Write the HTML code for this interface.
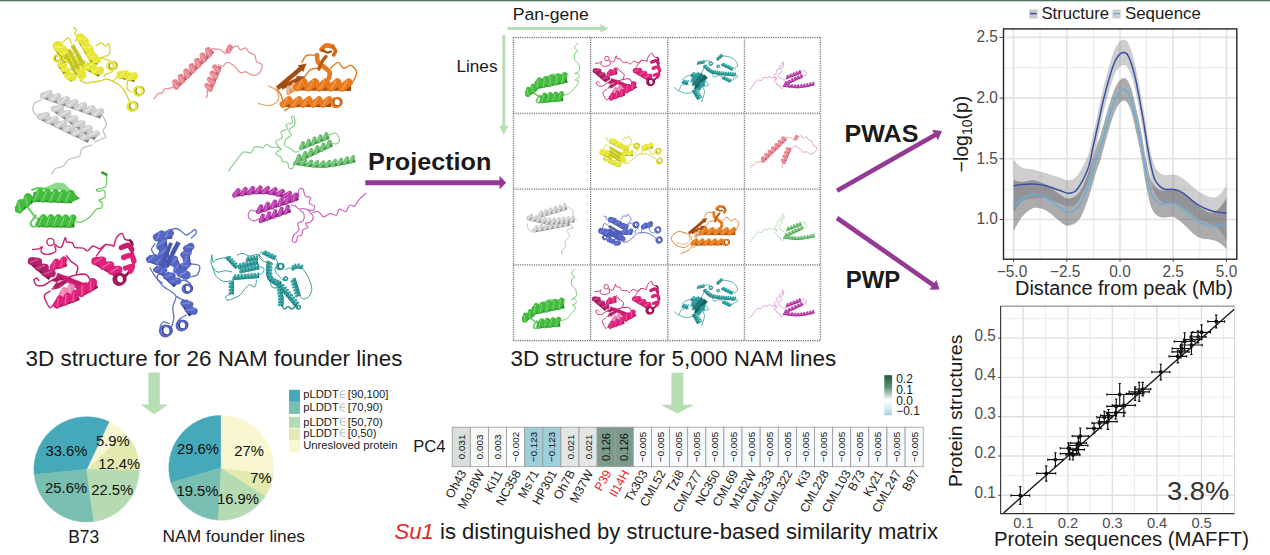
<!DOCTYPE html>
<html><head><meta charset="utf-8"><title>Figure</title>
<style>
html,body{margin:0;padding:0;background:#ffffff;}
body{width:1270px;height:555px;overflow:hidden;font-family:"Liberation Sans",sans-serif;}
svg{display:block;position:absolute;left:0;top:0;}
</style></head><body>
<svg width="1270" height="555" viewBox="0 0 1270 555" font-family='"Liberation Sans", sans-serif'><rect x="0" y="0" width="1270" height="1" fill="#47765a"/>
<rect x="0" y="1" width="1270" height="0.7" fill="#b3cbb9"/>
<text x="25.5" y="365.7" font-size="21.7" text-anchor="start" font-weight="normal" font-style="normal" fill="#1a1a1a" textLength="377" lengthAdjust="spacingAndGlyphs">3D structure for 26 NAM founder lines</text>
<text x="510.4" y="365.6" font-size="21.7" text-anchor="start" font-weight="normal" font-style="normal" fill="#1a1a1a" textLength="325.8" lengthAdjust="spacingAndGlyphs">3D structure for 5,000 NAM lines</text>
<text x="368.1" y="170.2" font-size="24.8" text-anchor="start" font-weight="bold" font-style="normal" fill="#1a1a1a" textLength="123.3" lengthAdjust="spacingAndGlyphs">Projection</text>
<text x="844.6" y="141.8" font-size="24.2" text-anchor="start" font-weight="bold" font-style="normal" fill="#1a1a1a" textLength="73.8" lengthAdjust="spacingAndGlyphs">PWAS</text>
<text x="845.7" y="288.2" font-size="24.2" text-anchor="start" font-weight="bold" font-style="normal" fill="#1a1a1a" textLength="54.5" lengthAdjust="spacingAndGlyphs">PWP</text>
<text x="512.7" y="19.8" font-size="17.2" text-anchor="start" font-weight="normal" font-style="normal" fill="#1a1a1a" textLength="76.2" lengthAdjust="spacingAndGlyphs">Pan-gene</text>
<text x="456.4" y="72" font-size="17.2" text-anchor="start" font-weight="normal" font-style="normal" fill="#1a1a1a" textLength="41.1" lengthAdjust="spacingAndGlyphs">Lines</text>
<path d="M365.3 180.2H499.5V175.8L506.2 182.7L499.5 189.6V185.2H365.3Z" fill="#943a94"/>
<path d="M838.1 192.8L936.2 137L938 140.2L942 131L932.1 129.7L933.9 133L835.9 188.8Z" fill="#943a94"/>
<path d="M835.7 219.9L931.6 286.7L929.5 289.8L939.5 289.4L936.4 279.9L934.3 282.9L838.3 216.1Z" fill="#943a94"/>
<path d="M507.4 26.9H600.3V24L608.6 28.4L600.3 32.8V29.9H507.4Z" fill="#b7deb2"/>
<path d="M502.3 35.3H505.3V125.7H508.6L503.8 134.5L499.2 125.7H502.3Z" fill="#b7deb2"/>
<path d="M148.4 372.6H159.8V404.6H168.2L154.3 414.2L140.7 404.6H148.4Z" fill="#b7deb2"/>
<path d="M671.4 372.8H683.4V404.8H694.2L677.4 413.4L660.6 404.8H671.4Z" fill="#b7deb2"/>
<line x1="514.1" y1="37.4" x2="514.1" y2="340.6" stroke="#d6d6d6" stroke-width="0.6"/>
<line x1="513.3" y1="37.4" x2="513.3" y2="340.6" stroke="#383838" stroke-width="0.9" stroke-dasharray="1 1.3"/>
<line x1="591.3" y1="37.4" x2="591.3" y2="340.6" stroke="#d6d6d6" stroke-width="0.6"/>
<line x1="590.5" y1="37.4" x2="590.5" y2="340.6" stroke="#383838" stroke-width="0.9" stroke-dasharray="1 1.3"/>
<line x1="668.5" y1="37.4" x2="668.5" y2="340.6" stroke="#d6d6d6" stroke-width="0.6"/>
<line x1="667.7" y1="37.4" x2="667.7" y2="340.6" stroke="#383838" stroke-width="0.9" stroke-dasharray="1 1.3"/>
<line x1="745.1" y1="37.4" x2="745.1" y2="340.6" stroke="#d6d6d6" stroke-width="0.6"/>
<line x1="744.3" y1="37.4" x2="744.3" y2="340.6" stroke="#383838" stroke-width="0.9" stroke-dasharray="1 1.3"/>
<line x1="821" y1="37.4" x2="821" y2="340.6" stroke="#d6d6d6" stroke-width="0.6"/>
<line x1="820.2" y1="37.4" x2="820.2" y2="340.6" stroke="#383838" stroke-width="0.9" stroke-dasharray="1 1.3"/>
<line x1="513.3" y1="38.2" x2="820.2" y2="38.2" stroke="#d6d6d6" stroke-width="0.6"/>
<line x1="513.3" y1="37.4" x2="820.2" y2="37.4" stroke="#383838" stroke-width="0.9" stroke-dasharray="1 1.3"/>
<line x1="513.3" y1="114" x2="820.2" y2="114" stroke="#d6d6d6" stroke-width="0.6"/>
<line x1="513.3" y1="113.2" x2="820.2" y2="113.2" stroke="#383838" stroke-width="0.9" stroke-dasharray="1 1.3"/>
<line x1="513.3" y1="189.8" x2="820.2" y2="189.8" stroke="#d6d6d6" stroke-width="0.6"/>
<line x1="513.3" y1="189" x2="820.2" y2="189" stroke="#383838" stroke-width="0.9" stroke-dasharray="1 1.3"/>
<line x1="513.3" y1="265.6" x2="820.2" y2="265.6" stroke="#d6d6d6" stroke-width="0.6"/>
<line x1="513.3" y1="264.8" x2="820.2" y2="264.8" stroke="#383838" stroke-width="0.9" stroke-dasharray="1 1.3"/>
<line x1="513.3" y1="341.4" x2="820.2" y2="341.4" stroke="#d6d6d6" stroke-width="0.6"/>
<line x1="513.3" y1="340.6" x2="820.2" y2="340.6" stroke="#383838" stroke-width="0.9" stroke-dasharray="1 1.3"/>
<g><path d="M41 100C39.8 100.7 35.2 102 34 104C32.8 106 32.7 109.8 33.5 112C34.3 114.2 38.1 116.2 39 117" fill="none" stroke="#c2c2c6" stroke-width="1.3" stroke-linecap="round" stroke-linejoin="round"/><path d="M102 115C102.8 116.5 106.3 121.3 106.5 124C106.7 126.7 103.1 128.8 103 131C102.9 133.2 106.3 135.7 106 137C105.7 138.3 102.8 138.2 101 139C99.2 139.8 96 141.5 95 142" fill="none" stroke="#c2c2c6" stroke-width="1.3" stroke-linecap="round" stroke-linejoin="round"/><path d="M92 145C90.3 145.6 84.1 146.7 82 148.5C79.9 150.3 81.7 154.2 79.5 156C77.3 157.8 71.8 157.8 69 159.5C66.2 161.2 64.8 165 62.5 166.5C60.2 168 57.2 167.2 55.5 168.5C53.8 169.8 52.6 173.1 52 174" fill="none" stroke="#c2c2c6" stroke-width="1.3" stroke-linecap="round" stroke-linejoin="round"/><path d="M38.5 116L47 120.1L55.4 124.1L63.8 128.2L72.2 132.3L80.6 136.4L89 140.5" fill="none" stroke="#8c8c90" stroke-width="5.5" stroke-linecap="butt" stroke-linejoin="round"/><path d="M40.2 116.8L47.2 115.3M48.6 120.9L55.6 119.3M57 125L64 123.4M65.5 129.1L72.5 127.5M73.9 133.2L80.9 131.6M82.3 137.2L89.3 135.7" fill="none" stroke="#cdcdcf" stroke-width="6.5" stroke-linecap="round"/><path d="M39.9 117.9L46.3 113.6M48.3 122L54.7 117.7M56.7 126L63.2 121.8M65.2 130.1L71.6 125.9M73.6 134.2L80 130M82 138.3L88.4 134.1" fill="none" stroke="#f4f4f4" stroke-width="1.7" stroke-linecap="round" opacity="0.6"/><path d="M41.3 95.1L49.8 98.1L58.4 101.1L67 104.1L75.6 107.1L84.1 110.1L92.7 113.1L101.3 116.1" fill="none" stroke="#8c8c90" stroke-width="5.5" stroke-linecap="butt" stroke-linejoin="round"/><path d="M42.9 95.8L49.6 93.2M51.5 98.8L58.2 96.2M60.1 101.8L66.8 99.2M68.7 104.8L75.3 102.2M77.2 107.8L83.9 105.2M85.8 110.8L92.5 108.2M94.4 113.8L101.1 111.2" fill="none" stroke="#cdcdcf" stroke-width="6.4" stroke-linecap="round"/><path d="M42.8 96.8L48.6 91.8M51.4 99.8L57.1 94.8M59.9 102.8L65.7 97.8M68.5 105.8L74.3 100.8M77.1 108.8L82.9 103.8M85.7 111.8L91.4 106.8M94.2 114.8L100 109.8" fill="none" stroke="#f4f4f4" stroke-width="1.6" stroke-linecap="round" opacity="0.6"/><path d="M52.7 107.8L59.9 112.9L67.1 118L74.2 123L81.4 128.1L88.6 133.2L95.7 138.3" fill="none" stroke="#8c8c90" stroke-width="5.5" stroke-linecap="butt" stroke-linejoin="round"/><path d="M54 109L61.1 108.1M61.2 114.1L68.3 113.2M68.4 119.2L75.5 118.3M75.5 124.2L82.6 123.3M82.7 129.3L89.8 128.4M89.9 134.4L97 133.5" fill="none" stroke="#cdcdcf" stroke-width="6.2" stroke-linecap="round"/><path d="M53.7 109.8L60.5 106.6M60.8 114.9L67.7 111.6M68 120L74.8 116.7M75.2 125.1L82 121.8M82.3 130.1L89.2 126.9M89.5 135.2L96.3 132" fill="none" stroke="#f4f4f4" stroke-width="1.6" stroke-linecap="round" opacity="0.6"/></g>
<g><path d="M73.5 27.5C74 27.9 76.3 29 76.5 30C76.7 31 74.4 32.4 74.5 33.5C74.6 34.6 76.8 35.2 77 36.5C77.2 37.8 75.8 40.2 75.5 41" fill="none" stroke="#d6d63a" stroke-width="1.3" stroke-linecap="round" stroke-linejoin="round"/><path d="M72 44C71.3 43 69.5 38.3 68 38C66.5 37.7 64.7 41 63 42C61.3 43 58.8 43.7 58 44" fill="none" stroke="#d6d63a" stroke-width="1.3" stroke-linecap="round" stroke-linejoin="round"/><path d="M96 46C96.8 45.5 99.3 43 101 43C102.7 43 104.7 45.8 106 46C107.3 46.2 108.4 42.7 109 44C109.6 45.3 110.5 51.8 109.5 54C108.5 56.2 104.6 56.3 103 57C101.4 57.7 99.2 57.5 100 58C100.8 58.5 105.8 59 108 60C110.2 61 112.3 62 113 64C113.7 66 113.2 70.3 112 72C110.8 73.7 107.3 73.2 106 74C104.7 74.8 104.3 76.5 104 77" fill="none" stroke="#d6d63a" stroke-width="1.3" stroke-linecap="round" stroke-linejoin="round"/><path d="M60 64C60.5 65 61.3 68.3 63 70C64.7 71.7 68.8 73.3 70 74" fill="none" stroke="#d6d63a" stroke-width="1.3" stroke-linecap="round" stroke-linejoin="round"/><path d="M80 80C81 80.5 83.8 82.7 86 83C88.2 83.3 90.7 82.3 93 82C95.3 81.7 97.7 81.5 100 81C102.3 80.5 104.8 78.9 107 79C109.2 79.1 111.2 80.7 113 81.5C114.8 82.3 116.2 82.6 118 84C119.8 85.4 122.1 87.2 124 90C125.9 92.8 128.4 99.2 129.3 101" fill="none" stroke="#d6d63a" stroke-width="1.4" stroke-linecap="round" stroke-linejoin="round"/><path d="M113 81.5C113.7 80.8 115.7 78.1 117 77C118.3 75.9 120.3 75.3 121 75" fill="none" stroke="#d6d63a" stroke-width="1.3" stroke-linecap="round" stroke-linejoin="round"/><path d="M128 80C127.8 81.3 126.5 86 127 88C127.5 90 130.3 91.3 131 92" fill="none" stroke="#d6d63a" stroke-width="1.3" stroke-linecap="round" stroke-linejoin="round"/><path d="M55.9 44.2L61.9 53L67.9 61.7" fill="none" stroke="#9d9d1c" stroke-width="8.3" stroke-linecap="butt" stroke-linejoin="round"/><path d="M57.5 45.8L62.5 50M63.5 54.5L68.5 58.7" fill="none" stroke="#e6e636" stroke-width="9.8" stroke-linecap="round"/><path d="M55.3 47.2L63.6 46.9M61.3 55.9L69.6 55.7" fill="none" stroke="#f6f68a" stroke-width="1.9" stroke-linecap="round" opacity="0.6"/><circle cx="58.2" cy="58.2" r="3.1" fill="none" stroke="#9d9d1c" stroke-width="1.6"/><circle cx="57" cy="58.5" r="3.4" fill="none" stroke="#e6e636" stroke-width="2"/><path d="M59.7 63.6L63 68.1L66.2 72.6" fill="none" stroke="#9d9d1c" stroke-width="6.3" stroke-linecap="butt" stroke-linejoin="round"/><path d="M59.7 65L64.6 65.5M62.9 69.5L67.8 70" fill="none" stroke="#e6e636" stroke-width="5.1" stroke-linecap="round"/><path d="M59 65.4L64.6 64.2M62.3 69.9L67.9 68.7" fill="none" stroke="#f6f68a" stroke-width="1" stroke-linecap="round" opacity="0.6"/><path d="M79.9 67.6L83.4 76.6" fill="none" stroke="#9d9d1c" stroke-width="6.3" stroke-linecap="butt" stroke-linejoin="round"/><path d="M81.7 75.2L79.8 69.8" fill="none" stroke="#e6e636" stroke-width="8.9" stroke-linecap="round"/><path d="M78.7 74.5L82.2 68.8" fill="none" stroke="#f6f68a" stroke-width="1.7" stroke-linecap="round" opacity="0.6"/><path d="M62.2 50.9L69.7 57.2L75.2 64.5L78.9 73.5" fill="none" stroke="#9d9d1c" stroke-width="7.9" stroke-linecap="butt" stroke-linejoin="round"/><path d="M63.9 52L69.6 54.3M70.5 58.9L76.2 61.3M76 66.3L80.3 70.7" fill="none" stroke="#e6e636" stroke-width="9" stroke-linecap="round"/><path d="M62.4 53.7L69.8 51.4M69 60.6L76.5 58.4M73.9 67.3L81.6 68.1" fill="none" stroke="#f6f68a" stroke-width="1.8" stroke-linecap="round" opacity="0.6"/><path d="M70.8 46.4L71.2 47.1L71.7 48L72.3 49.1L73 50.2L73.7 51.5L74.5 52.8L75.2 54.2L76 55.5L76.7 56.7L77.3 57.9L78 59.1L78.7 60.3L79.4 61.6L80.1 62.9L78.6 63.7L85 68L84.9 60.2L83.4 61.1L82.7 59.8L82 58.5L81.3 57.3L80.7 56.1L80 54.9L79.3 53.6L78.5 52.3L77.8 50.9L77 49.6L76.3 48.4L75.6 47.2L75 46.1L74.5 45.2L74.2 44.6Z" fill="#c4c428" stroke="#c4c428" stroke-width="0.4" stroke-linejoin="round"/><path d="M67.6 50.7L67.9 51.4L68.4 52.4L69 53.6L69.6 54.8L70.3 56.2L71 57.6L71.7 59L72.4 60.4L73 61.6L73.6 62.7L74.1 63.7L74.6 64.7L75 65.7L73.8 66.3L79 70L79.2 63.6L77.9 64.2L77.4 63.3L76.9 62.3L76.4 61.3L75.9 60.2L75.3 58.9L74.6 57.6L73.9 56.2L73.2 54.8L72.5 53.4L71.9 52.1L71.3 51L70.8 50L70.4 49.3Z" fill="#c4c428" stroke="#c4c428" stroke-width="0.4" stroke-linejoin="round"/><path d="M64.7 54.7L65 55.4L65.5 56.4L66.1 57.6L66.8 58.9L67.5 60.2L68.2 61.7L68.9 63.1L69.6 64.4L70.1 65.6L70.6 66.6L71.1 67.6L71.5 68.4L70.2 69L75 73L75.4 66.7L74.2 67.2L73.8 66.3L73.4 65.4L72.8 64.3L72.2 63.1L71.6 61.7L70.9 60.3L70.2 58.9L69.5 57.5L68.8 56.2L68.2 55L67.7 54.1L67.3 53.3Z" fill="#c4c428" stroke="#c4c428" stroke-width="0.4" stroke-linejoin="round"/><path d="M79 36.1L84 44.4L89 52.8L94 61.1" fill="none" stroke="#9d9d1c" stroke-width="7.5" stroke-linecap="butt" stroke-linejoin="round"/><path d="M80.4 37.6L84.6 41.8M85.4 45.9L89.6 50.1M90.4 54.2L94.6 58.4" fill="none" stroke="#e6e636" stroke-width="8.9" stroke-linecap="round"/><path d="M78.3 38.8L85.8 39M83.3 47.1L90.8 47.4M88.3 55.4L95.8 55.7" fill="none" stroke="#f6f68a" stroke-width="1.7" stroke-linecap="round" opacity="0.6"/><path d="M85.4 65.5L92.9 69.5L100.4 73.5" fill="none" stroke="#7c7c14" stroke-width="7.5" stroke-linecap="butt" stroke-linejoin="round"/><path d="M86.9 66.5L92.6 66.5M94.4 70.5L100.1 70.5" fill="none" stroke="#e6e636" stroke-width="7.8" stroke-linecap="round"/><path d="M86 68.1L92.1 64.2M93.5 72.1L99.6 68.2" fill="none" stroke="#f6f68a" stroke-width="1.5" stroke-linecap="round" opacity="0.6"/><path d="M66.5 74.8L73.5 79.3" fill="none" stroke="#9d9d1c" stroke-width="6.3" stroke-linecap="butt" stroke-linejoin="round"/><path d="M68.1 75.4L72.9 77.1" fill="none" stroke="#e6e636" stroke-width="7.7" stroke-linecap="round"/><path d="M67 77.1L72.8 74.6" fill="none" stroke="#f6f68a" stroke-width="1.5" stroke-linecap="round" opacity="0.6"/><path d="M89.5 56.7L94 59.7L98.5 62.7" fill="none" stroke="#9d9d1c" stroke-width="5.5" stroke-linecap="butt" stroke-linejoin="round"/><path d="M90.1 57.7L94.4 57.3M94.6 60.7L98.9 60.3" fill="none" stroke="#e6e636" stroke-width="5" stroke-linecap="round"/><path d="M89.6 58.5L94.1 55.9M94.1 61.5L98.6 58.9" fill="none" stroke="#f6f68a" stroke-width="1" stroke-linecap="round" opacity="0.6"/><circle cx="113" cy="65.6" r="3.8" fill="none" stroke="#9d9d1c" stroke-width="1.8"/><circle cx="111.5" cy="66" r="4.2" fill="none" stroke="#e6e636" stroke-width="2.2"/><path d="M118.7 74.6L127 76.6L135.2 78.6" fill="none" stroke="#6e6e12" stroke-width="7.1" stroke-linecap="butt" stroke-linejoin="round"/><path d="M120.4 74.9L125.8 74.1M128.7 76.9L134.1 76.1" fill="none" stroke="#e6e636" stroke-width="7.8" stroke-linecap="round"/><path d="M119.9 76.8L124.8 71.8M128.2 78.8L133 73.8" fill="none" stroke="#f6f68a" stroke-width="1.5" stroke-linecap="round" opacity="0.6"/><circle cx="139.8" cy="90.8" r="4" fill="none" stroke="#9d9d1c" stroke-width="1.8"/><circle cx="138.3" cy="91.2" r="4.4" fill="none" stroke="#e6e636" stroke-width="2.3"/><circle cx="133.5" cy="106.1" r="4" fill="none" stroke="#9d9d1c" stroke-width="1.9"/><circle cx="132" cy="106.5" r="4.4" fill="none" stroke="#e6e636" stroke-width="2.4"/></g>
<g><path d="M154.4 98.5C155 97.7 156.7 94.4 158 93.5C159.3 92.6 160.9 93.8 162 93C163.1 92.2 163.4 89.8 164.5 89C165.6 88.2 167.1 88.8 168.5 88.5C169.9 88.2 172.2 87.2 173 87" fill="none" stroke="#e4949c" stroke-width="1.3" stroke-linecap="round" stroke-linejoin="round"/><path d="M211.5 49C212.9 49.1 217.6 48.8 220 49.5C222.4 50.2 224.4 53.6 225.7 53.5C227 53.4 227.6 49.8 228 49" fill="none" stroke="#e4949c" stroke-width="1.3" stroke-linecap="round" stroke-linejoin="round"/><path d="M231.5 48C232.5 47.6 235.9 45.6 237.3 45.9C238.8 46.2 238.8 49.4 240.2 49.8C241.6 50.1 244.5 47.6 245.9 48C247.3 48.4 247.4 51.1 248.8 52.3C250.2 53.5 253.3 53.6 254.6 55.2C255.9 56.8 255.5 60.1 256.7 61.7C257.9 63.3 261.2 62.9 261.8 64.6C262.4 66.3 261.8 70 260.3 71.8C258.9 73.6 255.5 75.4 253.1 75.4C250.7 75.4 248.1 72.3 245.9 71.8C243.8 71.3 242.1 73.5 240.2 72.5C238.3 71.5 236.6 67.7 234.4 66C232.2 64.3 229.1 62.4 227.2 62.4C225.3 62.4 224.3 65.6 222.9 66C221.5 66.4 219.2 64.8 218.5 64.6" fill="none" stroke="#e4949c" stroke-width="1.3" stroke-linecap="round" stroke-linejoin="round"/><path d="M207 90.5C207.1 91.1 207.6 92.8 207.5 94C207.4 95.2 206.7 96.9 206.5 97.5" fill="none" stroke="#e4949c" stroke-width="1.3" stroke-linecap="round" stroke-linejoin="round"/><path d="M174.7 88.7L180.2 83.3L185.6 77.9L191.1 72.6L196.6 67.2L202 61.9L207.5 56.5L212.9 51.2" fill="none" stroke="#b25862" stroke-width="3.9" stroke-linecap="butt" stroke-linejoin="round"/><path d="M176.3 86.3L175.3 82.3M181.8 81L180.8 76.9M187.2 75.6L186.3 71.6M192.7 70.3L191.7 66.2M198.1 64.9L197.2 60.9M203.6 59.6L202.6 55.5M209.1 54.2L208.1 50.2" fill="none" stroke="#e8828c" stroke-width="6.1" stroke-linecap="round"/><path d="M176.9 87.3L173.9 82.2M182.3 82L179.3 76.8M187.8 76.6L184.8 71.4M193.3 71.3L190.3 66.1M198.7 65.9L195.7 60.7M204.2 60.6L201.2 55.4M209.6 55.2L206.6 50" fill="none" stroke="#f6bcc2" stroke-width="1.4" stroke-linecap="round" opacity="0.6"/><path d="M209.5 91.2L212.1 85L214.7 78.9L217.3 72.7L219.9 66.5" fill="none" stroke="#b25862" stroke-width="3.9" stroke-linecap="butt" stroke-linejoin="round"/><path d="M210.3 88.9L207.1 85.5M212.9 82.7L209.7 79.3M215.5 76.6L212.3 73.2M218.1 70.4L214.9 67" fill="none" stroke="#e8828c" stroke-width="5.4" stroke-linecap="round"/><path d="M210.9 89.4L206.1 86M213.5 83.3L208.7 79.8M216.1 77.1L211.3 73.6M218.7 70.9L213.9 67.4" fill="none" stroke="#f6bcc2" stroke-width="1.2" stroke-linecap="round" opacity="0.6"/><path d="M228.4 52.6L232.2 47" fill="none" stroke="#b25862" stroke-width="2.4" stroke-linecap="butt" stroke-linejoin="round"/><path d="M228.2 50.9L230 47.1" fill="none" stroke="#e8828c" stroke-width="5.4" stroke-linecap="round"/><path d="M229.5 51.6L228.1 47.3" fill="none" stroke="#f6bcc2" stroke-width="1.2" stroke-linecap="round" opacity="0.6"/></g>
<g><path d="M258.7 103.5C260.4 103.9 265.9 105.8 268.8 105.7C271.7 105.6 274.3 104.2 276 102.8C277.7 101.3 278.8 99.2 278.8 97C278.8 94.8 277.7 91.6 276 89.8C274.3 88 270 86.8 268.8 86.2" fill="none" stroke="#e9a46e" stroke-width="1.3" stroke-linecap="round" stroke-linejoin="round"/><path d="M284.6 110.7C285.6 110.1 288 107.8 290.4 107.1C292.8 106.4 297.6 106.5 299 106.4" fill="none" stroke="#e07a22" stroke-width="1.4" stroke-linecap="round" stroke-linejoin="round"/><path d="M302 62.4C302.7 61.3 304.1 56.8 306.3 55.6C308.5 54.4 313.6 55.3 315 55.2" fill="none" stroke="#e07a22" stroke-width="1.4" stroke-linecap="round" stroke-linejoin="round"/><path d="M304.8 76.8C305.8 75.6 308.2 71 310.6 69.6C313 68.2 317.8 68.4 319.2 68.2" fill="none" stroke="#e07a22" stroke-width="1.4" stroke-linecap="round" stroke-linejoin="round"/><path d="M330.8 68.2C332 67.2 335.8 62.4 338 62.4C340.2 62.4 341.6 67.7 343.8 68.2C346 68.7 348.9 64.6 351 65.3C353.1 66 356.5 69.6 356.7 72.5C356.9 75.4 353.6 80.4 352.4 82.6C351.2 84.8 350 85 349.5 85.5" fill="none" stroke="#e07a22" stroke-width="1.4" stroke-linecap="round" stroke-linejoin="round"/><path d="M277 89C277.7 90 280 93 281 95C282 97 282.7 100 283 101" fill="none" stroke="#e07a22" stroke-width="1.4" stroke-linecap="round" stroke-linejoin="round"/><path d="M278.9 89.8L281.7 87.4L284.6 84.9L287.5 82.5L290.4 80L293.3 77.6L296.1 75.2L299 72.7L301.9 70.3L303.1 71.7L306.3 63.8L298 65.6L299.2 67.1L296.3 69.5L293.4 72L290.5 74.4L287.7 76.8L284.8 79.3L281.9 81.7L279 84.2L276.1 86.6Z" fill="#a34c10" stroke="#a34c10" stroke-width="0.4" stroke-linejoin="round"/><path d="M282.4 89.3L284.7 88.3L287 87.2L289.4 86.1L291.7 85.1L294 84L296.3 83L298.7 81.9L299.5 83.6L304.8 76.8L296.2 76.3L296.9 78.1L294.6 79.1L292.3 80.2L290 81.2L287.6 82.3L285.3 83.4L283 84.4L280.6 85.5Z" fill="#a34c10" stroke="#a34c10" stroke-width="0.4" stroke-linejoin="round"/><path d="M287.1 93.6L292.1 90.4L297.1 87.1" fill="none" stroke="#c98552" stroke-width="4" stroke-linecap="butt" stroke-linejoin="round"/><path d="M288.3 93.3L288.7 87.4M293.3 90.1L293.7 84.2" fill="none" stroke="#eaa877" stroke-width="4.1" stroke-linecap="round"/><path d="M288.5 93.5L287.8 87.7M293.5 90.2L292.8 84.5" fill="none" stroke="#f6d2b4" stroke-width="1.1" stroke-linecap="round" opacity="0.6"/><path d="M294.7 87.5L305.9 87.6L317.2 87.7L328.5 87.8L339.7 87.9L351 88" fill="none" stroke="#a34c10" stroke-width="5.9" stroke-linecap="butt" stroke-linejoin="round"/><path d="M296.9 87.4L303.7 81.9M308.2 87.5L315 82M319.4 87.6L326.3 82.1M330.7 87.7L337.5 82.2M342 87.8L348.8 82.3" fill="none" stroke="#e8791c" stroke-width="7.7" stroke-linecap="round"/><path d="M297.2 88.6L302 80.7M308.4 88.7L313.2 80.8M319.7 88.8L324.5 80.9M330.9 88.9L335.7 81M342.2 89L347 81.1" fill="none" stroke="#f3a661" stroke-width="2" stroke-linecap="round" opacity="0.6"/><path d="M281 104.5L291 104.5L301 104.5L311 104.5L321 104.5L331 104.5" fill="none" stroke="#a34c10" stroke-width="5.2" stroke-linecap="butt" stroke-linejoin="round"/><path d="M283 104.4L289 99.6M293 104.4L299 99.6M303 104.4L309 99.6M313 104.4L319 99.6M323 104.4L329 99.6" fill="none" stroke="#e8791c" stroke-width="6.8" stroke-linecap="round"/><path d="M283.2 105.5L287.4 98.5M293.2 105.5L297.4 98.5M303.2 105.5L307.4 98.5M313.2 105.5L317.4 98.5M323.2 105.5L327.4 98.5" fill="none" stroke="#f3a661" stroke-width="1.8" stroke-linecap="round" opacity="0.6"/><circle cx="337.6" cy="102.1" r="4.1" fill="none" stroke="#a34c10" stroke-width="1.8"/><circle cx="336" cy="102.6" r="4.6" fill="none" stroke="#e8791c" stroke-width="2.2"/><path d="M317 55C317.2 56.2 316.8 60 318 62C319.2 64 322.1 65.3 324 67C325.9 68.7 328.7 70.2 329.5 72C330.3 73.8 329.1 77 329 78" fill="none" stroke="#e8791c" stroke-width="4.6" stroke-linecap="round" stroke-linejoin="round"/><path d="M326 56.5C325.2 57.5 322.7 60.4 321.5 62.5C320.3 64.6 319.4 67.9 319 69" fill="none" stroke="#b85c14" stroke-width="3.4" stroke-linecap="round" stroke-linejoin="round"/><path d="M321.5 49.5C322.2 48.8 324.2 46 326 45.5C327.8 45 331.4 46.3 332.5 46.5" fill="none" stroke="#e8791c" stroke-width="4.6" stroke-linecap="round" stroke-linejoin="round"/><path d="M332.5 46.5C333 47.2 335.3 49.6 335.5 51C335.7 52.4 333.8 54.3 333.5 55" fill="none" stroke="#d06a16" stroke-width="3.6" stroke-linecap="round" stroke-linejoin="round"/><path d="M322 50C322.8 50.4 325.5 52.2 327 52.5C328.5 52.8 330.3 51.7 331 51.5" fill="none" stroke="#a34c10" stroke-width="2.2" stroke-linecap="round" stroke-linejoin="round"/></g>
<g><path d="M228.4 170.9C229.8 169.1 234.4 163 236.9 159.9C239.4 156.8 241 153.3 243.4 152.1C245.8 150.9 249.2 153.7 251.1 152.8C253 151.9 253.1 147.8 255 146.9C256.9 146 260.9 148 262.8 147.6C264.8 147.2 265.2 144.3 266.7 144.3C268.2 144.3 269.9 147.2 271.9 147.6C273.8 148 276.9 146.6 278.4 146.9C279.9 147.2 280.6 149.1 281 149.5" fill="none" stroke="#8ccf90" stroke-width="1.2" stroke-linecap="round" stroke-linejoin="round"/><path d="M281 149.5C280.1 148.2 275.6 143.6 275.8 141.7C276 139.8 281.4 139.4 282.3 137.8C283.2 136.2 280.1 133.5 281 132C281.9 130.5 286.6 130 287.5 128.8C288.4 127.6 285.3 126 286.2 124.9C287.1 123.8 291.8 123.6 292.7 122.3C293.6 121 291.2 118 291.4 117.1C291.6 116.2 293.5 115.8 294 117.1C294.5 118.4 295.5 122.7 294.6 124.9C293.7 127.1 289.3 128.4 288.8 130.1C288.3 131.8 291.8 133.7 291.4 135.2C291 136.7 287.3 137.4 286.2 139.1C285.1 140.8 284.2 144.1 284.9 145.6C285.5 147.1 288.4 147.1 290.1 148.2C291.8 149.3 293.8 151.7 295.3 152.1C296.8 152.5 298.5 151 299.1 150.8" fill="none" stroke="#8ccf90" stroke-width="1.2" stroke-linecap="round" stroke-linejoin="round"/><path d="M281 149.5C280.1 150.2 275.8 152.1 275.8 153.4C275.8 154.7 279.9 156 281 157.3C282.1 158.6 281.2 160.3 282.3 161.2C283.4 162.1 286.4 161.4 287.5 162.5C288.6 163.6 287.9 166.7 288.8 167.7C289.7 168.7 291.8 169 292.7 168.3C293.6 167.7 293.8 164.6 294 163.8" fill="none" stroke="#8ccf90" stroke-width="1.2" stroke-linecap="round" stroke-linejoin="round"/><path d="M328.3 135.2C329.5 134.9 333.6 132.7 335.5 133.3C337.4 134 339.2 137.4 339.4 139.1C339.6 140.8 338.1 143 336.8 143.7C335.5 144.3 332.5 143.1 331.6 143" fill="none" stroke="#8ccf90" stroke-width="1.2" stroke-linecap="round" stroke-linejoin="round"/><path d="M299.8 148.7L305.6 146.4L311.5 144.1L317.3 141.8L323.2 139.5L329 137.2" fill="none" stroke="#3c8a44" stroke-width="3.2" stroke-linecap="butt" stroke-linejoin="round"/><path d="M301 148.3L303 143.2M306.8 146L308.9 140.9M312.7 143.7L314.7 138.6M318.5 141.4L320.6 136.3M324.4 139.1L326.4 134" fill="none" stroke="#67bd6c" stroke-width="4" stroke-linecap="round"/><path d="M301.3 148.6L302 143.2M307.1 146.3L307.8 140.9M313 144L313.7 138.6M318.8 141.7L319.5 136.3M324.7 139.4L325.3 134" fill="none" stroke="#a6dfa8" stroke-width="1.1" stroke-linecap="round" opacity="0.6"/><path d="M296.1 161.6L302.2 158.8L308.2 156L314.3 153.2L320.3 150.4L326.4 147.6L332.4 144.7" fill="none" stroke="#3c8a44" stroke-width="3.2" stroke-linecap="butt" stroke-linejoin="round"/><path d="M297.3 161L299.3 155.9M303.4 158.2L305.4 153.1M309.4 155.4L311.4 150.3M315.5 152.6L317.5 147.5M321.5 149.8L323.5 144.7M327.6 147L329.6 141.9" fill="none" stroke="#67bd6c" stroke-width="4.3" stroke-linecap="round"/><path d="M297.7 161.4L298.2 155.9M303.7 158.6L304.2 153.1M309.8 155.8L310.3 150.3M315.8 153L316.3 147.4M321.9 150.2L322.4 144.6M327.9 147.4L328.4 141.8" fill="none" stroke="#a6dfa8" stroke-width="1.2" stroke-linecap="round" opacity="0.6"/><path d="M293.8 163.1L299.8 164L305.9 164.8L312.1 165.6L318.4 166.1L324.7 166.1L331 165.4L337.2 164.4L343.2 163.2L349.3 161.9L355.3 160.7" fill="none" stroke="#3c8a44" stroke-width="3.2" stroke-linecap="butt" stroke-linejoin="round"/><path d="M295 163.4L299.1 159.8M301 164.2L305.3 160.7M307.1 165.1L311.4 161.5M313.3 165.8L317.4 162.1M319.6 166.1L323.5 162.2M325.9 166L329.4 161.7M332.2 165.3L335.3 160.7M338.4 164.3L341.3 159.6M344.5 163.1L347.3 158.3M350.5 161.8L353.3 157" fill="none" stroke="#67bd6c" stroke-width="3.9" stroke-linecap="round"/><path d="M295.1 163.8L298.2 159.3M301.1 164.6L304.4 160.2M307.3 165.5L310.5 161M313.5 166.1L316.5 161.6M319.7 166.5L322.5 161.8M326.1 166.3L328.4 161.4M332.4 165.7L334.3 160.5M338.6 164.6L340.3 159.4M344.7 163.4L346.3 158.2M350.8 162.1L352.2 156.9" fill="none" stroke="#a6dfa8" stroke-width="1.1" stroke-linecap="round" opacity="0.6"/></g>
<g><path d="M256.8 211.7C255.7 211.5 251.7 209.5 250.3 210.4C248.9 211.3 247.9 215.2 248.4 216.9C248.9 218.6 251.8 220.5 253.5 220.8C255.2 221.1 257.8 219.2 258.7 218.9" fill="none" stroke="#cc68c0" stroke-width="1.2" stroke-linecap="round" stroke-linejoin="round"/><path d="M297.7 197.5C297.9 196.2 298.1 191.1 299 189.7C299.9 188.3 301.8 187.9 302.9 189C304 190.1 304.1 194.8 305.4 196.2C306.7 197.6 310 196.3 310.6 197.5C311.2 198.7 308.7 201.9 309.3 203.3C309.9 204.7 313.9 204.7 314.5 205.9C315.1 207.1 314.3 209.8 313.2 210.4C312.1 211.1 309.7 210.1 308 209.8C306.3 209.5 304.4 208.6 302.9 208.5C301.4 208.4 300.3 209.5 299 209.1C297.7 208.7 296.4 206.6 295.1 205.9C293.8 205.2 291.9 205.3 291.2 205.2" fill="none" stroke="#cc68c0" stroke-width="1.2" stroke-linecap="round" stroke-linejoin="round"/><path d="M313.2 212.4C314.1 212.3 316.7 210.9 318.4 211.7C320.1 212.4 321.7 216.6 323.6 216.9C325.6 217.2 327.9 214 330.1 213.7C332.3 213.4 335.1 215.8 336.6 215C338.1 214.2 337.7 209.7 339.2 209.1C340.7 208.5 344 212.3 345.7 211.7C347.4 211 348.1 206.2 349.6 205.2C351.1 204.2 353.3 206.8 354.8 205.9C356.3 205.1 356.8 202.2 358.6 200.1C360.4 198 364.6 194.4 365.8 193.3" fill="none" stroke="#cc68c0" stroke-width="1.2" stroke-linecap="round" stroke-linejoin="round"/><path d="M308 209.8C308.9 211 312.8 214.9 313.2 216.9C313.6 218.9 311.9 221 310.6 222.1C309.3 223.2 305.8 222.5 305.4 223.4C305 224.3 308.4 226.2 308 227.3C307.6 228.4 304 228.6 302.9 229.9C301.8 231.2 302.5 234 301.6 235.1C300.7 236.2 298.6 235.3 297.7 236.4C296.8 237.5 297.3 240.7 296.4 241.6C295.5 242.5 292.9 242.7 292.5 241.6C292.1 240.5 292.7 237 293.8 235.1C294.9 233.2 298.4 231.8 299 229.9C299.6 228 297.1 224.9 297.7 223.4C298.3 221.9 301.8 222.3 302.9 220.8C304 219.3 304.5 216 304.1 214.3C303.7 212.6 300.9 211.1 300.3 210.4" fill="none" stroke="#cc68c0" stroke-width="1.2" stroke-linecap="round" stroke-linejoin="round"/><path d="M259.4 221.5L265.6 219.3L271.9 217.1L278.1 214.9L284.4 212.7L290.6 210.5" fill="none" stroke="#84207a" stroke-width="3.5" stroke-linecap="butt" stroke-linejoin="round"/><path d="M260.7 221.2L262.9 215.6M266.9 219L269.2 213.4M273.2 216.8L275.4 211.2M279.4 214.6L281.7 209M285.7 212.4L287.9 206.8" fill="none" stroke="#b93cab" stroke-width="4.2" stroke-linecap="round"/><path d="M261 221.5L261.9 215.6M267.2 219.3L268.1 213.4M273.5 217.1L274.3 211.2M279.7 214.9L280.6 209M285.9 212.7L286.8 206.8" fill="none" stroke="#dc86d2" stroke-width="1.2" stroke-linecap="round" opacity="0.6"/><path d="M233.1 195.7L240.4 194.4L247.6 193.2L254.8 192.3L261.8 191.9L268.9 192.6L275.9 194L283 195.7L290 197.6L297.2 199.6" fill="none" stroke="#84207a" stroke-width="3.5" stroke-linecap="butt" stroke-linejoin="round"/><path d="M234.5 195.3L238.3 190.6M241.9 194.2L245.4 189.3M249 193L252.8 188.3M256.2 192.3L260.2 187.7M263.3 192.1L267.8 188.2M270.3 192.9L275.3 189.5M277.4 194.3L282.6 191.3M284.4 196.1L289.7 193.2M291.5 197.9L296.8 195.2" fill="none" stroke="#b93cab" stroke-width="4.7" stroke-linecap="round"/><path d="M234.8 195.9L237.1 190.2M242.2 194.7L244.2 188.9M249.3 193.6L251.6 187.9M256.5 192.8L259 187.3M263.4 192.7L266.7 187.6M270.4 193.5L274.3 188.8M277.4 194.9L281.6 190.5M284.4 196.7L288.8 192.4M291.5 198.6L295.9 194.3" fill="none" stroke="#dc86d2" stroke-width="1.3" stroke-linecap="round" opacity="0.6"/><path d="M256.8 212.4L263.7 210.1L270.6 207.7L277.6 205.4L284.5 203.1L291.4 200.7L298.4 198.4" fill="none" stroke="#84207a" stroke-width="3.5" stroke-linecap="butt" stroke-linejoin="round"/><path d="M258.1 211.9L261 206.6M265.1 209.6L267.9 204.2M272 207.2L274.9 201.9M278.9 204.9L281.8 199.6M285.9 202.6L288.7 197.2M292.8 200.2L295.7 194.9" fill="none" stroke="#b93cab" stroke-width="4.7" stroke-linecap="round"/><path d="M258.5 212.4L259.7 206.4M265.4 210L266.7 204.1M272.4 207.7L273.6 201.7M279.3 205.4L280.5 199.4M286.2 203L287.5 197.1M293.2 200.7L294.4 194.7" fill="none" stroke="#dc86d2" stroke-width="1.3" stroke-linecap="round" opacity="0.6"/></g>
<g><path d="M74.9 220.5C75.7 220.8 77.4 223 79.9 222.4C82.4 221.8 87.3 218.9 90 216.7C92.7 214.5 94.4 210.7 96.3 209.2C98.2 207.7 100.5 209 101.4 207.9C102.4 206.8 102.4 204.1 102 202.8C101.6 201.5 98.9 200.9 98.8 200.3C98.7 199.7 100.4 199.7 101.4 199.1C102.5 198.5 104.7 198 105.1 196.5C105.5 195 105 191 103.9 190.2C102.9 189.4 100.1 191.6 98.8 191.5C97.5 191.4 95.9 190.1 96.3 189.6C96.7 189.1 99.8 188.8 101.4 188.3C103 187.8 104.9 187.8 105.8 186.4C106.7 185 106.5 181.9 106.6 180C106.7 178.1 106.9 176.3 106.2 175.1C105.5 173.9 103.2 173 102.6 172.6" fill="none" stroke="#66ca60" stroke-width="1.2" stroke-linecap="round" stroke-linejoin="round"/><path d="M102.4 172.6L106.4 174.6" fill="none" stroke="#2f9a2c" stroke-width="2.6" stroke-linecap="round" stroke-linejoin="round"/><path d="M28.2 207.9L35.8 218" fill="none" stroke="#66ca60" stroke-width="2" stroke-linecap="round" stroke-linejoin="round"/><path d="M35.8 215.5C34.9 216.8 31.1 221.1 30.7 223C30.3 224.9 32.2 226.4 33.2 226.8C34.2 227.2 36.4 225.8 37 225.6" fill="none" stroke="#66ca60" stroke-width="2" stroke-linecap="round" stroke-linejoin="round"/><path d="M40 190L56 182.5L64 183L78 197L60 190Z" fill="#8fd98a"/><path d="M32 190C33 189.7 35.3 188.2 38 188C40.7 187.8 46.3 188.8 48 189" fill="none" stroke="#66ca60" stroke-width="2" stroke-linecap="round" stroke-linejoin="round"/><path d="M17.4 210.1L24.4 204.3L31.4 198.6" fill="none" stroke="#248423" stroke-width="8.1" stroke-linecap="butt" stroke-linejoin="round"/><path d="M19 209.2L21 203.1M26 203.4L28 197.3" fill="none" stroke="#43bb3d" stroke-width="8.2" stroke-linecap="round"/><path d="M20.1 210.5L18.6 202.8M27.1 204.8L25.6 197" fill="none" stroke="#9be495" stroke-width="1.6" stroke-linecap="round" opacity="0.6"/><path d="M33.4 196.9L41.2 197.2L49 197.5L56.8 197.8L64.6 198.1L72.4 198.4" fill="none" stroke="#248423" stroke-width="9.6" stroke-linecap="butt" stroke-linejoin="round"/><path d="M34.9 198.7L39.9 192.2M42.7 199L47.7 192.5M50.5 199.3L55.5 192.8M58.3 199.6L63.3 193.1M66.1 199.9L71.1 193.4" fill="none" stroke="#43bb3d" stroke-width="7" stroke-linecap="round"/><path d="M34.9 199.5L38.5 191.4M42.7 199.8L46.3 191.7M50.5 200.1L54.1 192M58.3 200.4L61.9 192.3M66.1 200.7L69.7 192.6" fill="none" stroke="#9be495" stroke-width="1.4" stroke-linecap="round" opacity="0.6"/><path d="M70.5 190.6L80 198.6L70.5 202.8Z" fill="#3fb93a"/><path d="M37.5 222.4L44.9 222.5L52.3 222.6L59.7 222.7L67.1 222.7L74.5 222.8" fill="none" stroke="#248423" stroke-width="9.4" stroke-linecap="butt" stroke-linejoin="round"/><path d="M38.9 224.2L43.5 217.5M46.3 224.3L50.9 217.6M53.7 224.4L58.3 217.6M61.1 224.4L65.7 217.7M68.5 224.5L73.1 217.8" fill="none" stroke="#43bb3d" stroke-width="6.7" stroke-linecap="round"/><path d="M38.9 224.8L42.1 216.8M46.3 224.9L49.5 216.9M53.7 225L56.9 217M61.1 225.1L64.3 217.1M68.5 225.2L71.7 217.1" fill="none" stroke="#9be495" stroke-width="1.3" stroke-linecap="round" opacity="0.6"/></g>
<g><path d="M32.6 249.5C33.6 249.4 37.3 249.3 38.9 248.8C40.5 248.3 41.9 246.2 42.3 246.7C42.6 247.2 40.2 250.3 41 251.6C41.8 252.9 44.8 254.4 47.2 254.4C49.6 254.4 54.2 253 55.5 251.6C56.8 250.2 54.9 246.9 54.8 246" fill="none" stroke="#c8246f" stroke-width="1.4" stroke-linecap="round" stroke-linejoin="round"/><circle cx="50.5" cy="242" r="3.6" fill="none" stroke="#c8246f" stroke-width="1.4"/><path d="M54.8 244.6C55.8 245.1 59.4 248.6 61.1 247.4C62.8 246.2 64.3 238.6 65.2 237.7C66.1 236.8 65.4 241.1 66.6 241.9C67.8 242.7 70.8 241.7 72.2 242.6C73.6 243.5 73.1 246.5 74.9 247.4C76.8 248.3 81.2 247.5 83.3 248.1C85.4 248.7 85.8 251.2 87.4 250.9C89 250.6 90.9 246.3 93 246C95.1 245.7 97.8 249 99.9 248.8C102 248.6 103.2 245.1 105.5 244.6C107.8 244.1 112.4 245.8 113.8 246" fill="none" stroke="#c8246f" stroke-width="1.4" stroke-linecap="round" stroke-linejoin="round"/><path d="M113.8 246C114.3 244.6 115.2 239.8 116.6 237.7C118 235.6 120.7 233.3 122.1 233.5C123.5 233.7 123.5 237.9 124.9 239.1C126.3 240.3 129.5 240.3 130.4 240.5" fill="none" stroke="#c8246f" stroke-width="1.5" stroke-linecap="round" stroke-linejoin="round"/><path d="M105.5 244.6C104.6 245.7 101.5 249.1 100 251C98.5 252.9 97.1 255.2 96.5 256" fill="none" stroke="#c8246f" stroke-width="1.4" stroke-linecap="round" stroke-linejoin="round"/><path d="M66.6 255.7C67.3 256.6 68.9 259.4 70.8 261.3C72.7 263.2 76.8 264.7 77.7 266.8C78.6 268.9 76.5 272.6 76.3 273.8" fill="none" stroke="#c8246f" stroke-width="1.5" stroke-linecap="round" stroke-linejoin="round"/><path d="M34 280C34.4 280.8 34.6 284 36.1 284.9C37.6 285.8 40.7 286.2 43 285.6C45.3 285 48 282.6 50 281.4C52 280.2 54 279.1 54.8 278.6" fill="none" stroke="#c8246f" stroke-width="1.5" stroke-linecap="round" stroke-linejoin="round"/><path d="M34 280C34.4 279.7 35.7 277.9 36.5 278C37.3 278.1 38.4 280.2 38.8 280.6" fill="none" stroke="#c8246f" stroke-width="1.3" stroke-linecap="round" stroke-linejoin="round"/><path d="M50 291.1C49.1 291.8 45.1 293.7 44.4 295.3C43.7 296.9 44.9 298.7 45.8 300.8C46.7 302.9 48.6 307.3 50 307.8C51.4 308.3 53.4 304.3 54.1 303.6" fill="none" stroke="#c8246f" stroke-width="1.4" stroke-linecap="round" stroke-linejoin="round"/><path d="M52 289C53.3 288.7 57 288.7 60 287C63 285.3 68.3 280.3 70 279" fill="none" stroke="#c8246f" stroke-width="1.3" stroke-linecap="round" stroke-linejoin="round"/><path d="M66.6 278C68.2 277.5 72.8 275.6 76 275C79.2 274.4 83.6 273.7 86 274.5C88.4 275.3 89.5 279.1 90.2 280" fill="none" stroke="#c8246f" stroke-width="1.6" stroke-linecap="round" stroke-linejoin="round"/><path d="M56.1 277.3L59.6 278.6L63.1 279.9L66.5 281.2L70 282.5L73.5 283.9L76.9 285.2L80.4 286.5L83.9 287.8L83.2 289.7L91.6 288.4L86.1 281.9L85.4 283.7L82 282.4L78.5 281.1L75 279.7L71.6 278.4L68.1 277.1L64.6 275.8L61.2 274.5L57.7 273.1Z" fill="#c41a6a" stroke="#c41a6a" stroke-width="0.4" stroke-linejoin="round"/><path d="M70 277.1L68.2 278L66.4 278.9L64.6 279.8L62.8 280.7L61 281.6L59.2 282.5L57.4 283.5L56.7 282.1L52.7 287.7L59.6 287.9L58.9 286.5L60.7 285.6L62.5 284.7L64.3 283.8L66.1 282.8L67.9 281.9L69.8 281L71.6 280.1Z" fill="#b01860" stroke="#b01860" stroke-width="0.4" stroke-linejoin="round"/><path d="M66.3 276.1L64.8 276.4L63.3 276.8L61.7 277.1L60.2 277.4L58.7 277.7L57.2 278L56.9 276.7L51.4 280.7L58 282.3L57.8 280.9L59.3 280.6L60.8 280.3L62.3 280L63.9 279.7L65.4 279.4L66.9 279.1Z" fill="#b01860" stroke="#b01860" stroke-width="0.4" stroke-linejoin="round"/><path d="M62.9 278.5L64.9 280L66.9 281.5L68.9 283L70.9 284.5L72.9 286L74.9 287.5L76.9 289L75.8 290.4L84 292L80.2 284.6L79.1 286L77.1 284.5L75.1 283L73.1 281.5L71.1 280L69.1 278.5L67.1 277L65.1 275.5Z" fill="#d21e74" stroke="#d21e74" stroke-width="0.4" stroke-linejoin="round"/><path d="M30.4 259.8L37.2 265.7L44 271.5L50.9 277.3" fill="none" stroke="#780f42" stroke-width="7.2" stroke-linecap="butt" stroke-linejoin="round"/><path d="M31.6 261.1L38.2 261.7M38.5 267L45 267.5M45.3 272.8L51.9 273.4" fill="none" stroke="#b4206a" stroke-width="7.7" stroke-linecap="round"/><path d="M30.6 262.3L38 259.5M37.5 268.2L44.8 265.3M44.3 274L51.7 271.2" fill="none" stroke="#e072a6" stroke-width="1.6" stroke-linecap="round" opacity="0.6"/><path d="M51.4 267.2L58.9 265.2L66.4 263.1" fill="none" stroke="#9c1050" stroke-width="6.8" stroke-linecap="butt" stroke-linejoin="round"/><path d="M53.1 267.3L56.4 261.9M60.6 265.2L63.9 259.8" fill="none" stroke="#e0217c" stroke-width="6.7" stroke-linecap="round"/><path d="M53.4 268.4L54.8 261.1M60.9 266.3L62.3 259.1" fill="none" stroke="#f47db2" stroke-width="1.4" stroke-linecap="round" opacity="0.6"/><path d="M60.4 295.9L67.3 292.5L74.2 289" fill="none" stroke="#c45088" stroke-width="6.1" stroke-linecap="butt" stroke-linejoin="round"/><path d="M61.8 295.4L64.5 290.4M68.7 291.9L71.4 286.9" fill="none" stroke="#f07fb4" stroke-width="6.6" stroke-linecap="round"/><path d="M62.4 296.6L62.7 289.8M69.3 293.1L69.6 286.3" fill="none" stroke="#fbc0da" stroke-width="1.4" stroke-linecap="round" opacity="0.6"/><path d="M55.1 305.1L62.9 302.3L70.8 299.5L78.6 296.7" fill="none" stroke="#9c1050" stroke-width="7.2" stroke-linecap="butt" stroke-linejoin="round"/><path d="M56.8 304.9L60 299.1M64.6 302.1L67.9 296.3M72.5 299.3L75.7 293.5" fill="none" stroke="#e0217c" stroke-width="7.2" stroke-linecap="round"/><path d="M57.3 306.1L58.2 298.4M65.1 303.3L66.1 295.6M72.9 300.5L73.9 292.8" fill="none" stroke="#f47db2" stroke-width="1.5" stroke-linecap="round" opacity="0.6"/><path d="M79.4 293.8L87.9 289.1L96.4 284.4" fill="none" stroke="#9c1050" stroke-width="7.5" stroke-linecap="butt" stroke-linejoin="round"/><path d="M81.1 292.9L84.4 286.8M89.6 288.2L92.9 282.1" fill="none" stroke="#e0217c" stroke-width="8.4" stroke-linecap="round"/><path d="M82 294.4L82 286.1M90.5 289.7L90.5 281.4" fill="none" stroke="#f47db2" stroke-width="1.7" stroke-linecap="round" opacity="0.6"/><path d="M93.8 260.1L101.9 264.8L110 269.5L118.1 274.2" fill="none" stroke="#9c1050" stroke-width="7.5" stroke-linecap="butt" stroke-linejoin="round"/><path d="M95.3 261.2L102.2 260.5M103.4 265.9L110.3 265.2M111.5 270.6L118.4 269.9" fill="none" stroke="#e0217c" stroke-width="8.1" stroke-linecap="round"/><path d="M94.5 262.6L101.6 258.3M102.6 267.3L109.7 263M110.7 272L117.8 267.7" fill="none" stroke="#f47db2" stroke-width="1.7" stroke-linecap="round" opacity="0.6"/><path d="M130 240.5C130.4 241 132.1 242.2 132.3 243.7C132.6 245.1 131.2 246.2 131.5 249.2C131.8 252.2 134.2 258 133.9 261.7C133.7 265.4 131.7 268.6 130 271.1C128.3 273.7 125 276 124 277" fill="none" stroke="#8c1048" stroke-width="2.6" stroke-linecap="round" stroke-linejoin="round"/><path d="M121.3 247.6C122.5 247.2 126.7 244.9 128.4 245.2C130.2 245.5 131.2 248.9 131.8 249.6" fill="none" stroke="#c81c6e" stroke-width="5.2" stroke-linecap="round" stroke-linejoin="round"/><path d="M123.7 257.4C125 257 129.5 254.6 131.2 255.2C132.9 255.8 133.4 260.2 133.9 261.2" fill="none" stroke="#e0217c" stroke-width="5.4" stroke-linecap="round" stroke-linejoin="round"/><path d="M125.3 268.2C126.5 267.9 131.8 265.7 132.6 266.2C133.4 266.7 130.8 270.4 130.4 271.3" fill="none" stroke="#e0217c" stroke-width="5" stroke-linecap="round" stroke-linejoin="round"/><circle cx="120.8" cy="278.9" r="4.7" fill="none" stroke="#7c0f44" stroke-width="2.2"/><circle cx="119" cy="279.4" r="5.2" fill="none" stroke="#a31458" stroke-width="2.7"/></g>
<g><path d="M170 230C171 229.8 174.2 228.3 176 228.5C177.8 228.7 179.3 229.9 181 231C182.7 232.1 184.5 234.7 186 235C187.5 235.3 188.5 233.9 190 233C191.5 232.1 194 229.4 195 229.5C196 229.6 196.6 232.1 196 233.5C195.4 234.9 192.2 237.2 191.5 238" fill="none" stroke="#5e6fc6" stroke-width="1.3" stroke-linecap="round" stroke-linejoin="round"/><path d="M155 244C154.4 244.8 151.7 247.3 151.5 249C151.3 250.7 153.6 253.2 154 254" fill="none" stroke="#5e6fc6" stroke-width="1.3" stroke-linecap="round" stroke-linejoin="round"/><path d="M191 264C192.4 264.3 198.4 264.2 199.5 266C200.6 267.8 198.9 272.7 197.5 274.5C196.1 276.3 192.1 276.6 191 277" fill="none" stroke="#5e6fc6" stroke-width="1.3" stroke-linecap="round" stroke-linejoin="round"/><path d="M150 268C150.6 269 152.2 272 153.5 274C154.8 276 156.2 277.8 158 280C159.8 282.2 161.8 285.1 164 287C166.2 288.9 169 289.9 171 291.5C173 293.1 175.8 293.8 176.1 296.4C176.4 299 173.2 303.6 172.8 307.2C172.4 310.8 174.1 314.8 173.9 318C173.7 321.2 172.2 325.2 171.8 326.6" fill="none" stroke="#5e6fc6" stroke-width="1.3" stroke-linecap="round" stroke-linejoin="round"/><path d="M160 272C159.5 273 156.7 276.2 157 278C157.3 279.8 161.2 282.2 162 283" fill="none" stroke="#5e6fc6" stroke-width="1.3" stroke-linecap="round" stroke-linejoin="round"/><path d="M178.5 283C179.4 282.5 182 279.9 184 280C186 280.1 189.4 282.9 190.5 283.5" fill="none" stroke="#5e6fc6" stroke-width="1.3" stroke-linecap="round" stroke-linejoin="round"/><path d="M176.5 296.5C177.2 296.9 179.8 298.4 181 299C182.2 299.6 183.5 299.8 184 300" fill="none" stroke="#5e6fc6" stroke-width="1.3" stroke-linecap="round" stroke-linejoin="round"/><path d="M186 315C185.2 315.5 182.3 317 181 318C179.7 319 178.5 320.5 178 321" fill="none" stroke="#5e6fc6" stroke-width="1.3" stroke-linecap="round" stroke-linejoin="round"/><path d="M160 327C160.5 326.2 161.5 322.6 163 322C164.5 321.4 168 323.2 169 323.5" fill="none" stroke="#5e6fc6" stroke-width="1.3" stroke-linecap="round" stroke-linejoin="round"/><path d="M148.2 258.5L155.5 260.7L162.8 262.9" fill="none" stroke="#34428c" stroke-width="7.5" stroke-linecap="butt" stroke-linejoin="round"/><path d="M149.5 259.5L154.8 257.5M156.8 261.7L162.1 259.7" fill="none" stroke="#5566c5" stroke-width="7" stroke-linecap="round"/><path d="M149 260.8L153.9 255.8M156.3 263L161.2 258" fill="none" stroke="#8f9de6" stroke-width="1.4" stroke-linecap="round" opacity="0.6"/><path d="M155.2 237.6L163.6 236.2L172 234.9" fill="none" stroke="#34428c" stroke-width="7.1" stroke-linecap="butt" stroke-linejoin="round"/><path d="M156.8 237.3L161.6 234.4M165.2 235.9L170 233" fill="none" stroke="#5566c5" stroke-width="7.8" stroke-linecap="round"/><path d="M157.1 239.2L159.7 232.7M165.5 237.8L168.1 231.4" fill="none" stroke="#8f9de6" stroke-width="1.5" stroke-linecap="round" opacity="0.6"/><path d="M162.3 238.8L163.5 247.9L165.1 256.8L167.1 265.7" fill="none" stroke="#34428c" stroke-width="8.3" stroke-linecap="butt" stroke-linejoin="round"/><path d="M160.4 246.5L162.8 240.6M161.8 255.5L164.2 249.6M163.8 264.5L165.8 258.5" fill="none" stroke="#5566c5" stroke-width="8.4" stroke-linecap="round"/><path d="M158.3 245.1L164.7 240.3M159.7 254.1L166.1 249.3M161.6 263.3L167.6 258.1" fill="none" stroke="#8f9de6" stroke-width="1.6" stroke-linecap="round" opacity="0.6"/><path d="M176.6 241.3L176.3 242.1L175.7 243L175.1 244.2L174.4 245.5L173.7 246.8L172.9 248.3L172.2 249.8L171.4 251.3L170.7 252.8L170.1 254.2L169.5 255.6L168.9 257.1L168.3 258.6L167.7 260.2L166 259.5L167.2 268.2L173.5 262.2L171.7 261.6L172.3 260.1L172.8 258.6L173.4 257.1L173.9 255.8L174.5 254.5L175.2 253.1L175.9 251.7L176.7 250.2L177.4 248.8L178.1 247.4L178.8 246.2L179.4 245L180 244L180.4 243.3Z" fill="#4656ac" stroke="#4656ac" stroke-width="0.4" stroke-linejoin="round"/><path d="M169.4 242.4L168.4 245.1L167.3 247.8L166.3 250.5L165.2 253.2L164.2 255.9L163.1 258.6L162.1 261.3L161 264L159.6 263.4L160.5 270L165.6 265.8L164.2 265.2L165.2 262.5L166.3 259.8L167.3 257.1L168.4 254.4L169.4 251.7L170.5 249L171.5 246.3L172.6 243.6Z" fill="#4656ac" stroke="#4656ac" stroke-width="0.4" stroke-linejoin="round"/><path d="M191.8 245.1L187.3 250.9L186.5 256.3L187.6 263.9L182.3 269.2" fill="none" stroke="#34428c" stroke-width="6.7" stroke-linecap="butt" stroke-linejoin="round"/><path d="M186.4 248.5L191 246.4M183.7 254.8L188.3 252.5M186.7 262.6L185.7 257.6M181.7 266.8L186.5 264.9" fill="none" stroke="#5566c5" stroke-width="6.8" stroke-linecap="round"/><path d="M185.9 246.5L192.3 247.3M183.2 252.8L189.6 253.4M184.6 262.6L186.9 256.6M181.4 264.8L187.7 265.9" fill="none" stroke="#8f9de6" stroke-width="1.3" stroke-linecap="round" opacity="0.6"/><path d="M173.9 257.6L176.4 264.1L178.9 270.6" fill="none" stroke="#34428c" stroke-width="6.3" stroke-linecap="butt" stroke-linejoin="round"/><path d="M173.9 263.6L174.6 258.9M176.4 270.1L177.1 265.4" fill="none" stroke="#5566c5" stroke-width="6.4" stroke-linecap="round"/><path d="M172.1 263L176 258.3M174.6 269.5L178.5 264.8" fill="none" stroke="#8f9de6" stroke-width="1.3" stroke-linecap="round" opacity="0.6"/><path d="M155 268.4L159.8 270.9L164.5 273.4" fill="none" stroke="#34428c" stroke-width="6.3" stroke-linecap="butt" stroke-linejoin="round"/><path d="M155.6 269.7L160.2 267.8M160.3 272.2L164.9 270.3" fill="none" stroke="#5566c5" stroke-width="4.9" stroke-linecap="round"/><path d="M155.2 270.3L159.7 266.7M160 272.8L164.4 269.2" fill="none" stroke="#8f9de6" stroke-width="1" stroke-linecap="round" opacity="0.6"/><path d="M165.7 274.4L171.2 279.4L176.7 284.4" fill="none" stroke="#2a3570" stroke-width="7.9" stroke-linecap="butt" stroke-linejoin="round"/><path d="M166.2 276L172.3 276M171.7 281L177.8 281" fill="none" stroke="#5566c5" stroke-width="6.8" stroke-linecap="round"/><path d="M165.4 276.9L172.1 274.1M170.9 281.9L177.6 279.1" fill="none" stroke="#8f9de6" stroke-width="1.3" stroke-linecap="round" opacity="0.6"/><path d="M178.6 272.8L187.6 276.8" fill="none" stroke="#34428c" stroke-width="5.9" stroke-linecap="butt" stroke-linejoin="round"/><path d="M180.8 272.9L186.2 275.1" fill="none" stroke="#5566c5" stroke-width="9.1" stroke-linecap="round"/><path d="M179.8 275.1L185.6 272.2" fill="none" stroke="#8f9de6" stroke-width="1.8" stroke-linecap="round" opacity="0.6"/><circle cx="188.4" cy="288.4" r="3.8" fill="none" stroke="#34428c" stroke-width="1.8"/><circle cx="186.9" cy="288.8" r="4.2" fill="none" stroke="#5566c5" stroke-width="2.2"/><path d="M183.7 301.4L188 307.8L192.4 314.3" fill="none" stroke="#2a3570" stroke-width="7.9" stroke-linecap="butt" stroke-linejoin="round"/><path d="M184 303.1L189.8 304.8M188.3 309.5L194.1 311.2" fill="none" stroke="#5566c5" stroke-width="7.2" stroke-linecap="round"/><path d="M182.8 303.8L190.1 302.8M187.2 310.3L194.5 309.3" fill="none" stroke="#8f9de6" stroke-width="1.4" stroke-linecap="round" opacity="0.6"/><circle cx="183.2" cy="325" r="4.3" fill="none" stroke="#34428c" stroke-width="1.9"/><circle cx="181.5" cy="325.5" r="4.8" fill="none" stroke="#5566c5" stroke-width="2.4"/><circle cx="167.1" cy="330.5" r="4.7" fill="none" stroke="#34428c" stroke-width="2"/><circle cx="165.3" cy="331" r="5.2" fill="none" stroke="#5566c5" stroke-width="2.5"/></g>
<g><path d="M211.8 255.1C212 256.4 212.4 261.8 213.1 262.6C213.8 263.4 214 260.7 215.8 259.9C217.6 259.1 222 258.2 223.9 257.8C225.8 257.4 226.7 257.3 227.3 257.2" fill="none" stroke="#3a9c9c" stroke-width="1" stroke-linecap="round" stroke-linejoin="round"/><path d="M212.4 266.6C213.2 267.5 215 271.3 217.2 272C219.3 272.7 222.8 270.7 225.3 270.7C227.8 270.7 230.9 271.8 232 272" fill="none" stroke="#3a9c9c" stroke-width="1" stroke-linecap="round" stroke-linejoin="round"/><path d="M211.8 255.1C211.7 256.2 210.9 260.1 211 262C211.1 263.9 211.8 264.8 212.4 266.6C213 268.4 213.7 271.2 214.5 273C215.3 274.8 215.6 276 217.2 277.4C218.8 278.8 221.7 280.9 223.9 281.5C226.2 282.1 229.6 280.9 230.7 280.8" fill="none" stroke="#3a9c9c" stroke-width="1" stroke-linecap="round" stroke-linejoin="round"/><path d="M227.3 300.4C228.1 300.2 229.9 299.9 232 299C234.1 298.1 237.8 296.8 240.1 295C242.3 293.2 243.9 289.9 245.5 288.2C247.1 286.5 248 285.1 249.6 284.9C251.2 284.7 253.9 287.7 255 286.9C256.1 286.1 256.2 281.2 256.4 280.1" fill="none" stroke="#3a9c9c" stroke-width="1" stroke-linecap="round" stroke-linejoin="round"/><path d="M227.3 300.4C227 299.8 225.2 297.9 225.5 297C225.8 296.1 228.4 295.3 229 295" fill="none" stroke="#3a9c9c" stroke-width="1" stroke-linecap="round" stroke-linejoin="round"/><path d="M237.4 255C238.3 254.8 240.9 253.3 243 253.5C245.1 253.7 247.6 255.8 250 256C252.4 256.2 255.5 254.2 257.5 254.5C259.5 254.8 261.2 257.4 262 258" fill="none" stroke="#3a9c9c" stroke-width="1" stroke-linecap="round" stroke-linejoin="round"/><path d="M259 266.6C259.8 266.9 263.4 267.4 264 268.5C264.6 269.6 263.4 271.9 262.5 273C261.6 274.1 259.2 274.7 258.5 275" fill="none" stroke="#3a9c9c" stroke-width="1" stroke-linecap="round" stroke-linejoin="round"/><path d="M261.5 251.5C261.1 252.2 258.8 254.4 259 256C259.2 257.6 261.4 259.9 263 261C264.6 262.1 267.6 262.3 268.5 262.6" fill="none" stroke="#3a9c9c" stroke-width="1" stroke-linecap="round" stroke-linejoin="round"/><path d="M275.3 257.8C275.7 258.7 277.6 261 277.5 263C277.4 265 274.8 267.8 275 270C275.2 272.2 277.5 274.2 279 276C280.5 277.8 283.2 280.2 284 281" fill="none" stroke="#3a9c9c" stroke-width="1" stroke-linecap="round" stroke-linejoin="round"/><path d="M302.3 268C303.2 269.4 306.1 272.7 307.7 276.1C309.3 279.5 311.6 284.8 311.8 288.2C312 291.6 310.4 294.5 309 296.3C307.6 298.1 305.2 299 303.6 299C302 299 300.3 296.8 299.6 296.3" fill="none" stroke="#3a9c9c" stroke-width="1" stroke-linecap="round" stroke-linejoin="round"/><path d="M285 270C285.6 269.7 287.4 268.2 288.5 268C289.6 267.8 291 268.5 291.5 268.6" fill="none" stroke="#3a9c9c" stroke-width="1" stroke-linecap="round" stroke-linejoin="round"/><path d="M269.9 280C270.2 281.2 270.8 285.7 272 287C273.2 288.3 276.2 287.8 277 288" fill="none" stroke="#3a9c9c" stroke-width="1" stroke-linecap="round" stroke-linejoin="round"/><path d="M282 306C282.4 306.5 283.5 308.9 284.5 309C285.5 309.1 286.8 306.5 288 306.5C289.2 306.5 290.5 309.3 292 309C293.5 308.7 296.1 305.2 296.9 304.5" fill="none" stroke="#3a9c9c" stroke-width="1.6" stroke-linecap="round" stroke-linejoin="round"/><path d="M226.4 257.3L228.5 259.5L230.5 261.6L232.5 263.8L234.5 266L236.5 268.1" fill="none" stroke="#186464" stroke-width="2.7" stroke-linecap="butt" stroke-linejoin="round"/><path d="M226.4 258.1L230.2 257M228.4 260.3L232.2 259.2M230.5 262.5L234.2 261.3M232.5 264.6L236.3 263.5M234.5 266.8L238.3 265.7" fill="none" stroke="#2b9b9b" stroke-width="2.2" stroke-linecap="round"/><path d="M226.5 258.1L229.8 256.7M228.5 260.3L231.9 258.9M230.5 262.5L233.9 261M232.5 264.6L235.9 263.2M234.6 266.8L237.9 265.3" fill="none" stroke="#6cc6c6" stroke-width="0.5" stroke-linecap="round" opacity="0.6"/><path d="M238.4 267.8L241.7 266.9L245 266L248.2 265.1L251.5 264.2L254.8 263.3L258 262.4" fill="none" stroke="#186464" stroke-width="2.9" stroke-linecap="butt" stroke-linejoin="round"/><path d="M239.2 268.1L240.3 264.2M242.5 267.2L243.5 263.3M245.7 266.3L246.8 262.4M249 265.4L250.1 261.5M252.3 264.5L253.3 260.6M255.5 263.6L256.6 259.7" fill="none" stroke="#2b9b9b" stroke-width="2.5" stroke-linecap="round"/><path d="M239.3 268.1L239.7 264.3M242.5 267.2L243 263.4M245.8 266.3L246.2 262.5M249.1 265.4L249.5 261.6M252.3 264.5L252.8 260.7M255.6 263.6L256 259.8" fill="none" stroke="#6cc6c6" stroke-width="0.6" stroke-linecap="round" opacity="0.6"/><path d="M239.7 271.8L243 271.1L246.2 270.5L249.5 269.8L252.7 269.1L256 268.5L259.2 267.8" fill="none" stroke="#186464" stroke-width="2.9" stroke-linecap="butt" stroke-linejoin="round"/><path d="M240.5 272.2L241.7 268.4M243.8 271.5L245 267.7M247 270.8L248.2 267M250.3 270.2L251.5 266.4M253.5 269.5L254.7 265.7M256.8 268.8L258 265" fill="none" stroke="#2b9b9b" stroke-width="2.5" stroke-linecap="round"/><path d="M240.6 272.2L241.2 268.4M243.8 271.5L244.5 267.8M247.1 270.9L247.7 267.1M250.3 270.2L251 266.4M253.6 269.5L254.2 265.8M256.8 268.9L257.5 265.1" fill="none" stroke="#6cc6c6" stroke-width="0.6" stroke-linecap="round" opacity="0.6"/><path d="M246.1 260L249.1 259.7L252.1 259.3L255.1 258.9L258.1 258.5" fill="none" stroke="#186464" stroke-width="2.4" stroke-linecap="butt" stroke-linejoin="round"/><path d="M246.8 260.3L248.2 257.3M249.8 260L251.2 256.9M252.8 259.6L254.2 256.5M255.8 259.2L257.2 256.2" fill="none" stroke="#2b9b9b" stroke-width="2.2" stroke-linecap="round"/><path d="M246.8 260.4L247.7 257.3M249.8 260.1L250.7 256.9M252.8 259.7L253.7 256.5M255.8 259.3L256.7 256.1" fill="none" stroke="#6cc6c6" stroke-width="0.5" stroke-linecap="round" opacity="0.6"/><path d="M232.8 278.6L236.1 278.4L239.4 278.1L242.7 277.9L245.9 277.6L249.2 277.4L252.5 277.1L255.8 276.9L259.1 276.6" fill="none" stroke="#186464" stroke-width="2.9" stroke-linecap="butt" stroke-linejoin="round"/><path d="M233.5 279.1L235.2 275.5M236.8 278.8L238.5 275.2M240.1 278.6L241.8 275M243.4 278.3L245.1 274.7M246.6 278.1L248.3 274.5M249.9 277.8L251.6 274.2M253.2 277.6L254.9 274M256.5 277.3L258.2 273.7" fill="none" stroke="#2b9b9b" stroke-width="2.4" stroke-linecap="round"/><path d="M233.5 279.1L234.7 275.5M236.8 278.9L237.9 275.2M240.1 278.6L241.2 275M243.4 278.4L244.5 274.7M246.7 278.1L247.8 274.5M250 277.9L251.1 274.2M253.3 277.6L254.4 274M256.6 277.4L257.7 273.7" fill="none" stroke="#6cc6c6" stroke-width="0.6" stroke-linecap="round" opacity="0.6"/><path d="M232.6 280.8L232.6 284.2L232.6 287.6L232.6 290.9L232.6 294.3" fill="none" stroke="#186464" stroke-width="2.7" stroke-linecap="butt" stroke-linejoin="round"/><path d="M229.8 283.5L233 281.5M229.8 286.9L233 284.9M229.8 290.2L233 288.2M229.8 293.6L233 291.6" fill="none" stroke="#2b9b9b" stroke-width="2.5" stroke-linecap="round"/><path d="M229.7 282.9L233.1 281.5M229.7 286.3L233.1 284.9M229.7 289.7L233.1 288.3M229.7 293.1L233.1 291.7" fill="none" stroke="#6cc6c6" stroke-width="0.6" stroke-linecap="round" opacity="0.6"/><path d="M262.6 252.8L265.6 254.3L268.7 255.8L271.7 257.3L274.8 258.8" fill="none" stroke="#186464" stroke-width="2.6" stroke-linecap="butt" stroke-linejoin="round"/><path d="M263.1 253.4L266.2 251.7M266.1 254.9L269.2 253.2M269.2 256.4L272.3 254.7M272.2 257.9L275.3 256.2" fill="none" stroke="#2b9b9b" stroke-width="2.5" stroke-linecap="round"/><path d="M263 253.6L265.8 251.3M266.1 255.1L268.8 252.8M269.1 256.6L271.9 254.3M272.2 258.1L274.9 255.8" fill="none" stroke="#6cc6c6" stroke-width="0.6" stroke-linecap="round" opacity="0.6"/><path d="M268.5 261.2L268.3 264.3L267.9 267.5L267.7 270.8L267.8 274.2L268.6 277.7L271 280.9L274 282.7L276.7 284.1L279.1 285.9L281.3 288.1L283.4 290.5L285.5 292.9L287.6 295.4L289.7 297.9L291.7 300.4L293.8 302.9L295.8 305.4" fill="none" stroke="#186464" stroke-width="3.2" stroke-linecap="butt" stroke-linejoin="round"/><path d="M267.7 261.8L271.8 263.9M267.5 264.8L271.5 267.2M267.2 268.1L271.2 270.4M267.1 271.4L271.2 273.5M267.3 274.9L271.7 276.5M268.5 278.3L273.1 278.7M271.2 281.7L275.2 279.5M274.2 283.6L277.8 280.7M276.8 285.2L280.7 282.7M279 286.9L283.3 285.2M281.2 289.1L285.6 287.7M283.3 291.5L287.7 290.2M285.4 293.9L289.8 292.7M287.5 296.4L291.9 295.2M289.5 298.8L294 297.7M291.6 301.3L296 300.2M293.6 303.8L298.1 302.7" fill="none" stroke="#2b9b9b" stroke-width="2.4" stroke-linecap="round"/><path d="M267.8 261.8L271.7 263.3M267.6 264.9L271.4 266.7M267.3 268.2L271.2 269.9M267.2 271.5L271.1 273M267.5 274.9L271.5 276M268.6 278.3L272.8 278.3M271.3 281.7L274.7 279.3M274.3 283.6L277.3 280.6M276.9 285.1L280.2 282.5M279.1 286.8L282.8 284.9M281.3 289.1L285.1 287.4M283.4 291.4L287.3 289.8M285.5 293.9L289.4 292.3M287.6 296.3L291.5 294.8M289.6 298.8L293.6 297.3M291.7 301.3L295.6 299.8M293.8 303.8L297.7 302.3" fill="none" stroke="#6cc6c6" stroke-width="0.6" stroke-linecap="round" opacity="0.6"/><path d="M279.2 281.3L279.8 284.3L280.4 287.3L281 290.3L281.5 293.4L282 296.5L282.1 299.6L282.1 302.8L281.9 305.8" fill="none" stroke="#186464" stroke-width="2.9" stroke-linecap="butt" stroke-linejoin="round"/><path d="M276.7 284.3L279.9 281.8M277.3 287.3L280.5 284.8M277.9 290.3L281.1 287.8M278.4 293.3L281.7 290.8M278.9 296.3L282.2 293.9M279.1 299.2L282.5 297M279 302.1L282.7 300.3M278.9 305.1L282.6 303.4" fill="none" stroke="#2b9b9b" stroke-width="2.3" stroke-linecap="round"/><path d="M276.6 283.7L279.9 281.8M277.2 286.8L280.5 284.8M277.8 289.8L281.1 287.8M278.4 292.8L281.6 290.9M278.8 295.8L282.1 293.9M279.1 298.7L282.5 297.1M279.1 301.6L282.6 300.3M279 304.6L282.6 303.5" fill="none" stroke="#6cc6c6" stroke-width="0.6" stroke-linecap="round" opacity="0.6"/><path d="M294 278.4L294.9 281.3L295.8 284.3L296.7 287.2L297.6 290.1L298.5 293L299.4 295.9" fill="none" stroke="#186464" stroke-width="3" stroke-linecap="butt" stroke-linejoin="round"/><path d="M291.7 281.7L294.8 278.8M292.6 284.6L295.7 281.7M293.5 287.5L296.6 284.6M294.4 290.5L297.5 287.6M295.3 293.4L298.4 290.5M296.2 296.3L299.3 293.4" fill="none" stroke="#2b9b9b" stroke-width="2.3" stroke-linecap="round"/><path d="M291.6 281.2L294.8 278.9M292.5 284.1L295.7 281.8M293.4 287L296.6 284.7M294.3 289.9L297.5 287.6M295.2 292.9L298.4 290.6M296.1 295.8L299.3 293.5" fill="none" stroke="#6cc6c6" stroke-width="0.5" stroke-linecap="round" opacity="0.6"/><path d="M292 269.6L294.6 268L296.9 266.9L299.2 267.3L302 268.3" fill="none" stroke="#186464" stroke-width="2.5" stroke-linecap="butt" stroke-linejoin="round"/><path d="M292.7 269.6L292.8 266M295.4 268.2L295.3 264.7M297.5 267.7L298.7 264.4M299.6 268L302.3 265.6" fill="none" stroke="#2b9b9b" stroke-width="2.2" stroke-linecap="round"/><path d="M292.8 269.6L292.3 266.2M295.4 268.2L294.9 264.9M297.6 267.7L298.2 264.4M299.6 268L301.8 265.4" fill="none" stroke="#6cc6c6" stroke-width="0.5" stroke-linecap="round" opacity="0.6"/><circle cx="281.1" cy="266.3" r="2.8" fill="none" stroke="#186464" stroke-width="1.2"/><circle cx="280" cy="266.6" r="3.1" fill="none" stroke="#2b9b9b" stroke-width="1.5"/><circle cx="286.1" cy="278.6" r="1.7" fill="none" stroke="#186464" stroke-width="1"/><circle cx="285.4" cy="278.8" r="1.9" fill="none" stroke="#2b9b9b" stroke-width="1.2"/><circle cx="298.9" cy="307" r="1.7" fill="none" stroke="#186464" stroke-width="1"/><circle cx="298.2" cy="307.2" r="1.9" fill="none" stroke="#2b9b9b" stroke-width="1.2"/></g>
<g><path d="M563 95.4C564 95.1 566.9 94.9 569 93.4C571.1 91.9 574.2 88.6 575.8 86.6C577.4 84.6 578.6 82.3 578.5 81.2C578.4 80.1 575 80.6 575.1 79.9C575.2 79.2 578.8 78.3 579.2 77.2C579.7 76.1 578.6 73.7 577.8 73.1C577 72.5 574.3 74.2 574.5 73.8C574.7 73.3 578.5 72.1 579.2 70.4C579.9 68.7 579.3 65.5 578.5 63.7C577.7 61.9 575.1 61.4 574.5 59.6C573.9 57.8 574.6 54.2 575.1 52.9C575.6 51.5 577.9 52.4 577.8 51.5C577.7 50.6 574.5 48.9 574.5 47.5C574.5 46.1 577.2 44.1 577.8 43.4" fill="none" stroke="#78cd72" stroke-width="1" stroke-linecap="round" stroke-linejoin="round"/><path d="M532.6 92.1L540 97.4" fill="none" stroke="#66ca60" stroke-width="1.5" stroke-linecap="round" stroke-linejoin="round"/><path d="M540 95C539.4 95.9 536.8 99.2 536.5 100.5C536.2 101.8 537.8 102.6 538.5 102.8C539.2 103 540.6 102 541 101.8" fill="none" stroke="#66ca60" stroke-width="1.5" stroke-linecap="round" stroke-linejoin="round"/><path d="M540 79L552 73.5L564 74L568 78L552 78Z" fill="#8fd98a"/><path d="M526.4 94.4L531.1 91L535.9 87.6" fill="none" stroke="#248423" stroke-width="6" stroke-linecap="butt" stroke-linejoin="round"/><path d="M527.7 94.3L528.6 89.5M532.5 90.9L533.4 86.1" fill="none" stroke="#43bb3d" stroke-width="5.3" stroke-linecap="round"/><path d="M528.2 95L527.2 89.4M533 91.6L532 86" fill="none" stroke="#9be495" stroke-width="1.1" stroke-linecap="round" opacity="0.6"/><path d="M535.3 85.3L541.6 84L547.9 82.7L554.2 81.4L560.5 80.1L566.8 78.7" fill="none" stroke="#248423" stroke-width="8" stroke-linecap="butt" stroke-linejoin="round"/><path d="M536.8 86.5L539.5 80.2M543.1 85.2L545.8 78.9M549.4 83.9L552.1 77.5M555.7 82.5L558.4 76.2M562 81.2L564.7 74.9" fill="none" stroke="#43bb3d" stroke-width="5.8" stroke-linecap="round"/><path d="M537 87.1L538.2 79.8M543.3 85.8L544.5 78.5M549.6 84.5L550.8 77.2M555.9 83.1L557.1 75.9M562.2 81.8L563.4 74.5" fill="none" stroke="#9be495" stroke-width="1.2" stroke-linecap="round" opacity="0.6"/><path d="M540.6 99.4L546.2 98.9L551.9 98.4L557.5 97.9L563.1 97.4" fill="none" stroke="#248423" stroke-width="7.2" stroke-linecap="butt" stroke-linejoin="round"/><path d="M541.9 100.7L544.8 95.2M547.5 100.2L550.4 94.7M553.1 99.7L556 94.2M558.7 99.2L561.6 93.7" fill="none" stroke="#43bb3d" stroke-width="5.1" stroke-linecap="round"/><path d="M541.9 101.2L543.7 94.8M547.5 100.7L549.3 94.3M553.1 100.2L555 93.8M558.8 99.7L560.6 93.3" fill="none" stroke="#9be495" stroke-width="1" stroke-linecap="round" opacity="0.6"/></g>
<g transform="translate(-3 225.6)"><path d="M563 95.4C564 95.1 566.9 94.9 569 93.4C571.1 91.9 574.2 88.6 575.8 86.6C577.4 84.6 578.6 82.3 578.5 81.2C578.4 80.1 575 80.6 575.1 79.9C575.2 79.2 578.8 78.3 579.2 77.2C579.7 76.1 578.6 73.7 577.8 73.1C577 72.5 574.3 74.2 574.5 73.8C574.7 73.3 578.5 72.1 579.2 70.4C579.9 68.7 579.3 65.5 578.5 63.7C577.7 61.9 575.1 61.4 574.5 59.6C573.9 57.8 574.6 54.2 575.1 52.9C575.6 51.5 577.9 52.4 577.8 51.5C577.7 50.6 574.5 48.9 574.5 47.5C574.5 46.1 577.2 44.1 577.8 43.4" fill="none" stroke="#78cd72" stroke-width="1" stroke-linecap="round" stroke-linejoin="round"/><path d="M532.6 92.1L540 97.4" fill="none" stroke="#66ca60" stroke-width="1.5" stroke-linecap="round" stroke-linejoin="round"/><path d="M540 95C539.4 95.9 536.8 99.2 536.5 100.5C536.2 101.8 537.8 102.6 538.5 102.8C539.2 103 540.6 102 541 101.8" fill="none" stroke="#66ca60" stroke-width="1.5" stroke-linecap="round" stroke-linejoin="round"/><path d="M540 79L552 73.5L564 74L568 78L552 78Z" fill="#8fd98a"/><path d="M526.4 94.4L531.1 91L535.9 87.6" fill="none" stroke="#248423" stroke-width="6" stroke-linecap="butt" stroke-linejoin="round"/><path d="M527.7 94.3L528.6 89.5M532.5 90.9L533.4 86.1" fill="none" stroke="#43bb3d" stroke-width="5.3" stroke-linecap="round"/><path d="M528.2 95L527.2 89.4M533 91.6L532 86" fill="none" stroke="#9be495" stroke-width="1.1" stroke-linecap="round" opacity="0.6"/><path d="M535.3 85.3L541.6 84L547.9 82.7L554.2 81.4L560.5 80.1L566.8 78.7" fill="none" stroke="#248423" stroke-width="8" stroke-linecap="butt" stroke-linejoin="round"/><path d="M536.8 86.5L539.5 80.2M543.1 85.2L545.8 78.9M549.4 83.9L552.1 77.5M555.7 82.5L558.4 76.2M562 81.2L564.7 74.9" fill="none" stroke="#43bb3d" stroke-width="5.8" stroke-linecap="round"/><path d="M537 87.1L538.2 79.8M543.3 85.8L544.5 78.5M549.6 84.5L550.8 77.2M555.9 83.1L557.1 75.9M562.2 81.8L563.4 74.5" fill="none" stroke="#9be495" stroke-width="1.2" stroke-linecap="round" opacity="0.6"/><path d="M540.6 99.4L546.2 98.9L551.9 98.4L557.5 97.9L563.1 97.4" fill="none" stroke="#248423" stroke-width="7.2" stroke-linecap="butt" stroke-linejoin="round"/><path d="M541.9 100.7L544.8 95.2M547.5 100.2L550.4 94.7M553.1 99.7L556 94.2M558.7 99.2L561.6 93.7" fill="none" stroke="#43bb3d" stroke-width="5.1" stroke-linecap="round"/><path d="M541.9 101.2L543.7 94.8M547.5 100.7L549.3 94.3M553.1 100.2L555 93.8M558.8 99.7L560.6 93.3" fill="none" stroke="#9be495" stroke-width="1" stroke-linecap="round" opacity="0.6"/></g>
<g transform="translate(575 -94.4) scale(0.632)"><path d="M32.6 249.5C33.6 249.4 37.3 249.3 38.9 248.8C40.5 248.3 41.9 246.2 42.3 246.7C42.6 247.2 40.2 250.3 41 251.6C41.8 252.9 44.8 254.4 47.2 254.4C49.6 254.4 54.2 253 55.5 251.6C56.8 250.2 54.9 246.9 54.8 246" fill="none" stroke="#c8246f" stroke-width="1.4" stroke-linecap="round" stroke-linejoin="round"/><circle cx="50.5" cy="242" r="3.6" fill="none" stroke="#c8246f" stroke-width="1.4"/><path d="M54.8 244.6C55.8 245.1 59.4 248.6 61.1 247.4C62.8 246.2 64.3 238.6 65.2 237.7C66.1 236.8 65.4 241.1 66.6 241.9C67.8 242.7 70.8 241.7 72.2 242.6C73.6 243.5 73.1 246.5 74.9 247.4C76.8 248.3 81.2 247.5 83.3 248.1C85.4 248.7 85.8 251.2 87.4 250.9C89 250.6 90.9 246.3 93 246C95.1 245.7 97.8 249 99.9 248.8C102 248.6 103.2 245.1 105.5 244.6C107.8 244.1 112.4 245.8 113.8 246" fill="none" stroke="#c8246f" stroke-width="1.4" stroke-linecap="round" stroke-linejoin="round"/><path d="M113.8 246C114.3 244.6 115.2 239.8 116.6 237.7C118 235.6 120.7 233.3 122.1 233.5C123.5 233.7 123.5 237.9 124.9 239.1C126.3 240.3 129.5 240.3 130.4 240.5" fill="none" stroke="#c8246f" stroke-width="1.5" stroke-linecap="round" stroke-linejoin="round"/><path d="M105.5 244.6C104.6 245.7 101.5 249.1 100 251C98.5 252.9 97.1 255.2 96.5 256" fill="none" stroke="#c8246f" stroke-width="1.4" stroke-linecap="round" stroke-linejoin="round"/><path d="M66.6 255.7C67.3 256.6 68.9 259.4 70.8 261.3C72.7 263.2 76.8 264.7 77.7 266.8C78.6 268.9 76.5 272.6 76.3 273.8" fill="none" stroke="#c8246f" stroke-width="1.5" stroke-linecap="round" stroke-linejoin="round"/><path d="M34 280C34.4 280.8 34.6 284 36.1 284.9C37.6 285.8 40.7 286.2 43 285.6C45.3 285 48 282.6 50 281.4C52 280.2 54 279.1 54.8 278.6" fill="none" stroke="#c8246f" stroke-width="1.5" stroke-linecap="round" stroke-linejoin="round"/><path d="M34 280C34.4 279.7 35.7 277.9 36.5 278C37.3 278.1 38.4 280.2 38.8 280.6" fill="none" stroke="#c8246f" stroke-width="1.3" stroke-linecap="round" stroke-linejoin="round"/><path d="M50 291.1C49.1 291.8 45.1 293.7 44.4 295.3C43.7 296.9 44.9 298.7 45.8 300.8C46.7 302.9 48.6 307.3 50 307.8C51.4 308.3 53.4 304.3 54.1 303.6" fill="none" stroke="#c8246f" stroke-width="1.4" stroke-linecap="round" stroke-linejoin="round"/><path d="M52 289C53.3 288.7 57 288.7 60 287C63 285.3 68.3 280.3 70 279" fill="none" stroke="#c8246f" stroke-width="1.3" stroke-linecap="round" stroke-linejoin="round"/><path d="M66.6 278C68.2 277.5 72.8 275.6 76 275C79.2 274.4 83.6 273.7 86 274.5C88.4 275.3 89.5 279.1 90.2 280" fill="none" stroke="#c8246f" stroke-width="1.6" stroke-linecap="round" stroke-linejoin="round"/><path d="M56.1 277.3L59.6 278.6L63.1 279.9L66.5 281.2L70 282.5L73.5 283.9L76.9 285.2L80.4 286.5L83.9 287.8L83.2 289.7L91.6 288.4L86.1 281.9L85.4 283.7L82 282.4L78.5 281.1L75 279.7L71.6 278.4L68.1 277.1L64.6 275.8L61.2 274.5L57.7 273.1Z" fill="#c41a6a" stroke="#c41a6a" stroke-width="0.4" stroke-linejoin="round"/><path d="M70 277.1L68.2 278L66.4 278.9L64.6 279.8L62.8 280.7L61 281.6L59.2 282.5L57.4 283.5L56.7 282.1L52.7 287.7L59.6 287.9L58.9 286.5L60.7 285.6L62.5 284.7L64.3 283.8L66.1 282.8L67.9 281.9L69.8 281L71.6 280.1Z" fill="#b01860" stroke="#b01860" stroke-width="0.4" stroke-linejoin="round"/><path d="M66.3 276.1L64.8 276.4L63.3 276.8L61.7 277.1L60.2 277.4L58.7 277.7L57.2 278L56.9 276.7L51.4 280.7L58 282.3L57.8 280.9L59.3 280.6L60.8 280.3L62.3 280L63.9 279.7L65.4 279.4L66.9 279.1Z" fill="#b01860" stroke="#b01860" stroke-width="0.4" stroke-linejoin="round"/><path d="M62.9 278.5L64.9 280L66.9 281.5L68.9 283L70.9 284.5L72.9 286L74.9 287.5L76.9 289L75.8 290.4L84 292L80.2 284.6L79.1 286L77.1 284.5L75.1 283L73.1 281.5L71.1 280L69.1 278.5L67.1 277L65.1 275.5Z" fill="#d21e74" stroke="#d21e74" stroke-width="0.4" stroke-linejoin="round"/><path d="M30.4 259.8L37.2 265.7L44 271.5L50.9 277.3" fill="none" stroke="#780f42" stroke-width="7.2" stroke-linecap="butt" stroke-linejoin="round"/><path d="M31.6 261.1L38.2 261.7M38.5 267L45 267.5M45.3 272.8L51.9 273.4" fill="none" stroke="#b4206a" stroke-width="7.7" stroke-linecap="round"/><path d="M30.6 262.3L38 259.5M37.5 268.2L44.8 265.3M44.3 274L51.7 271.2" fill="none" stroke="#e072a6" stroke-width="1.6" stroke-linecap="round" opacity="0.6"/><path d="M51.4 267.2L58.9 265.2L66.4 263.1" fill="none" stroke="#9c1050" stroke-width="6.8" stroke-linecap="butt" stroke-linejoin="round"/><path d="M53.1 267.3L56.4 261.9M60.6 265.2L63.9 259.8" fill="none" stroke="#e0217c" stroke-width="6.7" stroke-linecap="round"/><path d="M53.4 268.4L54.8 261.1M60.9 266.3L62.3 259.1" fill="none" stroke="#f47db2" stroke-width="1.4" stroke-linecap="round" opacity="0.6"/><path d="M60.4 295.9L67.3 292.5L74.2 289" fill="none" stroke="#c45088" stroke-width="6.1" stroke-linecap="butt" stroke-linejoin="round"/><path d="M61.8 295.4L64.5 290.4M68.7 291.9L71.4 286.9" fill="none" stroke="#f07fb4" stroke-width="6.6" stroke-linecap="round"/><path d="M62.4 296.6L62.7 289.8M69.3 293.1L69.6 286.3" fill="none" stroke="#fbc0da" stroke-width="1.4" stroke-linecap="round" opacity="0.6"/><path d="M55.1 305.1L62.9 302.3L70.8 299.5L78.6 296.7" fill="none" stroke="#9c1050" stroke-width="7.2" stroke-linecap="butt" stroke-linejoin="round"/><path d="M56.8 304.9L60 299.1M64.6 302.1L67.9 296.3M72.5 299.3L75.7 293.5" fill="none" stroke="#e0217c" stroke-width="7.2" stroke-linecap="round"/><path d="M57.3 306.1L58.2 298.4M65.1 303.3L66.1 295.6M72.9 300.5L73.9 292.8" fill="none" stroke="#f47db2" stroke-width="1.5" stroke-linecap="round" opacity="0.6"/><path d="M79.4 293.8L87.9 289.1L96.4 284.4" fill="none" stroke="#9c1050" stroke-width="7.5" stroke-linecap="butt" stroke-linejoin="round"/><path d="M81.1 292.9L84.4 286.8M89.6 288.2L92.9 282.1" fill="none" stroke="#e0217c" stroke-width="8.4" stroke-linecap="round"/><path d="M82 294.4L82 286.1M90.5 289.7L90.5 281.4" fill="none" stroke="#f47db2" stroke-width="1.7" stroke-linecap="round" opacity="0.6"/><path d="M93.8 260.1L101.9 264.8L110 269.5L118.1 274.2" fill="none" stroke="#9c1050" stroke-width="7.5" stroke-linecap="butt" stroke-linejoin="round"/><path d="M95.3 261.2L102.2 260.5M103.4 265.9L110.3 265.2M111.5 270.6L118.4 269.9" fill="none" stroke="#e0217c" stroke-width="8.1" stroke-linecap="round"/><path d="M94.5 262.6L101.6 258.3M102.6 267.3L109.7 263M110.7 272L117.8 267.7" fill="none" stroke="#f47db2" stroke-width="1.7" stroke-linecap="round" opacity="0.6"/><path d="M130 240.5C130.4 241 132.1 242.2 132.3 243.7C132.6 245.1 131.2 246.2 131.5 249.2C131.8 252.2 134.2 258 133.9 261.7C133.7 265.4 131.7 268.6 130 271.1C128.3 273.7 125 276 124 277" fill="none" stroke="#8c1048" stroke-width="2.6" stroke-linecap="round" stroke-linejoin="round"/><path d="M121.3 247.6C122.5 247.2 126.7 244.9 128.4 245.2C130.2 245.5 131.2 248.9 131.8 249.6" fill="none" stroke="#c81c6e" stroke-width="5.2" stroke-linecap="round" stroke-linejoin="round"/><path d="M123.7 257.4C125 257 129.5 254.6 131.2 255.2C132.9 255.8 133.4 260.2 133.9 261.2" fill="none" stroke="#e0217c" stroke-width="5.4" stroke-linecap="round" stroke-linejoin="round"/><path d="M125.3 268.2C126.5 267.9 131.8 265.7 132.6 266.2C133.4 266.7 130.8 270.4 130.4 271.3" fill="none" stroke="#e0217c" stroke-width="5" stroke-linecap="round" stroke-linejoin="round"/><circle cx="120.8" cy="278.9" r="4.7" fill="none" stroke="#7c0f44" stroke-width="2.2"/><circle cx="119" cy="279.4" r="5.2" fill="none" stroke="#a31458" stroke-width="2.7"/></g>
<g transform="translate(574.3 133.9) scale(0.632)"><path d="M32.6 249.5C33.6 249.4 37.3 249.3 38.9 248.8C40.5 248.3 41.9 246.2 42.3 246.7C42.6 247.2 40.2 250.3 41 251.6C41.8 252.9 44.8 254.4 47.2 254.4C49.6 254.4 54.2 253 55.5 251.6C56.8 250.2 54.9 246.9 54.8 246" fill="none" stroke="#c8246f" stroke-width="1.4" stroke-linecap="round" stroke-linejoin="round"/><circle cx="50.5" cy="242" r="3.6" fill="none" stroke="#c8246f" stroke-width="1.4"/><path d="M54.8 244.6C55.8 245.1 59.4 248.6 61.1 247.4C62.8 246.2 64.3 238.6 65.2 237.7C66.1 236.8 65.4 241.1 66.6 241.9C67.8 242.7 70.8 241.7 72.2 242.6C73.6 243.5 73.1 246.5 74.9 247.4C76.8 248.3 81.2 247.5 83.3 248.1C85.4 248.7 85.8 251.2 87.4 250.9C89 250.6 90.9 246.3 93 246C95.1 245.7 97.8 249 99.9 248.8C102 248.6 103.2 245.1 105.5 244.6C107.8 244.1 112.4 245.8 113.8 246" fill="none" stroke="#c8246f" stroke-width="1.4" stroke-linecap="round" stroke-linejoin="round"/><path d="M113.8 246C114.3 244.6 115.2 239.8 116.6 237.7C118 235.6 120.7 233.3 122.1 233.5C123.5 233.7 123.5 237.9 124.9 239.1C126.3 240.3 129.5 240.3 130.4 240.5" fill="none" stroke="#c8246f" stroke-width="1.5" stroke-linecap="round" stroke-linejoin="round"/><path d="M105.5 244.6C104.6 245.7 101.5 249.1 100 251C98.5 252.9 97.1 255.2 96.5 256" fill="none" stroke="#c8246f" stroke-width="1.4" stroke-linecap="round" stroke-linejoin="round"/><path d="M66.6 255.7C67.3 256.6 68.9 259.4 70.8 261.3C72.7 263.2 76.8 264.7 77.7 266.8C78.6 268.9 76.5 272.6 76.3 273.8" fill="none" stroke="#c8246f" stroke-width="1.5" stroke-linecap="round" stroke-linejoin="round"/><path d="M34 280C34.4 280.8 34.6 284 36.1 284.9C37.6 285.8 40.7 286.2 43 285.6C45.3 285 48 282.6 50 281.4C52 280.2 54 279.1 54.8 278.6" fill="none" stroke="#c8246f" stroke-width="1.5" stroke-linecap="round" stroke-linejoin="round"/><path d="M34 280C34.4 279.7 35.7 277.9 36.5 278C37.3 278.1 38.4 280.2 38.8 280.6" fill="none" stroke="#c8246f" stroke-width="1.3" stroke-linecap="round" stroke-linejoin="round"/><path d="M50 291.1C49.1 291.8 45.1 293.7 44.4 295.3C43.7 296.9 44.9 298.7 45.8 300.8C46.7 302.9 48.6 307.3 50 307.8C51.4 308.3 53.4 304.3 54.1 303.6" fill="none" stroke="#c8246f" stroke-width="1.4" stroke-linecap="round" stroke-linejoin="round"/><path d="M52 289C53.3 288.7 57 288.7 60 287C63 285.3 68.3 280.3 70 279" fill="none" stroke="#c8246f" stroke-width="1.3" stroke-linecap="round" stroke-linejoin="round"/><path d="M66.6 278C68.2 277.5 72.8 275.6 76 275C79.2 274.4 83.6 273.7 86 274.5C88.4 275.3 89.5 279.1 90.2 280" fill="none" stroke="#c8246f" stroke-width="1.6" stroke-linecap="round" stroke-linejoin="round"/><path d="M56.1 277.3L59.6 278.6L63.1 279.9L66.5 281.2L70 282.5L73.5 283.9L76.9 285.2L80.4 286.5L83.9 287.8L83.2 289.7L91.6 288.4L86.1 281.9L85.4 283.7L82 282.4L78.5 281.1L75 279.7L71.6 278.4L68.1 277.1L64.6 275.8L61.2 274.5L57.7 273.1Z" fill="#c41a6a" stroke="#c41a6a" stroke-width="0.4" stroke-linejoin="round"/><path d="M70 277.1L68.2 278L66.4 278.9L64.6 279.8L62.8 280.7L61 281.6L59.2 282.5L57.4 283.5L56.7 282.1L52.7 287.7L59.6 287.9L58.9 286.5L60.7 285.6L62.5 284.7L64.3 283.8L66.1 282.8L67.9 281.9L69.8 281L71.6 280.1Z" fill="#b01860" stroke="#b01860" stroke-width="0.4" stroke-linejoin="round"/><path d="M66.3 276.1L64.8 276.4L63.3 276.8L61.7 277.1L60.2 277.4L58.7 277.7L57.2 278L56.9 276.7L51.4 280.7L58 282.3L57.8 280.9L59.3 280.6L60.8 280.3L62.3 280L63.9 279.7L65.4 279.4L66.9 279.1Z" fill="#b01860" stroke="#b01860" stroke-width="0.4" stroke-linejoin="round"/><path d="M62.9 278.5L64.9 280L66.9 281.5L68.9 283L70.9 284.5L72.9 286L74.9 287.5L76.9 289L75.8 290.4L84 292L80.2 284.6L79.1 286L77.1 284.5L75.1 283L73.1 281.5L71.1 280L69.1 278.5L67.1 277L65.1 275.5Z" fill="#d21e74" stroke="#d21e74" stroke-width="0.4" stroke-linejoin="round"/><path d="M30.4 259.8L37.2 265.7L44 271.5L50.9 277.3" fill="none" stroke="#780f42" stroke-width="7.2" stroke-linecap="butt" stroke-linejoin="round"/><path d="M31.6 261.1L38.2 261.7M38.5 267L45 267.5M45.3 272.8L51.9 273.4" fill="none" stroke="#b4206a" stroke-width="7.7" stroke-linecap="round"/><path d="M30.6 262.3L38 259.5M37.5 268.2L44.8 265.3M44.3 274L51.7 271.2" fill="none" stroke="#e072a6" stroke-width="1.6" stroke-linecap="round" opacity="0.6"/><path d="M51.4 267.2L58.9 265.2L66.4 263.1" fill="none" stroke="#9c1050" stroke-width="6.8" stroke-linecap="butt" stroke-linejoin="round"/><path d="M53.1 267.3L56.4 261.9M60.6 265.2L63.9 259.8" fill="none" stroke="#e0217c" stroke-width="6.7" stroke-linecap="round"/><path d="M53.4 268.4L54.8 261.1M60.9 266.3L62.3 259.1" fill="none" stroke="#f47db2" stroke-width="1.4" stroke-linecap="round" opacity="0.6"/><path d="M60.4 295.9L67.3 292.5L74.2 289" fill="none" stroke="#c45088" stroke-width="6.1" stroke-linecap="butt" stroke-linejoin="round"/><path d="M61.8 295.4L64.5 290.4M68.7 291.9L71.4 286.9" fill="none" stroke="#f07fb4" stroke-width="6.6" stroke-linecap="round"/><path d="M62.4 296.6L62.7 289.8M69.3 293.1L69.6 286.3" fill="none" stroke="#fbc0da" stroke-width="1.4" stroke-linecap="round" opacity="0.6"/><path d="M55.1 305.1L62.9 302.3L70.8 299.5L78.6 296.7" fill="none" stroke="#9c1050" stroke-width="7.2" stroke-linecap="butt" stroke-linejoin="round"/><path d="M56.8 304.9L60 299.1M64.6 302.1L67.9 296.3M72.5 299.3L75.7 293.5" fill="none" stroke="#e0217c" stroke-width="7.2" stroke-linecap="round"/><path d="M57.3 306.1L58.2 298.4M65.1 303.3L66.1 295.6M72.9 300.5L73.9 292.8" fill="none" stroke="#f47db2" stroke-width="1.5" stroke-linecap="round" opacity="0.6"/><path d="M79.4 293.8L87.9 289.1L96.4 284.4" fill="none" stroke="#9c1050" stroke-width="7.5" stroke-linecap="butt" stroke-linejoin="round"/><path d="M81.1 292.9L84.4 286.8M89.6 288.2L92.9 282.1" fill="none" stroke="#e0217c" stroke-width="8.4" stroke-linecap="round"/><path d="M82 294.4L82 286.1M90.5 289.7L90.5 281.4" fill="none" stroke="#f47db2" stroke-width="1.7" stroke-linecap="round" opacity="0.6"/><path d="M93.8 260.1L101.9 264.8L110 269.5L118.1 274.2" fill="none" stroke="#9c1050" stroke-width="7.5" stroke-linecap="butt" stroke-linejoin="round"/><path d="M95.3 261.2L102.2 260.5M103.4 265.9L110.3 265.2M111.5 270.6L118.4 269.9" fill="none" stroke="#e0217c" stroke-width="8.1" stroke-linecap="round"/><path d="M94.5 262.6L101.6 258.3M102.6 267.3L109.7 263M110.7 272L117.8 267.7" fill="none" stroke="#f47db2" stroke-width="1.7" stroke-linecap="round" opacity="0.6"/><path d="M130 240.5C130.4 241 132.1 242.2 132.3 243.7C132.6 245.1 131.2 246.2 131.5 249.2C131.8 252.2 134.2 258 133.9 261.7C133.7 265.4 131.7 268.6 130 271.1C128.3 273.7 125 276 124 277" fill="none" stroke="#8c1048" stroke-width="2.6" stroke-linecap="round" stroke-linejoin="round"/><path d="M121.3 247.6C122.5 247.2 126.7 244.9 128.4 245.2C130.2 245.5 131.2 248.9 131.8 249.6" fill="none" stroke="#c81c6e" stroke-width="5.2" stroke-linecap="round" stroke-linejoin="round"/><path d="M123.7 257.4C125 257 129.5 254.6 131.2 255.2C132.9 255.8 133.4 260.2 133.9 261.2" fill="none" stroke="#e0217c" stroke-width="5.4" stroke-linecap="round" stroke-linejoin="round"/><path d="M125.3 268.2C126.5 267.9 131.8 265.7 132.6 266.2C133.4 266.7 130.8 270.4 130.4 271.3" fill="none" stroke="#e0217c" stroke-width="5" stroke-linecap="round" stroke-linejoin="round"/><circle cx="120.8" cy="278.9" r="4.7" fill="none" stroke="#7c0f44" stroke-width="2.2"/><circle cx="119" cy="279.4" r="5.2" fill="none" stroke="#a31458" stroke-width="2.7"/></g>
<g><path d="M674.1 87.3C674.9 87.9 677.6 91 678.8 90.7C680 90.4 679.9 86.3 681.5 85.3C683.1 84.3 687.2 84.7 688.3 84.6" fill="none" stroke="#3a9c9c" stroke-width="0.8" stroke-linecap="round" stroke-linejoin="round"/><path d="M678.8 90.7C679.9 91.2 683.4 93.2 685.6 93.4C687.9 93.6 690.7 92.8 692.3 92.1C693.9 91.4 694.5 89.9 695 89.4" fill="none" stroke="#3a9c9c" stroke-width="0.8" stroke-linecap="round" stroke-linejoin="round"/><path d="M682 80C682.7 79.4 684.5 77.3 686 76.5C687.5 75.7 690.2 75.2 691 75" fill="none" stroke="#3a9c9c" stroke-width="0.8" stroke-linecap="round" stroke-linejoin="round"/><path d="M705.8 81.2C706.2 81.9 709 84.4 708.5 85.3C708 86.2 703.8 85.5 703.1 86.6C702.4 87.7 704.7 89.6 704.5 92.1C704.3 94.6 702.2 99.9 701.8 101.5" fill="none" stroke="#3a9c9c" stroke-width="0.8" stroke-linecap="round" stroke-linejoin="round"/><path d="M722 55.6C723.8 56 730.3 56.7 732.9 58.3C735.5 59.9 737.4 63.2 737.6 65C737.8 66.8 734.8 68.4 734.2 69.1" fill="none" stroke="#3a9c9c" stroke-width="0.8" stroke-linecap="round" stroke-linejoin="round"/><path d="M704.5 61.6C705.1 61.4 707 60.4 708 60.5C709 60.6 710.2 61.8 710.6 62" fill="none" stroke="#3a9c9c" stroke-width="0.8" stroke-linecap="round" stroke-linejoin="round"/><path d="M712 72C712.3 72.8 712.8 76.4 714 77C715.2 77.6 717.5 75.5 719 75.5C720.5 75.5 722.1 76.9 722.7 77.2" fill="none" stroke="#3a9c9c" stroke-width="0.8" stroke-linecap="round" stroke-linejoin="round"/><path d="M735.6 74.5C736 74.8 738.3 75.8 738 76.5C737.7 77.2 735.2 78.2 734 79C732.8 79.8 731.3 80.8 730.8 81.2" fill="none" stroke="#3a9c9c" stroke-width="0.8" stroke-linecap="round" stroke-linejoin="round"/><path d="M699.8 77.2C700.3 76 702.2 72 703 70C703.8 68 704.2 65.8 704.5 65" fill="none" stroke="#3a9c9c" stroke-width="0.8" stroke-linecap="round" stroke-linejoin="round"/><path d="M682 82.1L684 82.6L686.1 83.1L688.1 83.5" fill="none" stroke="#186464" stroke-width="2.2" stroke-linecap="butt" stroke-linejoin="round"/><path d="M682.3 82.8L684.2 80.1M684.3 83.3L686.2 80.5M686.3 83.7L688.2 81" fill="none" stroke="#2b9b9b" stroke-width="1.5" stroke-linecap="round"/><path d="M682.3 82.7L683.8 80.1M684.4 83.1L685.8 80.6M686.4 83.6L687.9 81.1" fill="none" stroke="#6cc6c6" stroke-width="0.4" stroke-linecap="round" opacity="0.6"/><path d="M691.1 74.9L693.2 75.8L695.2 76.6L697.3 77.5L699.3 78.3" fill="none" stroke="#186464" stroke-width="2.9" stroke-linecap="butt" stroke-linejoin="round"/><path d="M691.2 76L694.1 72.5M693.2 76.8L696.1 73.3M695.3 77.7L698.2 74.2M697.3 78.5L700.2 75" fill="none" stroke="#2b9b9b" stroke-width="1.6" stroke-linecap="round"/><path d="M691.4 75.6L693.6 72.7M693.4 76.5L695.6 73.5M695.5 77.3L697.7 74.4M697.5 78.2L699.7 75.2" fill="none" stroke="#6cc6c6" stroke-width="0.4" stroke-linecap="round" opacity="0.6"/><path d="M704.4 74.8L703.2 76.1L702.1 77.5L700.9 78.8L699.7 80.1L698.5 81.5L697.3 82.8L695.9 81.5L694.2 89.5L701.9 86.8L700.5 85.6L701.7 84.2L702.9 82.9L704 81.6L705.2 80.3L706.4 78.9L707.6 77.6Z" fill="#186464" stroke="#186464" stroke-width="0.4" stroke-linejoin="round"/><path d="M701.3 73L700.2 74.2L699.1 75.4L698.1 76.5L697 77.7L696 78.9L694.9 80.1L693.7 79L692 86L698.8 83.6L697.6 82.5L698.6 81.3L699.7 80.1L700.8 78.9L701.8 77.8L702.9 76.6L703.9 75.4Z" fill="#1f7a7a" stroke="#1f7a7a" stroke-width="0.4" stroke-linejoin="round"/><path d="M699.3 91L700 90L700.8 89L701.5 88L702.3 87L703 86L704.2 86.8L705.5 80L699.3 83.2L700.5 84L699.7 85L699 86L698.2 87L697.5 88L696.7 89Z" fill="#2b9b9b" stroke="#2b9b9b" stroke-width="0.4" stroke-linejoin="round"/><path d="M698.5 72L697.6 73L696.7 73.9L695.8 74.9L694.9 75.8L694 76.8L693.1 77.7L692.2 76.9L690.5 82.5L696 80.5L695.1 79.7L696 78.7L696.9 77.8L697.8 76.8L698.7 75.9L699.6 74.9L700.5 74Z" fill="#2b9b9b" stroke="#2b9b9b" stroke-width="0.4" stroke-linejoin="round"/><path d="M693.3 90L694.4 91.9L695.5 93.7L696.5 95.6L697.6 97.4L698.7 99.2" fill="none" stroke="#186464" stroke-width="3" stroke-linecap="butt" stroke-linejoin="round"/><path d="M692.6 90.9L697.2 89.7M693.7 92.8L698.3 91.6M694.8 94.6L699.4 93.4M695.9 96.4L700.5 95.2M697 98.3L701.6 97.1" fill="none" stroke="#2b9b9b" stroke-width="1.6" stroke-linecap="round"/><path d="M693 90.7L696.7 89.6M694.1 92.6L697.8 91.5M695.2 94.4L698.8 93.3M696.3 96.3L699.9 95.2M697.4 98.1L701 97" fill="none" stroke="#6cc6c6" stroke-width="0.4" stroke-linecap="round" opacity="0.6"/><path d="M697.1 63.7L699.6 63.3L702.1 62.8L704.6 62.3" fill="none" stroke="#186464" stroke-width="1.7" stroke-linecap="butt" stroke-linejoin="round"/><path d="M697.7 63.7L698.8 61.8M700.2 63.2L701.3 61.4M702.7 62.8L703.8 60.9" fill="none" stroke="#2b9b9b" stroke-width="1.9" stroke-linecap="round"/><path d="M697.7 63.9L698.4 61.7M700.2 63.5L700.9 61.2M702.7 63L703.4 60.7" fill="none" stroke="#6cc6c6" stroke-width="0.5" stroke-linecap="round" opacity="0.6"/><path d="M703.9 65.6L705.2 67.3L706.7 69.1L708.5 70.7L710.6 72L712.9 72.8L715.2 73.3L717.4 73.6L719.7 73.9L722 74.2L724.2 74.4L726.5 74.6L728.8 74.8L731 75L733.3 75.2L735.5 75.4" fill="none" stroke="#186464" stroke-width="2" stroke-linecap="butt" stroke-linejoin="round"/><path d="M703.9 66.3L706.6 65.4M705.2 67.8L708.1 67.4M706.8 69.6L709.6 68.9M708.7 71.2L711.3 70M710.9 72.4L713.2 70.7M713.2 73.2L715.2 71.1M715.6 73.7L717.3 71.5M717.8 74.1L719.5 71.8M720.1 74.4L721.8 72M722.4 74.6L724 72.3M724.6 74.8L726.2 72.5M726.9 75L728.5 72.6M729.2 75.2L730.7 72.8M731.4 75.4L733 73M733.7 75.6L735.3 73.2" fill="none" stroke="#2b9b9b" stroke-width="1.7" stroke-linecap="round"/><path d="M703.9 66.3L706.3 65.2M705.3 67.9L707.8 67.1M706.9 69.6L709.3 68.6M708.8 71.2L711 69.8M711 72.4L712.8 70.5M713.3 73.2L714.8 71M715.6 73.7L717 71.4M717.9 74.1L719.2 71.7M720.2 74.4L721.4 72M722.4 74.6L723.6 72.2M724.7 74.8L725.9 72.4M727 75L728.1 72.6M729.2 75.2L730.4 72.8M731.5 75.4L732.6 73M733.7 75.6L734.9 73.2" fill="none" stroke="#6cc6c6" stroke-width="0.4" stroke-linecap="round" opacity="0.6"/><path d="M721.6 64.4L723.8 65.5L726 66.6L728.2 67.7L730.4 68.8L732.5 69.8" fill="none" stroke="#186464" stroke-width="1.9" stroke-linecap="butt" stroke-linejoin="round"/><path d="M722 64.9L724.2 63.6M724.1 66L726.4 64.7M726.3 67L728.6 65.8M728.5 68.1L730.8 66.8M730.7 69.2L732.9 67.9" fill="none" stroke="#2b9b9b" stroke-width="1.8" stroke-linecap="round"/><path d="M721.9 65L723.9 63.3M724.1 66.1L726.1 64.4M726.3 67.2L728.3 65.5M728.5 68.2L730.5 66.6M730.7 69.3L732.6 67.6" fill="none" stroke="#6cc6c6" stroke-width="0.4" stroke-linecap="round" opacity="0.6"/><path d="M717.1 60.2L718.9 58.6L720.7 57L722.5 55.5" fill="none" stroke="#186464" stroke-width="1.7" stroke-linecap="butt" stroke-linejoin="round"/><path d="M717.5 59.9L717.5 57.7M719.3 58.4L719.3 56.1M721.1 56.8L721.1 54.6" fill="none" stroke="#2b9b9b" stroke-width="1.8" stroke-linecap="round"/><path d="M717.7 60.1L717.1 57.8M719.5 58.5L718.9 56.2M721.3 56.9L720.7 54.7" fill="none" stroke="#6cc6c6" stroke-width="0.4" stroke-linecap="round" opacity="0.6"/><path d="M722.3 77.9L724.4 78.9L726.4 79.9L728.4 80.9L730.4 81.9" fill="none" stroke="#186464" stroke-width="1.9" stroke-linecap="butt" stroke-linejoin="round"/><path d="M722.6 78.4L724.8 77M724.6 79.4L726.9 78M726.6 80.4L728.9 79M728.7 81.4L730.9 80" fill="none" stroke="#2b9b9b" stroke-width="1.7" stroke-linecap="round"/><path d="M722.6 78.5L724.5 76.8M724.6 79.5L726.5 77.8M726.7 80.5L728.6 78.8M728.7 81.5L730.6 79.8" fill="none" stroke="#6cc6c6" stroke-width="0.4" stroke-linecap="round" opacity="0.6"/><circle cx="711.2" cy="63.5" r="1.5" fill="none" stroke="#186464" stroke-width="0.8"/><circle cx="710.6" cy="63.7" r="1.7" fill="none" stroke="#2b9b9b" stroke-width="1"/><circle cx="718.5" cy="66.3" r="1.2" fill="none" stroke="#186464" stroke-width="0.7"/><circle cx="718" cy="66.4" r="1.3" fill="none" stroke="#2b9b9b" stroke-width="0.9"/></g>
<g transform="translate(0 224.2)"><path d="M674.1 87.3C674.9 87.9 677.6 91 678.8 90.7C680 90.4 679.9 86.3 681.5 85.3C683.1 84.3 687.2 84.7 688.3 84.6" fill="none" stroke="#3a9c9c" stroke-width="0.8" stroke-linecap="round" stroke-linejoin="round"/><path d="M678.8 90.7C679.9 91.2 683.4 93.2 685.6 93.4C687.9 93.6 690.7 92.8 692.3 92.1C693.9 91.4 694.5 89.9 695 89.4" fill="none" stroke="#3a9c9c" stroke-width="0.8" stroke-linecap="round" stroke-linejoin="round"/><path d="M682 80C682.7 79.4 684.5 77.3 686 76.5C687.5 75.7 690.2 75.2 691 75" fill="none" stroke="#3a9c9c" stroke-width="0.8" stroke-linecap="round" stroke-linejoin="round"/><path d="M705.8 81.2C706.2 81.9 709 84.4 708.5 85.3C708 86.2 703.8 85.5 703.1 86.6C702.4 87.7 704.7 89.6 704.5 92.1C704.3 94.6 702.2 99.9 701.8 101.5" fill="none" stroke="#3a9c9c" stroke-width="0.8" stroke-linecap="round" stroke-linejoin="round"/><path d="M722 55.6C723.8 56 730.3 56.7 732.9 58.3C735.5 59.9 737.4 63.2 737.6 65C737.8 66.8 734.8 68.4 734.2 69.1" fill="none" stroke="#3a9c9c" stroke-width="0.8" stroke-linecap="round" stroke-linejoin="round"/><path d="M704.5 61.6C705.1 61.4 707 60.4 708 60.5C709 60.6 710.2 61.8 710.6 62" fill="none" stroke="#3a9c9c" stroke-width="0.8" stroke-linecap="round" stroke-linejoin="round"/><path d="M712 72C712.3 72.8 712.8 76.4 714 77C715.2 77.6 717.5 75.5 719 75.5C720.5 75.5 722.1 76.9 722.7 77.2" fill="none" stroke="#3a9c9c" stroke-width="0.8" stroke-linecap="round" stroke-linejoin="round"/><path d="M735.6 74.5C736 74.8 738.3 75.8 738 76.5C737.7 77.2 735.2 78.2 734 79C732.8 79.8 731.3 80.8 730.8 81.2" fill="none" stroke="#3a9c9c" stroke-width="0.8" stroke-linecap="round" stroke-linejoin="round"/><path d="M699.8 77.2C700.3 76 702.2 72 703 70C703.8 68 704.2 65.8 704.5 65" fill="none" stroke="#3a9c9c" stroke-width="0.8" stroke-linecap="round" stroke-linejoin="round"/><path d="M682 82.1L684 82.6L686.1 83.1L688.1 83.5" fill="none" stroke="#186464" stroke-width="2.2" stroke-linecap="butt" stroke-linejoin="round"/><path d="M682.3 82.8L684.2 80.1M684.3 83.3L686.2 80.5M686.3 83.7L688.2 81" fill="none" stroke="#2b9b9b" stroke-width="1.5" stroke-linecap="round"/><path d="M682.3 82.7L683.8 80.1M684.4 83.1L685.8 80.6M686.4 83.6L687.9 81.1" fill="none" stroke="#6cc6c6" stroke-width="0.4" stroke-linecap="round" opacity="0.6"/><path d="M691.1 74.9L693.2 75.8L695.2 76.6L697.3 77.5L699.3 78.3" fill="none" stroke="#186464" stroke-width="2.9" stroke-linecap="butt" stroke-linejoin="round"/><path d="M691.2 76L694.1 72.5M693.2 76.8L696.1 73.3M695.3 77.7L698.2 74.2M697.3 78.5L700.2 75" fill="none" stroke="#2b9b9b" stroke-width="1.6" stroke-linecap="round"/><path d="M691.4 75.6L693.6 72.7M693.4 76.5L695.6 73.5M695.5 77.3L697.7 74.4M697.5 78.2L699.7 75.2" fill="none" stroke="#6cc6c6" stroke-width="0.4" stroke-linecap="round" opacity="0.6"/><path d="M704.4 74.8L703.2 76.1L702.1 77.5L700.9 78.8L699.7 80.1L698.5 81.5L697.3 82.8L695.9 81.5L694.2 89.5L701.9 86.8L700.5 85.6L701.7 84.2L702.9 82.9L704 81.6L705.2 80.3L706.4 78.9L707.6 77.6Z" fill="#186464" stroke="#186464" stroke-width="0.4" stroke-linejoin="round"/><path d="M701.3 73L700.2 74.2L699.1 75.4L698.1 76.5L697 77.7L696 78.9L694.9 80.1L693.7 79L692 86L698.8 83.6L697.6 82.5L698.6 81.3L699.7 80.1L700.8 78.9L701.8 77.8L702.9 76.6L703.9 75.4Z" fill="#1f7a7a" stroke="#1f7a7a" stroke-width="0.4" stroke-linejoin="round"/><path d="M699.3 91L700 90L700.8 89L701.5 88L702.3 87L703 86L704.2 86.8L705.5 80L699.3 83.2L700.5 84L699.7 85L699 86L698.2 87L697.5 88L696.7 89Z" fill="#2b9b9b" stroke="#2b9b9b" stroke-width="0.4" stroke-linejoin="round"/><path d="M698.5 72L697.6 73L696.7 73.9L695.8 74.9L694.9 75.8L694 76.8L693.1 77.7L692.2 76.9L690.5 82.5L696 80.5L695.1 79.7L696 78.7L696.9 77.8L697.8 76.8L698.7 75.9L699.6 74.9L700.5 74Z" fill="#2b9b9b" stroke="#2b9b9b" stroke-width="0.4" stroke-linejoin="round"/><path d="M693.3 90L694.4 91.9L695.5 93.7L696.5 95.6L697.6 97.4L698.7 99.2" fill="none" stroke="#186464" stroke-width="3" stroke-linecap="butt" stroke-linejoin="round"/><path d="M692.6 90.9L697.2 89.7M693.7 92.8L698.3 91.6M694.8 94.6L699.4 93.4M695.9 96.4L700.5 95.2M697 98.3L701.6 97.1" fill="none" stroke="#2b9b9b" stroke-width="1.6" stroke-linecap="round"/><path d="M693 90.7L696.7 89.6M694.1 92.6L697.8 91.5M695.2 94.4L698.8 93.3M696.3 96.3L699.9 95.2M697.4 98.1L701 97" fill="none" stroke="#6cc6c6" stroke-width="0.4" stroke-linecap="round" opacity="0.6"/><path d="M697.1 63.7L699.6 63.3L702.1 62.8L704.6 62.3" fill="none" stroke="#186464" stroke-width="1.7" stroke-linecap="butt" stroke-linejoin="round"/><path d="M697.7 63.7L698.8 61.8M700.2 63.2L701.3 61.4M702.7 62.8L703.8 60.9" fill="none" stroke="#2b9b9b" stroke-width="1.9" stroke-linecap="round"/><path d="M697.7 63.9L698.4 61.7M700.2 63.5L700.9 61.2M702.7 63L703.4 60.7" fill="none" stroke="#6cc6c6" stroke-width="0.5" stroke-linecap="round" opacity="0.6"/><path d="M703.9 65.6L705.2 67.3L706.7 69.1L708.5 70.7L710.6 72L712.9 72.8L715.2 73.3L717.4 73.6L719.7 73.9L722 74.2L724.2 74.4L726.5 74.6L728.8 74.8L731 75L733.3 75.2L735.5 75.4" fill="none" stroke="#186464" stroke-width="2" stroke-linecap="butt" stroke-linejoin="round"/><path d="M703.9 66.3L706.6 65.4M705.2 67.8L708.1 67.4M706.8 69.6L709.6 68.9M708.7 71.2L711.3 70M710.9 72.4L713.2 70.7M713.2 73.2L715.2 71.1M715.6 73.7L717.3 71.5M717.8 74.1L719.5 71.8M720.1 74.4L721.8 72M722.4 74.6L724 72.3M724.6 74.8L726.2 72.5M726.9 75L728.5 72.6M729.2 75.2L730.7 72.8M731.4 75.4L733 73M733.7 75.6L735.3 73.2" fill="none" stroke="#2b9b9b" stroke-width="1.7" stroke-linecap="round"/><path d="M703.9 66.3L706.3 65.2M705.3 67.9L707.8 67.1M706.9 69.6L709.3 68.6M708.8 71.2L711 69.8M711 72.4L712.8 70.5M713.3 73.2L714.8 71M715.6 73.7L717 71.4M717.9 74.1L719.2 71.7M720.2 74.4L721.4 72M722.4 74.6L723.6 72.2M724.7 74.8L725.9 72.4M727 75L728.1 72.6M729.2 75.2L730.4 72.8M731.5 75.4L732.6 73M733.7 75.6L734.9 73.2" fill="none" stroke="#6cc6c6" stroke-width="0.4" stroke-linecap="round" opacity="0.6"/><path d="M721.6 64.4L723.8 65.5L726 66.6L728.2 67.7L730.4 68.8L732.5 69.8" fill="none" stroke="#186464" stroke-width="1.9" stroke-linecap="butt" stroke-linejoin="round"/><path d="M722 64.9L724.2 63.6M724.1 66L726.4 64.7M726.3 67L728.6 65.8M728.5 68.1L730.8 66.8M730.7 69.2L732.9 67.9" fill="none" stroke="#2b9b9b" stroke-width="1.8" stroke-linecap="round"/><path d="M721.9 65L723.9 63.3M724.1 66.1L726.1 64.4M726.3 67.2L728.3 65.5M728.5 68.2L730.5 66.6M730.7 69.3L732.6 67.6" fill="none" stroke="#6cc6c6" stroke-width="0.4" stroke-linecap="round" opacity="0.6"/><path d="M717.1 60.2L718.9 58.6L720.7 57L722.5 55.5" fill="none" stroke="#186464" stroke-width="1.7" stroke-linecap="butt" stroke-linejoin="round"/><path d="M717.5 59.9L717.5 57.7M719.3 58.4L719.3 56.1M721.1 56.8L721.1 54.6" fill="none" stroke="#2b9b9b" stroke-width="1.8" stroke-linecap="round"/><path d="M717.7 60.1L717.1 57.8M719.5 58.5L718.9 56.2M721.3 56.9L720.7 54.7" fill="none" stroke="#6cc6c6" stroke-width="0.4" stroke-linecap="round" opacity="0.6"/><path d="M722.3 77.9L724.4 78.9L726.4 79.9L728.4 80.9L730.4 81.9" fill="none" stroke="#186464" stroke-width="1.9" stroke-linecap="butt" stroke-linejoin="round"/><path d="M722.6 78.4L724.8 77M724.6 79.4L726.9 78M726.6 80.4L728.9 79M728.7 81.4L730.9 80" fill="none" stroke="#2b9b9b" stroke-width="1.7" stroke-linecap="round"/><path d="M722.6 78.5L724.5 76.8M724.6 79.5L726.5 77.8M726.7 80.5L728.6 78.8M728.7 81.5L730.6 79.8" fill="none" stroke="#6cc6c6" stroke-width="0.4" stroke-linecap="round" opacity="0.6"/><circle cx="711.2" cy="63.5" r="1.5" fill="none" stroke="#186464" stroke-width="0.8"/><circle cx="710.6" cy="63.7" r="1.7" fill="none" stroke="#2b9b9b" stroke-width="1"/><circle cx="718.5" cy="66.3" r="1.2" fill="none" stroke="#186464" stroke-width="0.7"/><circle cx="718" cy="66.4" r="1.3" fill="none" stroke="#2b9b9b" stroke-width="0.9"/></g>
<g transform="translate(633.3 2.6) scale(0.51)"><path d="M228.4 170.9C229.8 169.1 234.4 163 236.9 159.9C239.4 156.8 241 153.3 243.4 152.1C245.8 150.9 249.2 153.7 251.1 152.8C253 151.9 253.1 147.8 255 146.9C256.9 146 260.9 148 262.8 147.6C264.8 147.2 265.2 144.3 266.7 144.3C268.2 144.3 269.9 147.2 271.9 147.6C273.8 148 276.9 146.6 278.4 146.9C279.9 147.2 280.6 149.1 281 149.5" fill="none" stroke="#cc68c0" stroke-width="1.2" stroke-linecap="round" stroke-linejoin="round"/><path d="M281 149.5C280.1 148.2 275.6 143.6 275.8 141.7C276 139.8 281.4 139.4 282.3 137.8C283.2 136.2 280.1 133.5 281 132C281.9 130.5 286.6 130 287.5 128.8C288.4 127.6 285.3 126 286.2 124.9C287.1 123.8 291.8 123.6 292.7 122.3C293.6 121 291.2 118 291.4 117.1C291.6 116.2 293.5 115.8 294 117.1C294.5 118.4 295.5 122.7 294.6 124.9C293.7 127.1 289.3 128.4 288.8 130.1C288.3 131.8 291.8 133.7 291.4 135.2C291 136.7 287.3 137.4 286.2 139.1C285.1 140.8 284.2 144.1 284.9 145.6C285.5 147.1 288.4 147.1 290.1 148.2C291.8 149.3 293.8 151.7 295.3 152.1C296.8 152.5 298.5 151 299.1 150.8" fill="none" stroke="#cc68c0" stroke-width="1.2" stroke-linecap="round" stroke-linejoin="round"/><path d="M281 149.5C280.1 150.2 275.8 152.1 275.8 153.4C275.8 154.7 279.9 156 281 157.3C282.1 158.6 281.2 160.3 282.3 161.2C283.4 162.1 286.4 161.4 287.5 162.5C288.6 163.6 287.9 166.7 288.8 167.7C289.7 168.7 291.8 169 292.7 168.3C293.6 167.7 293.8 164.6 294 163.8" fill="none" stroke="#cc68c0" stroke-width="1.2" stroke-linecap="round" stroke-linejoin="round"/><path d="M328.3 135.2C329.5 134.9 333.6 132.7 335.5 133.3C337.4 134 339.2 137.4 339.4 139.1C339.6 140.8 338.1 143 336.8 143.7C335.5 144.3 332.5 143.1 331.6 143" fill="none" stroke="#cc68c0" stroke-width="1.2" stroke-linecap="round" stroke-linejoin="round"/><path d="M299.8 148.7L305.6 146.4L311.5 144.1L317.3 141.8L323.2 139.5L329 137.2" fill="none" stroke="#84207a" stroke-width="3.2" stroke-linecap="butt" stroke-linejoin="round"/><path d="M301 148.3L303 143.2M306.8 146L308.9 140.9M312.7 143.7L314.7 138.6M318.5 141.4L320.6 136.3M324.4 139.1L326.4 134" fill="none" stroke="#b93cab" stroke-width="4" stroke-linecap="round"/><path d="M301.3 148.6L302 143.2M307.1 146.3L307.8 140.9M313 144L313.7 138.6M318.8 141.7L319.5 136.3M324.7 139.4L325.3 134" fill="none" stroke="#dc86d2" stroke-width="1.1" stroke-linecap="round" opacity="0.6"/><path d="M296.1 161.6L302.2 158.8L308.2 156L314.3 153.2L320.3 150.4L326.4 147.6L332.4 144.7" fill="none" stroke="#84207a" stroke-width="3.2" stroke-linecap="butt" stroke-linejoin="round"/><path d="M297.3 161L299.3 155.9M303.4 158.2L305.4 153.1M309.4 155.4L311.4 150.3M315.5 152.6L317.5 147.5M321.5 149.8L323.5 144.7M327.6 147L329.6 141.9" fill="none" stroke="#b93cab" stroke-width="4.3" stroke-linecap="round"/><path d="M297.7 161.4L298.2 155.9M303.7 158.6L304.2 153.1M309.8 155.8L310.3 150.3M315.8 153L316.3 147.4M321.9 150.2L322.4 144.6M327.9 147.4L328.4 141.8" fill="none" stroke="#dc86d2" stroke-width="1.2" stroke-linecap="round" opacity="0.6"/><path d="M293.8 163.1L299.8 164L305.9 164.8L312.1 165.6L318.4 166.1L324.7 166.1L331 165.4L337.2 164.4L343.2 163.2L349.3 161.9L355.3 160.7" fill="none" stroke="#84207a" stroke-width="3.2" stroke-linecap="butt" stroke-linejoin="round"/><path d="M295 163.4L299.1 159.8M301 164.2L305.3 160.7M307.1 165.1L311.4 161.5M313.3 165.8L317.4 162.1M319.6 166.1L323.5 162.2M325.9 166L329.4 161.7M332.2 165.3L335.3 160.7M338.4 164.3L341.3 159.6M344.5 163.1L347.3 158.3M350.5 161.8L353.3 157" fill="none" stroke="#b93cab" stroke-width="3.9" stroke-linecap="round"/><path d="M295.1 163.8L298.2 159.3M301.1 164.6L304.4 160.2M307.3 165.5L310.5 161M313.5 166.1L316.5 161.6M319.7 166.5L322.5 161.8M326.1 166.3L328.4 161.4M332.4 165.7L334.3 160.5M338.6 164.6L340.3 159.4M344.7 163.4L346.3 158.2M350.8 162.1L352.2 156.9" fill="none" stroke="#dc86d2" stroke-width="1.1" stroke-linecap="round" opacity="0.6"/></g>
<g transform="translate(633.3 230.8) scale(0.51)"><path d="M228.4 170.9C229.8 169.1 234.4 163 236.9 159.9C239.4 156.8 241 153.3 243.4 152.1C245.8 150.9 249.2 153.7 251.1 152.8C253 151.9 253.1 147.8 255 146.9C256.9 146 260.9 148 262.8 147.6C264.8 147.2 265.2 144.3 266.7 144.3C268.2 144.3 269.9 147.2 271.9 147.6C273.8 148 276.9 146.6 278.4 146.9C279.9 147.2 280.6 149.1 281 149.5" fill="none" stroke="#cc68c0" stroke-width="1.2" stroke-linecap="round" stroke-linejoin="round"/><path d="M281 149.5C280.1 148.2 275.6 143.6 275.8 141.7C276 139.8 281.4 139.4 282.3 137.8C283.2 136.2 280.1 133.5 281 132C281.9 130.5 286.6 130 287.5 128.8C288.4 127.6 285.3 126 286.2 124.9C287.1 123.8 291.8 123.6 292.7 122.3C293.6 121 291.2 118 291.4 117.1C291.6 116.2 293.5 115.8 294 117.1C294.5 118.4 295.5 122.7 294.6 124.9C293.7 127.1 289.3 128.4 288.8 130.1C288.3 131.8 291.8 133.7 291.4 135.2C291 136.7 287.3 137.4 286.2 139.1C285.1 140.8 284.2 144.1 284.9 145.6C285.5 147.1 288.4 147.1 290.1 148.2C291.8 149.3 293.8 151.7 295.3 152.1C296.8 152.5 298.5 151 299.1 150.8" fill="none" stroke="#cc68c0" stroke-width="1.2" stroke-linecap="round" stroke-linejoin="round"/><path d="M281 149.5C280.1 150.2 275.8 152.1 275.8 153.4C275.8 154.7 279.9 156 281 157.3C282.1 158.6 281.2 160.3 282.3 161.2C283.4 162.1 286.4 161.4 287.5 162.5C288.6 163.6 287.9 166.7 288.8 167.7C289.7 168.7 291.8 169 292.7 168.3C293.6 167.7 293.8 164.6 294 163.8" fill="none" stroke="#cc68c0" stroke-width="1.2" stroke-linecap="round" stroke-linejoin="round"/><path d="M328.3 135.2C329.5 134.9 333.6 132.7 335.5 133.3C337.4 134 339.2 137.4 339.4 139.1C339.6 140.8 338.1 143 336.8 143.7C335.5 144.3 332.5 143.1 331.6 143" fill="none" stroke="#cc68c0" stroke-width="1.2" stroke-linecap="round" stroke-linejoin="round"/><path d="M299.8 148.7L305.6 146.4L311.5 144.1L317.3 141.8L323.2 139.5L329 137.2" fill="none" stroke="#84207a" stroke-width="3.2" stroke-linecap="butt" stroke-linejoin="round"/><path d="M301 148.3L303 143.2M306.8 146L308.9 140.9M312.7 143.7L314.7 138.6M318.5 141.4L320.6 136.3M324.4 139.1L326.4 134" fill="none" stroke="#b93cab" stroke-width="4" stroke-linecap="round"/><path d="M301.3 148.6L302 143.2M307.1 146.3L307.8 140.9M313 144L313.7 138.6M318.8 141.7L319.5 136.3M324.7 139.4L325.3 134" fill="none" stroke="#dc86d2" stroke-width="1.1" stroke-linecap="round" opacity="0.6"/><path d="M296.1 161.6L302.2 158.8L308.2 156L314.3 153.2L320.3 150.4L326.4 147.6L332.4 144.7" fill="none" stroke="#84207a" stroke-width="3.2" stroke-linecap="butt" stroke-linejoin="round"/><path d="M297.3 161L299.3 155.9M303.4 158.2L305.4 153.1M309.4 155.4L311.4 150.3M315.5 152.6L317.5 147.5M321.5 149.8L323.5 144.7M327.6 147L329.6 141.9" fill="none" stroke="#b93cab" stroke-width="4.3" stroke-linecap="round"/><path d="M297.7 161.4L298.2 155.9M303.7 158.6L304.2 153.1M309.8 155.8L310.3 150.3M315.8 153L316.3 147.4M321.9 150.2L322.4 144.6M327.9 147.4L328.4 141.8" fill="none" stroke="#dc86d2" stroke-width="1.2" stroke-linecap="round" opacity="0.6"/><path d="M293.8 163.1L299.8 164L305.9 164.8L312.1 165.6L318.4 166.1L324.7 166.1L331 165.4L337.2 164.4L343.2 163.2L349.3 161.9L355.3 160.7" fill="none" stroke="#84207a" stroke-width="3.2" stroke-linecap="butt" stroke-linejoin="round"/><path d="M295 163.4L299.1 159.8M301 164.2L305.3 160.7M307.1 165.1L311.4 161.5M313.3 165.8L317.4 162.1M319.6 166.1L323.5 162.2M325.9 166L329.4 161.7M332.2 165.3L335.3 160.7M338.4 164.3L341.3 159.6M344.5 163.1L347.3 158.3M350.5 161.8L353.3 157" fill="none" stroke="#b93cab" stroke-width="3.9" stroke-linecap="round"/><path d="M295.1 163.8L298.2 159.3M301.1 164.6L304.4 160.2M307.3 165.5L310.5 161M313.5 166.1L316.5 161.6M319.7 166.5L322.5 161.8M326.1 166.3L328.4 161.4M332.4 165.7L334.3 160.5M338.6 164.6L340.3 159.4M344.7 163.4L346.3 158.2M350.8 162.1L352.2 156.9" fill="none" stroke="#dc86d2" stroke-width="1.1" stroke-linecap="round" opacity="0.6"/></g>
<g transform="translate(616.2 151.8) rotate(-30) scale(0.6) translate(-78 -57)"><path d="M73.5 27.5C74 27.9 76.3 29 76.5 30C76.7 31 74.4 32.4 74.5 33.5C74.6 34.6 76.8 35.2 77 36.5C77.2 37.8 75.8 40.2 75.5 41" fill="none" stroke="#d6d63a" stroke-width="1.3" stroke-linecap="round" stroke-linejoin="round"/><path d="M72 44C71.3 43 69.5 38.3 68 38C66.5 37.7 64.7 41 63 42C61.3 43 58.8 43.7 58 44" fill="none" stroke="#d6d63a" stroke-width="1.3" stroke-linecap="round" stroke-linejoin="round"/><path d="M96 46C96.8 45.5 99.3 43 101 43C102.7 43 104.7 45.8 106 46C107.3 46.2 108.4 42.7 109 44C109.6 45.3 110.5 51.8 109.5 54C108.5 56.2 104.6 56.3 103 57C101.4 57.7 99.2 57.5 100 58C100.8 58.5 105.8 59 108 60C110.2 61 112.3 62 113 64C113.7 66 113.2 70.3 112 72C110.8 73.7 107.3 73.2 106 74C104.7 74.8 104.3 76.5 104 77" fill="none" stroke="#d6d63a" stroke-width="1.3" stroke-linecap="round" stroke-linejoin="round"/><path d="M60 64C60.5 65 61.3 68.3 63 70C64.7 71.7 68.8 73.3 70 74" fill="none" stroke="#d6d63a" stroke-width="1.3" stroke-linecap="round" stroke-linejoin="round"/><path d="M80 80C81 80.5 83.8 82.7 86 83C88.2 83.3 90.7 82.3 93 82C95.3 81.7 97.7 81.5 100 81C102.3 80.5 104.8 78.9 107 79C109.2 79.1 111.2 80.7 113 81.5C114.8 82.3 116.2 82.6 118 84C119.8 85.4 122.1 87.2 124 90C125.9 92.8 128.4 99.2 129.3 101" fill="none" stroke="#d6d63a" stroke-width="1.4" stroke-linecap="round" stroke-linejoin="round"/><path d="M113 81.5C113.7 80.8 115.7 78.1 117 77C118.3 75.9 120.3 75.3 121 75" fill="none" stroke="#d6d63a" stroke-width="1.3" stroke-linecap="round" stroke-linejoin="round"/><path d="M128 80C127.8 81.3 126.5 86 127 88C127.5 90 130.3 91.3 131 92" fill="none" stroke="#d6d63a" stroke-width="1.3" stroke-linecap="round" stroke-linejoin="round"/><path d="M55.9 44.2L61.9 53L67.9 61.7" fill="none" stroke="#9d9d1c" stroke-width="8.3" stroke-linecap="butt" stroke-linejoin="round"/><path d="M57.5 45.8L62.5 50M63.5 54.5L68.5 58.7" fill="none" stroke="#e6e636" stroke-width="9.8" stroke-linecap="round"/><path d="M55.3 47.2L63.6 46.9M61.3 55.9L69.6 55.7" fill="none" stroke="#f6f68a" stroke-width="1.9" stroke-linecap="round" opacity="0.6"/><circle cx="58.2" cy="58.2" r="3.1" fill="none" stroke="#9d9d1c" stroke-width="1.6"/><circle cx="57" cy="58.5" r="3.4" fill="none" stroke="#e6e636" stroke-width="2"/><path d="M59.7 63.6L63 68.1L66.2 72.6" fill="none" stroke="#9d9d1c" stroke-width="6.3" stroke-linecap="butt" stroke-linejoin="round"/><path d="M59.7 65L64.6 65.5M62.9 69.5L67.8 70" fill="none" stroke="#e6e636" stroke-width="5.1" stroke-linecap="round"/><path d="M59 65.4L64.6 64.2M62.3 69.9L67.9 68.7" fill="none" stroke="#f6f68a" stroke-width="1" stroke-linecap="round" opacity="0.6"/><path d="M79.9 67.6L83.4 76.6" fill="none" stroke="#9d9d1c" stroke-width="6.3" stroke-linecap="butt" stroke-linejoin="round"/><path d="M81.7 75.2L79.8 69.8" fill="none" stroke="#e6e636" stroke-width="8.9" stroke-linecap="round"/><path d="M78.7 74.5L82.2 68.8" fill="none" stroke="#f6f68a" stroke-width="1.7" stroke-linecap="round" opacity="0.6"/><path d="M62.2 50.9L69.7 57.2L75.2 64.5L78.9 73.5" fill="none" stroke="#9d9d1c" stroke-width="7.9" stroke-linecap="butt" stroke-linejoin="round"/><path d="M63.9 52L69.6 54.3M70.5 58.9L76.2 61.3M76 66.3L80.3 70.7" fill="none" stroke="#e6e636" stroke-width="9" stroke-linecap="round"/><path d="M62.4 53.7L69.8 51.4M69 60.6L76.5 58.4M73.9 67.3L81.6 68.1" fill="none" stroke="#f6f68a" stroke-width="1.8" stroke-linecap="round" opacity="0.6"/><path d="M70.8 46.4L71.2 47.1L71.7 48L72.3 49.1L73 50.2L73.7 51.5L74.5 52.8L75.2 54.2L76 55.5L76.7 56.7L77.3 57.9L78 59.1L78.7 60.3L79.4 61.6L80.1 62.9L78.6 63.7L85 68L84.9 60.2L83.4 61.1L82.7 59.8L82 58.5L81.3 57.3L80.7 56.1L80 54.9L79.3 53.6L78.5 52.3L77.8 50.9L77 49.6L76.3 48.4L75.6 47.2L75 46.1L74.5 45.2L74.2 44.6Z" fill="#c4c428" stroke="#c4c428" stroke-width="0.4" stroke-linejoin="round"/><path d="M67.6 50.7L67.9 51.4L68.4 52.4L69 53.6L69.6 54.8L70.3 56.2L71 57.6L71.7 59L72.4 60.4L73 61.6L73.6 62.7L74.1 63.7L74.6 64.7L75 65.7L73.8 66.3L79 70L79.2 63.6L77.9 64.2L77.4 63.3L76.9 62.3L76.4 61.3L75.9 60.2L75.3 58.9L74.6 57.6L73.9 56.2L73.2 54.8L72.5 53.4L71.9 52.1L71.3 51L70.8 50L70.4 49.3Z" fill="#c4c428" stroke="#c4c428" stroke-width="0.4" stroke-linejoin="round"/><path d="M64.7 54.7L65 55.4L65.5 56.4L66.1 57.6L66.8 58.9L67.5 60.2L68.2 61.7L68.9 63.1L69.6 64.4L70.1 65.6L70.6 66.6L71.1 67.6L71.5 68.4L70.2 69L75 73L75.4 66.7L74.2 67.2L73.8 66.3L73.4 65.4L72.8 64.3L72.2 63.1L71.6 61.7L70.9 60.3L70.2 58.9L69.5 57.5L68.8 56.2L68.2 55L67.7 54.1L67.3 53.3Z" fill="#c4c428" stroke="#c4c428" stroke-width="0.4" stroke-linejoin="round"/><path d="M79 36.1L84 44.4L89 52.8L94 61.1" fill="none" stroke="#9d9d1c" stroke-width="7.5" stroke-linecap="butt" stroke-linejoin="round"/><path d="M80.4 37.6L84.6 41.8M85.4 45.9L89.6 50.1M90.4 54.2L94.6 58.4" fill="none" stroke="#e6e636" stroke-width="8.9" stroke-linecap="round"/><path d="M78.3 38.8L85.8 39M83.3 47.1L90.8 47.4M88.3 55.4L95.8 55.7" fill="none" stroke="#f6f68a" stroke-width="1.7" stroke-linecap="round" opacity="0.6"/><path d="M85.4 65.5L92.9 69.5L100.4 73.5" fill="none" stroke="#7c7c14" stroke-width="7.5" stroke-linecap="butt" stroke-linejoin="round"/><path d="M86.9 66.5L92.6 66.5M94.4 70.5L100.1 70.5" fill="none" stroke="#e6e636" stroke-width="7.8" stroke-linecap="round"/><path d="M86 68.1L92.1 64.2M93.5 72.1L99.6 68.2" fill="none" stroke="#f6f68a" stroke-width="1.5" stroke-linecap="round" opacity="0.6"/><path d="M66.5 74.8L73.5 79.3" fill="none" stroke="#9d9d1c" stroke-width="6.3" stroke-linecap="butt" stroke-linejoin="round"/><path d="M68.1 75.4L72.9 77.1" fill="none" stroke="#e6e636" stroke-width="7.7" stroke-linecap="round"/><path d="M67 77.1L72.8 74.6" fill="none" stroke="#f6f68a" stroke-width="1.5" stroke-linecap="round" opacity="0.6"/><path d="M89.5 56.7L94 59.7L98.5 62.7" fill="none" stroke="#9d9d1c" stroke-width="5.5" stroke-linecap="butt" stroke-linejoin="round"/><path d="M90.1 57.7L94.4 57.3M94.6 60.7L98.9 60.3" fill="none" stroke="#e6e636" stroke-width="5" stroke-linecap="round"/><path d="M89.6 58.5L94.1 55.9M94.1 61.5L98.6 58.9" fill="none" stroke="#f6f68a" stroke-width="1" stroke-linecap="round" opacity="0.6"/><circle cx="113" cy="65.6" r="3.8" fill="none" stroke="#9d9d1c" stroke-width="1.8"/><circle cx="111.5" cy="66" r="4.2" fill="none" stroke="#e6e636" stroke-width="2.2"/><path d="M118.7 74.6L127 76.6L135.2 78.6" fill="none" stroke="#6e6e12" stroke-width="7.1" stroke-linecap="butt" stroke-linejoin="round"/><path d="M120.4 74.9L125.8 74.1M128.7 76.9L134.1 76.1" fill="none" stroke="#e6e636" stroke-width="7.8" stroke-linecap="round"/><path d="M119.9 76.8L124.8 71.8M128.2 78.8L133 73.8" fill="none" stroke="#f6f68a" stroke-width="1.5" stroke-linecap="round" opacity="0.6"/><circle cx="139.8" cy="90.8" r="4" fill="none" stroke="#9d9d1c" stroke-width="1.8"/><circle cx="138.3" cy="91.2" r="4.4" fill="none" stroke="#e6e636" stroke-width="2.3"/><circle cx="133.5" cy="106.1" r="4" fill="none" stroke="#9d9d1c" stroke-width="1.9"/><circle cx="132" cy="106.5" r="4.4" fill="none" stroke="#e6e636" stroke-width="2.4"/></g>
<g transform="translate(654.0 107.2) scale(0.62)"><path d="M154.4 98.5C155 97.7 156.7 94.4 158 93.5C159.3 92.6 160.9 93.8 162 93C163.1 92.2 163.4 89.8 164.5 89C165.6 88.2 167.1 88.8 168.5 88.5C169.9 88.2 172.2 87.2 173 87" fill="none" stroke="#e4949c" stroke-width="1.3" stroke-linecap="round" stroke-linejoin="round"/><path d="M211.5 49C212.9 49.1 217.6 48.8 220 49.5C222.4 50.2 224.4 53.6 225.7 53.5C227 53.4 227.6 49.8 228 49" fill="none" stroke="#e4949c" stroke-width="1.3" stroke-linecap="round" stroke-linejoin="round"/><path d="M231.5 48C232.5 47.6 235.9 45.6 237.3 45.9C238.8 46.2 238.8 49.4 240.2 49.8C241.6 50.1 244.5 47.6 245.9 48C247.3 48.4 247.4 51.1 248.8 52.3C250.2 53.5 253.3 53.6 254.6 55.2C255.9 56.8 255.5 60.1 256.7 61.7C257.9 63.3 261.2 62.9 261.8 64.6C262.4 66.3 261.8 70 260.3 71.8C258.9 73.6 255.5 75.4 253.1 75.4C250.7 75.4 248.1 72.3 245.9 71.8C243.8 71.3 242.1 73.5 240.2 72.5C238.3 71.5 236.6 67.7 234.4 66C232.2 64.3 229.1 62.4 227.2 62.4C225.3 62.4 224.3 65.6 222.9 66C221.5 66.4 219.2 64.8 218.5 64.6" fill="none" stroke="#e4949c" stroke-width="1.3" stroke-linecap="round" stroke-linejoin="round"/><path d="M207 90.5C207.1 91.1 207.6 92.8 207.5 94C207.4 95.2 206.7 96.9 206.5 97.5" fill="none" stroke="#e4949c" stroke-width="1.3" stroke-linecap="round" stroke-linejoin="round"/><path d="M174.7 88.7L180.2 83.3L185.6 77.9L191.1 72.6L196.6 67.2L202 61.9L207.5 56.5L212.9 51.2" fill="none" stroke="#b25862" stroke-width="3.9" stroke-linecap="butt" stroke-linejoin="round"/><path d="M176.3 86.3L175.3 82.3M181.8 81L180.8 76.9M187.2 75.6L186.3 71.6M192.7 70.3L191.7 66.2M198.1 64.9L197.2 60.9M203.6 59.6L202.6 55.5M209.1 54.2L208.1 50.2" fill="none" stroke="#e8828c" stroke-width="6.1" stroke-linecap="round"/><path d="M176.9 87.3L173.9 82.2M182.3 82L179.3 76.8M187.8 76.6L184.8 71.4M193.3 71.3L190.3 66.1M198.7 65.9L195.7 60.7M204.2 60.6L201.2 55.4M209.6 55.2L206.6 50" fill="none" stroke="#f6bcc2" stroke-width="1.4" stroke-linecap="round" opacity="0.6"/><path d="M209.5 91.2L212.1 85L214.7 78.9L217.3 72.7L219.9 66.5" fill="none" stroke="#b25862" stroke-width="3.9" stroke-linecap="butt" stroke-linejoin="round"/><path d="M210.3 88.9L207.1 85.5M212.9 82.7L209.7 79.3M215.5 76.6L212.3 73.2M218.1 70.4L214.9 67" fill="none" stroke="#e8828c" stroke-width="5.4" stroke-linecap="round"/><path d="M210.9 89.4L206.1 86M213.5 83.3L208.7 79.8M216.1 77.1L211.3 73.6M218.7 70.9L213.9 67.4" fill="none" stroke="#f6bcc2" stroke-width="1.2" stroke-linecap="round" opacity="0.6"/><path d="M228.4 52.6L232.2 47" fill="none" stroke="#b25862" stroke-width="2.4" stroke-linecap="butt" stroke-linejoin="round"/><path d="M228.2 50.9L230 47.1" fill="none" stroke="#e8828c" stroke-width="5.4" stroke-linecap="round"/><path d="M229.5 51.6L228.1 47.3" fill="none" stroke="#f6bcc2" stroke-width="1.2" stroke-linecap="round" opacity="0.6"/></g>
<path d="M527.2 223.8C527.4 224.7 527.6 228 528.5 229.2C529.4 230.4 531.9 230.9 532.6 231.2" fill="none" stroke="#c2c2c6" stroke-width="1" stroke-linecap="round" stroke-linejoin="round"/><path d="M567.7 206.9C568.6 207.6 572.2 209.2 573.1 210.9C574 212.6 572.5 215.5 573.1 217C573.7 218.5 575.9 219.2 576.5 219.7" fill="none" stroke="#c2c2c6" stroke-width="1" stroke-linecap="round" stroke-linejoin="round"/><path d="M573.1 227.8C572.1 228.2 567.6 229.2 567 230.5C566.4 231.8 570 234.1 569.7 235.9C569.4 237.7 565.7 239.6 565 241.4C564.3 243.2 566.3 245.2 565.7 246.8C565.1 248.4 562.2 249.5 561.6 250.8C561 252.2 562.2 254.2 562.3 254.9" fill="none" stroke="#c2c2c6" stroke-width="1" stroke-linecap="round" stroke-linejoin="round"/><path d="M569 223L573.1 227.8" fill="none" stroke="#c2c2c6" stroke-width="1" stroke-linecap="round" stroke-linejoin="round"/><path d="M532.9 230.8L538.1 229.9L543.3 228.9L548.5 227.9L553.7 226.9L558.9 226L564.1 225L569.3 224" fill="none" stroke="#8c8c90" stroke-width="3.6" stroke-linecap="butt" stroke-linejoin="round"/><path d="M534 231L536.4 226.9M539.2 230L541.6 225.9M544.4 229L546.8 224.9M549.6 228L552 224M554.8 227.1L557.2 223M560 226.1L562.4 222M565.2 225.1L567.6 221" fill="none" stroke="#cdcdcf" stroke-width="3.7" stroke-linecap="round"/><path d="M534.1 231.3L535.5 226.6M539.3 230.4L540.7 225.7M544.5 229.4L545.9 224.7M549.7 228.4L551.1 223.7M554.9 227.4L556.3 222.8M560.1 226.5L561.5 221.8M565.3 225.5L566.7 220.8" fill="none" stroke="#f4f4f4" stroke-width="1" stroke-linecap="round" opacity="0.6"/><path d="M538.4 216.4L543.2 215L547.9 213.5L552.6 212.1L557.4 210.7L562.1 209.2L566.8 207.8" fill="none" stroke="#8c8c90" stroke-width="3.6" stroke-linecap="butt" stroke-linejoin="round"/><path d="M539.5 216.5L541.2 212M544.2 215.1L546 210.6M549 213.7L550.7 209.2M553.7 212.2L555.4 207.7M558.4 210.8L560.2 206.3M563.2 209.4L564.9 204.9" fill="none" stroke="#cdcdcf" stroke-width="3.5" stroke-linecap="round"/><path d="M539.7 216.8L540.4 212M544.4 215.3L545.1 210.6M549.1 213.9L549.9 209.1M553.9 212.5L554.6 207.7M558.6 211L559.3 206.3M563.3 209.6L564.1 204.8" fill="none" stroke="#f4f4f4" stroke-width="0.9" stroke-linecap="round" opacity="0.6"/><path d="M527.1 217.9L531.6 219.1L536.2 220.3L540.9 221.5L545.7 222.3L550.6 222.7L555.5 222.5L560.3 222.2L565 221.7L569.8 221.1L574.4 220.6" fill="none" stroke="#8c8c90" stroke-width="3.7" stroke-linecap="butt" stroke-linejoin="round"/><path d="M527.8 218.7L531.6 215.3M532.3 219.9L536.2 216.7M537 221.1L540.8 217.8M541.7 222.2L545.4 218.7M546.6 222.9L549.9 219.1M551.6 223.2L554.4 219M556.4 223L559.1 218.7M561.3 222.6L563.7 218.2M566 222.1L568.4 217.7M570.8 221.6L573.1 217.1" fill="none" stroke="#cdcdcf" stroke-width="3.3" stroke-linecap="round"/><path d="M527.9 218.9L530.9 215M532.4 220.1L535.5 216.3M537 221.3L540.1 217.4M541.8 222.3L544.6 218.3M546.7 223.1L549.2 218.8M551.7 223.3L553.7 218.8M556.5 223.2L558.3 218.6M561.4 222.8L562.9 218.1M566.1 222.3L567.6 217.6M570.9 221.7L572.3 217.1" fill="none" stroke="#f4f4f4" stroke-width="0.9" stroke-linecap="round" opacity="0.6"/>
<g transform="translate(615.3 230.5) rotate(-30) scale(0.61) translate(-78 -57)"><path d="M73.5 27.5C74 27.9 76.3 29 76.5 30C76.7 31 74.4 32.4 74.5 33.5C74.6 34.6 76.8 35.2 77 36.5C77.2 37.8 75.8 40.2 75.5 41" fill="none" stroke="#5e6fc6" stroke-width="1.3" stroke-linecap="round" stroke-linejoin="round"/><path d="M72 44C71.3 43 69.5 38.3 68 38C66.5 37.7 64.7 41 63 42C61.3 43 58.8 43.7 58 44" fill="none" stroke="#5e6fc6" stroke-width="1.3" stroke-linecap="round" stroke-linejoin="round"/><path d="M96 46C96.8 45.5 99.3 43 101 43C102.7 43 104.7 45.8 106 46C107.3 46.2 108.4 42.7 109 44C109.6 45.3 110.5 51.8 109.5 54C108.5 56.2 104.6 56.3 103 57C101.4 57.7 99.2 57.5 100 58C100.8 58.5 105.8 59 108 60C110.2 61 112.3 62 113 64C113.7 66 113.2 70.3 112 72C110.8 73.7 107.3 73.2 106 74C104.7 74.8 104.3 76.5 104 77" fill="none" stroke="#5e6fc6" stroke-width="1.3" stroke-linecap="round" stroke-linejoin="round"/><path d="M60 64C60.5 65 61.3 68.3 63 70C64.7 71.7 68.8 73.3 70 74" fill="none" stroke="#5e6fc6" stroke-width="1.3" stroke-linecap="round" stroke-linejoin="round"/><path d="M80 80C81 80.5 83.8 82.7 86 83C88.2 83.3 90.7 82.3 93 82C95.3 81.7 97.7 81.5 100 81C102.3 80.5 104.8 78.9 107 79C109.2 79.1 111.2 80.7 113 81.5C114.8 82.3 116.2 82.6 118 84C119.8 85.4 122.1 87.2 124 90C125.9 92.8 128.4 99.2 129.3 101" fill="none" stroke="#5e6fc6" stroke-width="1.4" stroke-linecap="round" stroke-linejoin="round"/><path d="M113 81.5C113.7 80.8 115.7 78.1 117 77C118.3 75.9 120.3 75.3 121 75" fill="none" stroke="#5e6fc6" stroke-width="1.3" stroke-linecap="round" stroke-linejoin="round"/><path d="M128 80C127.8 81.3 126.5 86 127 88C127.5 90 130.3 91.3 131 92" fill="none" stroke="#5e6fc6" stroke-width="1.3" stroke-linecap="round" stroke-linejoin="round"/><path d="M55.9 44.2L61.9 53L67.9 61.7" fill="none" stroke="#34428c" stroke-width="8.3" stroke-linecap="butt" stroke-linejoin="round"/><path d="M57.5 45.8L62.5 50M63.5 54.5L68.5 58.7" fill="none" stroke="#5566c5" stroke-width="9.8" stroke-linecap="round"/><path d="M55.3 47.2L63.6 46.9M61.3 55.9L69.6 55.7" fill="none" stroke="#8f9de6" stroke-width="1.9" stroke-linecap="round" opacity="0.6"/><circle cx="58.2" cy="58.2" r="3.1" fill="none" stroke="#34428c" stroke-width="1.6"/><circle cx="57" cy="58.5" r="3.4" fill="none" stroke="#5566c5" stroke-width="2"/><path d="M59.7 63.6L63 68.1L66.2 72.6" fill="none" stroke="#34428c" stroke-width="6.3" stroke-linecap="butt" stroke-linejoin="round"/><path d="M59.7 65L64.6 65.5M62.9 69.5L67.8 70" fill="none" stroke="#5566c5" stroke-width="5.1" stroke-linecap="round"/><path d="M59 65.4L64.6 64.2M62.3 69.9L67.9 68.7" fill="none" stroke="#8f9de6" stroke-width="1" stroke-linecap="round" opacity="0.6"/><path d="M79.9 67.6L83.4 76.6" fill="none" stroke="#34428c" stroke-width="6.3" stroke-linecap="butt" stroke-linejoin="round"/><path d="M81.7 75.2L79.8 69.8" fill="none" stroke="#5566c5" stroke-width="8.9" stroke-linecap="round"/><path d="M78.7 74.5L82.2 68.8" fill="none" stroke="#8f9de6" stroke-width="1.7" stroke-linecap="round" opacity="0.6"/><path d="M62.2 50.9L69.7 57.2L75.2 64.5L78.9 73.5" fill="none" stroke="#34428c" stroke-width="7.9" stroke-linecap="butt" stroke-linejoin="round"/><path d="M63.9 52L69.6 54.3M70.5 58.9L76.2 61.3M76 66.3L80.3 70.7" fill="none" stroke="#5566c5" stroke-width="9" stroke-linecap="round"/><path d="M62.4 53.7L69.8 51.4M69 60.6L76.5 58.4M73.9 67.3L81.6 68.1" fill="none" stroke="#8f9de6" stroke-width="1.8" stroke-linecap="round" opacity="0.6"/><path d="M70.8 46.4L71.2 47.1L71.7 48L72.3 49.1L73 50.2L73.7 51.5L74.5 52.8L75.2 54.2L76 55.5L76.7 56.7L77.3 57.9L78 59.1L78.7 60.3L79.4 61.6L80.1 62.9L78.6 63.7L85 68L84.9 60.2L83.4 61.1L82.7 59.8L82 58.5L81.3 57.3L80.7 56.1L80 54.9L79.3 53.6L78.5 52.3L77.8 50.9L77 49.6L76.3 48.4L75.6 47.2L75 46.1L74.5 45.2L74.2 44.6Z" fill="#4c5cb4" stroke="#4c5cb4" stroke-width="0.4" stroke-linejoin="round"/><path d="M67.6 50.7L67.9 51.4L68.4 52.4L69 53.6L69.6 54.8L70.3 56.2L71 57.6L71.7 59L72.4 60.4L73 61.6L73.6 62.7L74.1 63.7L74.6 64.7L75 65.7L73.8 66.3L79 70L79.2 63.6L77.9 64.2L77.4 63.3L76.9 62.3L76.4 61.3L75.9 60.2L75.3 58.9L74.6 57.6L73.9 56.2L73.2 54.8L72.5 53.4L71.9 52.1L71.3 51L70.8 50L70.4 49.3Z" fill="#4c5cb4" stroke="#4c5cb4" stroke-width="0.4" stroke-linejoin="round"/><path d="M64.7 54.7L65 55.4L65.5 56.4L66.1 57.6L66.8 58.9L67.5 60.2L68.2 61.7L68.9 63.1L69.6 64.4L70.1 65.6L70.6 66.6L71.1 67.6L71.5 68.4L70.2 69L75 73L75.4 66.7L74.2 67.2L73.8 66.3L73.4 65.4L72.8 64.3L72.2 63.1L71.6 61.7L70.9 60.3L70.2 58.9L69.5 57.5L68.8 56.2L68.2 55L67.7 54.1L67.3 53.3Z" fill="#4c5cb4" stroke="#4c5cb4" stroke-width="0.4" stroke-linejoin="round"/><path d="M79 36.1L84 44.4L89 52.8L94 61.1" fill="none" stroke="#34428c" stroke-width="7.5" stroke-linecap="butt" stroke-linejoin="round"/><path d="M80.4 37.6L84.6 41.8M85.4 45.9L89.6 50.1M90.4 54.2L94.6 58.4" fill="none" stroke="#5566c5" stroke-width="8.9" stroke-linecap="round"/><path d="M78.3 38.8L85.8 39M83.3 47.1L90.8 47.4M88.3 55.4L95.8 55.7" fill="none" stroke="#8f9de6" stroke-width="1.7" stroke-linecap="round" opacity="0.6"/><path d="M85.4 65.5L92.9 69.5L100.4 73.5" fill="none" stroke="#34428c" stroke-width="7.5" stroke-linecap="butt" stroke-linejoin="round"/><path d="M86.9 66.5L92.6 66.5M94.4 70.5L100.1 70.5" fill="none" stroke="#5566c5" stroke-width="7.8" stroke-linecap="round"/><path d="M86 68.1L92.1 64.2M93.5 72.1L99.6 68.2" fill="none" stroke="#8f9de6" stroke-width="1.5" stroke-linecap="round" opacity="0.6"/><path d="M66.5 74.8L73.5 79.3" fill="none" stroke="#34428c" stroke-width="6.3" stroke-linecap="butt" stroke-linejoin="round"/><path d="M68.1 75.4L72.9 77.1" fill="none" stroke="#5566c5" stroke-width="7.7" stroke-linecap="round"/><path d="M67 77.1L72.8 74.6" fill="none" stroke="#8f9de6" stroke-width="1.5" stroke-linecap="round" opacity="0.6"/><path d="M89.5 56.7L94 59.7L98.5 62.7" fill="none" stroke="#34428c" stroke-width="5.5" stroke-linecap="butt" stroke-linejoin="round"/><path d="M90.1 57.7L94.4 57.3M94.6 60.7L98.9 60.3" fill="none" stroke="#5566c5" stroke-width="5" stroke-linecap="round"/><path d="M89.6 58.5L94.1 55.9M94.1 61.5L98.6 58.9" fill="none" stroke="#8f9de6" stroke-width="1" stroke-linecap="round" opacity="0.6"/><circle cx="113" cy="65.6" r="3.8" fill="none" stroke="#34428c" stroke-width="1.8"/><circle cx="111.5" cy="66" r="4.2" fill="none" stroke="#5566c5" stroke-width="2.2"/><path d="M118.7 74.6L127 76.6L135.2 78.6" fill="none" stroke="#6e6e12" stroke-width="7.1" stroke-linecap="butt" stroke-linejoin="round"/><path d="M120.4 74.9L125.8 74.1M128.7 76.9L134.1 76.1" fill="none" stroke="#5566c5" stroke-width="7.8" stroke-linecap="round"/><path d="M119.9 76.8L124.8 71.8M128.2 78.8L133 73.8" fill="none" stroke="#8f9de6" stroke-width="1.5" stroke-linecap="round" opacity="0.6"/><circle cx="139.8" cy="90.8" r="4" fill="none" stroke="#34428c" stroke-width="1.8"/><circle cx="138.3" cy="91.2" r="4.4" fill="none" stroke="#5566c5" stroke-width="2.3"/><circle cx="133.5" cy="106.1" r="4" fill="none" stroke="#34428c" stroke-width="1.9"/><circle cx="132" cy="106.5" r="4.4" fill="none" stroke="#5566c5" stroke-width="2.4"/></g>
<g transform="translate(514.1 177.8) scale(0.63)"><path d="M258.7 103.5C260.4 103.9 265.9 105.8 268.8 105.7C271.7 105.6 274.3 104.2 276 102.8C277.7 101.3 278.8 99.2 278.8 97C278.8 94.8 277.7 91.6 276 89.8C274.3 88 270 86.8 268.8 86.2" fill="none" stroke="#e9a46e" stroke-width="1.3" stroke-linecap="round" stroke-linejoin="round"/><path d="M284.6 110.7C285.6 110.1 288 107.8 290.4 107.1C292.8 106.4 297.6 106.5 299 106.4" fill="none" stroke="#e07a22" stroke-width="1.4" stroke-linecap="round" stroke-linejoin="round"/><path d="M302 62.4C302.7 61.3 304.1 56.8 306.3 55.6C308.5 54.4 313.6 55.3 315 55.2" fill="none" stroke="#e07a22" stroke-width="1.4" stroke-linecap="round" stroke-linejoin="round"/><path d="M304.8 76.8C305.8 75.6 308.2 71 310.6 69.6C313 68.2 317.8 68.4 319.2 68.2" fill="none" stroke="#e07a22" stroke-width="1.4" stroke-linecap="round" stroke-linejoin="round"/><path d="M330.8 68.2C332 67.2 335.8 62.4 338 62.4C340.2 62.4 341.6 67.7 343.8 68.2C346 68.7 348.9 64.6 351 65.3C353.1 66 356.5 69.6 356.7 72.5C356.9 75.4 353.6 80.4 352.4 82.6C351.2 84.8 350 85 349.5 85.5" fill="none" stroke="#e07a22" stroke-width="1.4" stroke-linecap="round" stroke-linejoin="round"/><path d="M277 89C277.7 90 280 93 281 95C282 97 282.7 100 283 101" fill="none" stroke="#e07a22" stroke-width="1.4" stroke-linecap="round" stroke-linejoin="round"/><path d="M278.9 89.8L281.7 87.4L284.6 84.9L287.5 82.5L290.4 80L293.3 77.6L296.1 75.2L299 72.7L301.9 70.3L303.1 71.7L306.3 63.8L298 65.6L299.2 67.1L296.3 69.5L293.4 72L290.5 74.4L287.7 76.8L284.8 79.3L281.9 81.7L279 84.2L276.1 86.6Z" fill="#a34c10" stroke="#a34c10" stroke-width="0.4" stroke-linejoin="round"/><path d="M282.4 89.3L284.7 88.3L287 87.2L289.4 86.1L291.7 85.1L294 84L296.3 83L298.7 81.9L299.5 83.6L304.8 76.8L296.2 76.3L296.9 78.1L294.6 79.1L292.3 80.2L290 81.2L287.6 82.3L285.3 83.4L283 84.4L280.6 85.5Z" fill="#a34c10" stroke="#a34c10" stroke-width="0.4" stroke-linejoin="round"/><path d="M287.1 93.6L292.1 90.4L297.1 87.1" fill="none" stroke="#c98552" stroke-width="4" stroke-linecap="butt" stroke-linejoin="round"/><path d="M288.3 93.3L288.7 87.4M293.3 90.1L293.7 84.2" fill="none" stroke="#eaa877" stroke-width="4.1" stroke-linecap="round"/><path d="M288.5 93.5L287.8 87.7M293.5 90.2L292.8 84.5" fill="none" stroke="#f6d2b4" stroke-width="1.1" stroke-linecap="round" opacity="0.6"/><path d="M294.7 87.5L305.9 87.6L317.2 87.7L328.5 87.8L339.7 87.9L351 88" fill="none" stroke="#a34c10" stroke-width="5.9" stroke-linecap="butt" stroke-linejoin="round"/><path d="M296.9 87.4L303.7 81.9M308.2 87.5L315 82M319.4 87.6L326.3 82.1M330.7 87.7L337.5 82.2M342 87.8L348.8 82.3" fill="none" stroke="#e8791c" stroke-width="7.7" stroke-linecap="round"/><path d="M297.2 88.6L302 80.7M308.4 88.7L313.2 80.8M319.7 88.8L324.5 80.9M330.9 88.9L335.7 81M342.2 89L347 81.1" fill="none" stroke="#f3a661" stroke-width="2" stroke-linecap="round" opacity="0.6"/><path d="M281 104.5L291 104.5L301 104.5L311 104.5L321 104.5L331 104.5" fill="none" stroke="#a34c10" stroke-width="5.2" stroke-linecap="butt" stroke-linejoin="round"/><path d="M283 104.4L289 99.6M293 104.4L299 99.6M303 104.4L309 99.6M313 104.4L319 99.6M323 104.4L329 99.6" fill="none" stroke="#e8791c" stroke-width="6.8" stroke-linecap="round"/><path d="M283.2 105.5L287.4 98.5M293.2 105.5L297.4 98.5M303.2 105.5L307.4 98.5M313.2 105.5L317.4 98.5M323.2 105.5L327.4 98.5" fill="none" stroke="#f3a661" stroke-width="1.8" stroke-linecap="round" opacity="0.6"/><circle cx="337.6" cy="102.1" r="4.1" fill="none" stroke="#a34c10" stroke-width="1.8"/><circle cx="336" cy="102.6" r="4.6" fill="none" stroke="#e8791c" stroke-width="2.2"/><path d="M317 55C317.2 56.2 316.8 60 318 62C319.2 64 322.1 65.3 324 67C325.9 68.7 328.7 70.2 329.5 72C330.3 73.8 329.1 77 329 78" fill="none" stroke="#e8791c" stroke-width="4.6" stroke-linecap="round" stroke-linejoin="round"/><path d="M326 56.5C325.2 57.5 322.7 60.4 321.5 62.5C320.3 64.6 319.4 67.9 319 69" fill="none" stroke="#b85c14" stroke-width="3.4" stroke-linecap="round" stroke-linejoin="round"/><path d="M321.5 49.5C322.2 48.8 324.2 46 326 45.5C327.8 45 331.4 46.3 332.5 46.5" fill="none" stroke="#e8791c" stroke-width="4.6" stroke-linecap="round" stroke-linejoin="round"/><path d="M332.5 46.5C333 47.2 335.3 49.6 335.5 51C335.7 52.4 333.8 54.3 333.5 55" fill="none" stroke="#d06a16" stroke-width="3.6" stroke-linecap="round" stroke-linejoin="round"/><path d="M322 50C322.8 50.4 325.5 52.2 327 52.5C328.5 52.8 330.3 51.7 331 51.5" fill="none" stroke="#a34c10" stroke-width="2.2" stroke-linecap="round" stroke-linejoin="round"/></g>
<path d="M686 233.5C684.8 233.2 681.2 231.2 679 231.5C676.8 231.8 673.7 233.9 672.5 235.5C671.3 237.1 671.2 239.3 672 241C672.8 242.7 675 244.4 677 245.5C679 246.6 682 247.7 684 247.5C686 247.3 688.2 245 689 244.5" fill="none" stroke="#e07a22" stroke-width="0.9" stroke-linecap="round" stroke-linejoin="round"/><path d="M681 253.5C682.2 253 686.2 251.7 688 250.5C689.8 249.3 691.3 247.2 692 246.5" fill="none" stroke="#e07a22" stroke-width="1" stroke-linecap="round" stroke-linejoin="round"/>
<g transform="translate(634.6 154.9) scale(0.507)"><path d="M228.4 170.9C229.8 169.1 234.4 163 236.9 159.9C239.4 156.8 241 153.3 243.4 152.1C245.8 150.9 249.2 153.7 251.1 152.8C253 151.9 253.1 147.8 255 146.9C256.9 146 260.9 148 262.8 147.6C264.8 147.2 265.2 144.3 266.7 144.3C268.2 144.3 269.9 147.2 271.9 147.6C273.8 148 276.9 146.6 278.4 146.9C279.9 147.2 280.6 149.1 281 149.5" fill="none" stroke="#8ccf90" stroke-width="1.2" stroke-linecap="round" stroke-linejoin="round"/><path d="M281 149.5C280.1 148.2 275.6 143.6 275.8 141.7C276 139.8 281.4 139.4 282.3 137.8C283.2 136.2 280.1 133.5 281 132C281.9 130.5 286.6 130 287.5 128.8C288.4 127.6 285.3 126 286.2 124.9C287.1 123.8 291.8 123.6 292.7 122.3C293.6 121 291.2 118 291.4 117.1C291.6 116.2 293.5 115.8 294 117.1C294.5 118.4 295.5 122.7 294.6 124.9C293.7 127.1 289.3 128.4 288.8 130.1C288.3 131.8 291.8 133.7 291.4 135.2C291 136.7 287.3 137.4 286.2 139.1C285.1 140.8 284.2 144.1 284.9 145.6C285.5 147.1 288.4 147.1 290.1 148.2C291.8 149.3 293.8 151.7 295.3 152.1C296.8 152.5 298.5 151 299.1 150.8" fill="none" stroke="#8ccf90" stroke-width="1.2" stroke-linecap="round" stroke-linejoin="round"/><path d="M281 149.5C280.1 150.2 275.8 152.1 275.8 153.4C275.8 154.7 279.9 156 281 157.3C282.1 158.6 281.2 160.3 282.3 161.2C283.4 162.1 286.4 161.4 287.5 162.5C288.6 163.6 287.9 166.7 288.8 167.7C289.7 168.7 291.8 169 292.7 168.3C293.6 167.7 293.8 164.6 294 163.8" fill="none" stroke="#8ccf90" stroke-width="1.2" stroke-linecap="round" stroke-linejoin="round"/><path d="M328.3 135.2C329.5 134.9 333.6 132.7 335.5 133.3C337.4 134 339.2 137.4 339.4 139.1C339.6 140.8 338.1 143 336.8 143.7C335.5 144.3 332.5 143.1 331.6 143" fill="none" stroke="#8ccf90" stroke-width="1.2" stroke-linecap="round" stroke-linejoin="round"/><path d="M299.8 148.7L305.6 146.4L311.5 144.1L317.3 141.8L323.2 139.5L329 137.2" fill="none" stroke="#3c8a44" stroke-width="3.2" stroke-linecap="butt" stroke-linejoin="round"/><path d="M301 148.3L303 143.2M306.8 146L308.9 140.9M312.7 143.7L314.7 138.6M318.5 141.4L320.6 136.3M324.4 139.1L326.4 134" fill="none" stroke="#67bd6c" stroke-width="4" stroke-linecap="round"/><path d="M301.3 148.6L302 143.2M307.1 146.3L307.8 140.9M313 144L313.7 138.6M318.8 141.7L319.5 136.3M324.7 139.4L325.3 134" fill="none" stroke="#a6dfa8" stroke-width="1.1" stroke-linecap="round" opacity="0.6"/><path d="M296.1 161.6L302.2 158.8L308.2 156L314.3 153.2L320.3 150.4L326.4 147.6L332.4 144.7" fill="none" stroke="#3c8a44" stroke-width="3.2" stroke-linecap="butt" stroke-linejoin="round"/><path d="M297.3 161L299.3 155.9M303.4 158.2L305.4 153.1M309.4 155.4L311.4 150.3M315.5 152.6L317.5 147.5M321.5 149.8L323.5 144.7M327.6 147L329.6 141.9" fill="none" stroke="#67bd6c" stroke-width="4.3" stroke-linecap="round"/><path d="M297.7 161.4L298.2 155.9M303.7 158.6L304.2 153.1M309.8 155.8L310.3 150.3M315.8 153L316.3 147.4M321.9 150.2L322.4 144.6M327.9 147.4L328.4 141.8" fill="none" stroke="#a6dfa8" stroke-width="1.2" stroke-linecap="round" opacity="0.6"/><path d="M293.8 163.1L299.8 164L305.9 164.8L312.1 165.6L318.4 166.1L324.7 166.1L331 165.4L337.2 164.4L343.2 163.2L349.3 161.9L355.3 160.7" fill="none" stroke="#3c8a44" stroke-width="3.2" stroke-linecap="butt" stroke-linejoin="round"/><path d="M295 163.4L299.1 159.8M301 164.2L305.3 160.7M307.1 165.1L311.4 161.5M313.3 165.8L317.4 162.1M319.6 166.1L323.5 162.2M325.9 166L329.4 161.7M332.2 165.3L335.3 160.7M338.4 164.3L341.3 159.6M344.5 163.1L347.3 158.3M350.5 161.8L353.3 157" fill="none" stroke="#67bd6c" stroke-width="3.9" stroke-linecap="round"/><path d="M295.1 163.8L298.2 159.3M301.1 164.6L304.4 160.2M307.3 165.5L310.5 161M313.5 166.1L316.5 161.6M319.7 166.5L322.5 161.8M326.1 166.3L328.4 161.4M332.4 165.7L334.3 160.5M338.6 164.6L340.3 159.4M344.7 163.4L346.3 158.2M350.8 162.1L352.2 156.9" fill="none" stroke="#a6dfa8" stroke-width="1.1" stroke-linecap="round" opacity="0.6"/></g>
<path d="M86.6 469.4L139.3 470.5A52.7 52.7 0 0 0 124.9 433.2Z" fill="#e4e9af" stroke="#e4e9af" stroke-width="0.5"/>
<path d="M86.6 469.4L124.9 433.2A52.7 52.7 0 0 0 109.1 421.8Z" fill="#f8f7d0" stroke="#f8f7d0" stroke-width="0.5"/>
<path d="M86.6 469.4L109.1 421.8A52.7 52.7 0 0 0 34.2 474.6Z" fill="#45a9ba" stroke="#45a9ba" stroke-width="0.5"/>
<path d="M86.6 469.4L34.2 474.6A52.7 52.7 0 0 0 93.8 521.6Z" fill="#78beb1" stroke="#78beb1" stroke-width="0.5"/>
<path d="M86.6 469.4L93.8 521.6A52.7 52.7 0 0 0 139.3 470.5Z" fill="#b6dab1" stroke="#b6dab1" stroke-width="0.5"/>
<path d="M221.2 467.8L221.2 415.4A52.4 52.4 0 0 0 171 482.7Z" fill="#45a9ba" stroke="#45a9ba" stroke-width="0.5"/>
<path d="M221.2 467.8L171 482.7A52.4 52.4 0 0 0 218.2 520.1Z" fill="#78beb1" stroke="#78beb1" stroke-width="0.5"/>
<path d="M221.2 467.8L218.2 520.1A52.4 52.4 0 0 0 265.4 495.9Z" fill="#b6dab1" stroke="#b6dab1" stroke-width="0.5"/>
<path d="M221.2 467.8L265.4 495.9A52.4 52.4 0 0 0 273.2 474.4Z" fill="#e4e9af" stroke="#e4e9af" stroke-width="0.5"/>
<path d="M221.2 467.8L273.2 474.4A52.4 52.4 0 0 0 221.2 415.4Z" fill="#f8f7d0" stroke="#f8f7d0" stroke-width="0.5"/>
<text x="66.4" y="455.6" font-size="14.8" text-anchor="middle" font-weight="normal" font-style="normal" fill="#111">33.6%</text>
<text x="112.8" y="445.8" font-size="14.8" text-anchor="middle" font-weight="normal" font-style="normal" fill="#111">5.9%</text>
<text x="119.2" y="469" font-size="14.8" text-anchor="middle" font-weight="normal" font-style="normal" fill="#111">12.4%</text>
<text x="66.1" y="493.3" font-size="14.8" text-anchor="middle" font-weight="normal" font-style="normal" fill="#111">25.6%</text>
<text x="112.2" y="495.3" font-size="14.8" text-anchor="middle" font-weight="normal" font-style="normal" fill="#111">22.5%</text>
<text x="198" y="454.2" font-size="14.8" text-anchor="middle" font-weight="normal" font-style="normal" fill="#111">29.6%</text>
<text x="249.1" y="455.6" font-size="14.8" text-anchor="middle" font-weight="normal" font-style="normal" fill="#111">27%</text>
<text x="260.9" y="482.9" font-size="14.8" text-anchor="middle" font-weight="normal" font-style="normal" fill="#111">7%</text>
<text x="197.5" y="496.1" font-size="14.8" text-anchor="middle" font-weight="normal" font-style="normal" fill="#111">19.5%</text>
<text x="238" y="504.4" font-size="14.8" text-anchor="middle" font-weight="normal" font-style="normal" fill="#111">16.9%</text>
<text x="83.7" y="542.5" font-size="17.5" text-anchor="middle" font-weight="normal" font-style="normal" fill="#1a1a1a">B73</text>
<text x="162.6" y="542.4" font-size="17.3" text-anchor="start" font-weight="normal" font-style="normal" fill="#1a1a1a" textLength="142.4" lengthAdjust="spacingAndGlyphs">NAM founder lines</text>
<rect x="289" y="389.8" width="11" height="12.1" fill="#45a9ba"/>
<text x="303.2" y="398.4" font-size="11.25" text-anchor="start" font-weight="normal" font-style="normal" fill="#1a1a1a">pLDDT</text>
<path d="M345 390.8H343.3A3.3 3.6 0 0 0 343.3 398H345M340 394.4H345" fill="none" stroke="#a2a2a2" stroke-width="0.75"/>
<text x="347.8" y="398.4" font-size="11.25" text-anchor="start" font-weight="normal" font-style="normal" fill="#1a1a1a">[90,100]</text>
<rect x="289" y="401.9" width="11" height="12" fill="#78beb1"/>
<text x="303.2" y="411.4" font-size="11.25" text-anchor="start" font-weight="normal" font-style="normal" fill="#1a1a1a">pLDDT</text>
<path d="M345 403.8H343.3A3.3 3.6 0 0 0 343.3 411H345M340 407.4H345" fill="none" stroke="#a2a2a2" stroke-width="0.75"/>
<text x="347.8" y="411.4" font-size="11.25" text-anchor="start" font-weight="normal" font-style="normal" fill="#1a1a1a">[70,90)</text>
<rect x="289" y="416.8" width="11" height="11.2" fill="#b6dab1"/>
<text x="303.2" y="425.8" font-size="11.25" text-anchor="start" font-weight="normal" font-style="normal" fill="#1a1a1a">pLDDT</text>
<path d="M345 418.2H343.3A3.3 3.6 0 0 0 343.3 425.4H345M340 421.8H345" fill="none" stroke="#a2a2a2" stroke-width="0.75"/>
<text x="347.8" y="425.8" font-size="11.25" text-anchor="start" font-weight="normal" font-style="normal" fill="#1a1a1a">[50,70)</text>
<rect x="289" y="428.7" width="11" height="11.6" fill="#e4e9af"/>
<text x="303.2" y="436.9" font-size="11.25" text-anchor="start" font-weight="normal" font-style="normal" fill="#1a1a1a">pLDDT</text>
<path d="M345 429.3H343.3A3.3 3.6 0 0 0 343.3 436.5H345M340 432.9H345" fill="none" stroke="#a2a2a2" stroke-width="0.75"/>
<text x="347.8" y="436.9" font-size="11.25" text-anchor="start" font-weight="normal" font-style="normal" fill="#1a1a1a">[0,50)</text>
<rect x="289" y="440.5" width="11" height="11.6" fill="#f8f7d0"/>
<text x="303.2" y="448.5" font-size="11.25" text-anchor="start" font-weight="normal" font-style="normal" fill="#1a1a1a">Unresloved protein</text>
<rect x="452.2" y="427.2" width="18.1" height="39.5" fill="#d9e0dc" stroke="#9a9a9a" stroke-width="0.8"/>
<rect x="470.3" y="427.2" width="18.1" height="39.5" fill="#f7f9f7" stroke="#9a9a9a" stroke-width="0.8"/>
<rect x="488.4" y="427.2" width="18.1" height="39.5" fill="#f7f9f7" stroke="#9a9a9a" stroke-width="0.8"/>
<rect x="506.5" y="427.2" width="18.1" height="39.5" fill="#ffffff" stroke="#9a9a9a" stroke-width="0.8"/>
<rect x="524.7" y="427.2" width="18.1" height="39.5" fill="#9ecfda" stroke="#9a9a9a" stroke-width="0.8"/>
<rect x="542.8" y="427.2" width="18.1" height="39.5" fill="#9ecfda" stroke="#9a9a9a" stroke-width="0.8"/>
<rect x="560.9" y="427.2" width="18.1" height="39.5" fill="#e2e7e4" stroke="#9a9a9a" stroke-width="0.8"/>
<rect x="579" y="427.2" width="18.1" height="39.5" fill="#e2e7e4" stroke="#9a9a9a" stroke-width="0.8"/>
<rect x="597.1" y="427.2" width="18.1" height="39.5" fill="#7d9b8d" stroke="#9a9a9a" stroke-width="0.8"/>
<rect x="615.2" y="427.2" width="18.1" height="39.5" fill="#7d9b8d" stroke="#9a9a9a" stroke-width="0.8"/>
<rect x="633.3" y="427.2" width="18.1" height="39.5" fill="#f6fafc" stroke="#9a9a9a" stroke-width="0.8"/>
<rect x="651.5" y="427.2" width="18.1" height="39.5" fill="#f6fafc" stroke="#9a9a9a" stroke-width="0.8"/>
<rect x="669.6" y="427.2" width="18.1" height="39.5" fill="#f6fafc" stroke="#9a9a9a" stroke-width="0.8"/>
<rect x="687.7" y="427.2" width="18.1" height="39.5" fill="#f6fafc" stroke="#9a9a9a" stroke-width="0.8"/>
<rect x="705.8" y="427.2" width="18.1" height="39.5" fill="#f6fafc" stroke="#9a9a9a" stroke-width="0.8"/>
<rect x="723.9" y="427.2" width="18.1" height="39.5" fill="#f6fafc" stroke="#9a9a9a" stroke-width="0.8"/>
<rect x="742" y="427.2" width="18.1" height="39.5" fill="#f6fafc" stroke="#9a9a9a" stroke-width="0.8"/>
<rect x="760.2" y="427.2" width="18.1" height="39.5" fill="#f6fafc" stroke="#9a9a9a" stroke-width="0.8"/>
<rect x="778.3" y="427.2" width="18.1" height="39.5" fill="#f6fafc" stroke="#9a9a9a" stroke-width="0.8"/>
<rect x="796.4" y="427.2" width="18.1" height="39.5" fill="#f6fafc" stroke="#9a9a9a" stroke-width="0.8"/>
<rect x="814.5" y="427.2" width="18.1" height="39.5" fill="#f6fafc" stroke="#9a9a9a" stroke-width="0.8"/>
<rect x="832.6" y="427.2" width="18.1" height="39.5" fill="#f6fafc" stroke="#9a9a9a" stroke-width="0.8"/>
<rect x="850.7" y="427.2" width="18.1" height="39.5" fill="#f6fafc" stroke="#9a9a9a" stroke-width="0.8"/>
<rect x="868.8" y="427.2" width="18.1" height="39.5" fill="#f6fafc" stroke="#9a9a9a" stroke-width="0.8"/>
<rect x="887" y="427.2" width="18.1" height="39.5" fill="#f6fafc" stroke="#9a9a9a" stroke-width="0.8"/>
<rect x="905.1" y="427.2" width="18.1" height="39.5" fill="#f6fafc" stroke="#9a9a9a" stroke-width="0.8"/>
<text transform="translate(464.8 446.9) rotate(-90)" font-size="9.8" text-anchor="middle" fill="#111">0.031</text>
<text transform="translate(466.9 472.9) rotate(-61)" font-size="12.3" text-anchor="end" fill="#1a1a1a">Oh43</text>
<text transform="translate(482.9 446.9) rotate(-90)" font-size="9.8" text-anchor="middle" fill="#111">0.003</text>
<text transform="translate(485 472.9) rotate(-61)" font-size="12.3" text-anchor="end" fill="#1a1a1a">Mo18W</text>
<text transform="translate(501 446.9) rotate(-90)" font-size="9.8" text-anchor="middle" fill="#111">0.003</text>
<text transform="translate(503.1 472.9) rotate(-61)" font-size="12.3" text-anchor="end" fill="#1a1a1a">Ki11</text>
<text transform="translate(519.1 446.9) rotate(-90)" font-size="9.8" text-anchor="middle" fill="#111">−0.002</text>
<text transform="translate(521.2 472.9) rotate(-61)" font-size="12.3" text-anchor="end" fill="#1a1a1a">NC358</text>
<text transform="translate(537.2 446.9) rotate(-90)" font-size="9.8" text-anchor="middle" fill="#111">−0.123</text>
<text transform="translate(539.3 472.9) rotate(-61)" font-size="12.3" text-anchor="end" fill="#1a1a1a">Ms71</text>
<text transform="translate(555.4 446.9) rotate(-90)" font-size="9.8" text-anchor="middle" fill="#111">−0.123</text>
<text transform="translate(557.4 472.9) rotate(-61)" font-size="12.3" text-anchor="end" fill="#1a1a1a">HP301</text>
<text transform="translate(573.5 446.9) rotate(-90)" font-size="9.8" text-anchor="middle" fill="#111">0.021</text>
<text transform="translate(575.5 472.9) rotate(-61)" font-size="12.3" text-anchor="end" fill="#1a1a1a">Oh7B</text>
<text transform="translate(591.6 446.9) rotate(-90)" font-size="9.8" text-anchor="middle" fill="#111">0.021</text>
<text transform="translate(593.7 472.9) rotate(-61)" font-size="12.3" text-anchor="end" fill="#1a1a1a">M37W</text>
<text transform="translate(610.2 446.9) rotate(-90)" font-size="11.2" text-anchor="middle" fill="#111">0.126</text>
<text transform="translate(611.8 472.9) rotate(-61)" font-size="12.3" text-anchor="end" fill="#e8242c">P39</text>
<text transform="translate(628.3 446.9) rotate(-90)" font-size="11.2" text-anchor="middle" fill="#111">0.126</text>
<text transform="translate(629.9 472.9) rotate(-61)" font-size="12.3" text-anchor="end" fill="#e8242c">Il14H</text>
<text transform="translate(645.9 446.9) rotate(-90)" font-size="9.8" text-anchor="middle" fill="#111">−0.005</text>
<text transform="translate(648 472.9) rotate(-61)" font-size="12.3" text-anchor="end" fill="#1a1a1a">Tx303</text>
<text transform="translate(664.1 446.9) rotate(-90)" font-size="9.8" text-anchor="middle" fill="#111">−0.005</text>
<text transform="translate(666.1 472.9) rotate(-61)" font-size="12.3" text-anchor="end" fill="#1a1a1a">CML52</text>
<text transform="translate(682.2 446.9) rotate(-90)" font-size="9.8" text-anchor="middle" fill="#111">−0.005</text>
<text transform="translate(684.2 472.9) rotate(-61)" font-size="12.3" text-anchor="end" fill="#1a1a1a">Tzi8</text>
<text transform="translate(700.3 446.9) rotate(-90)" font-size="9.8" text-anchor="middle" fill="#111">−0.005</text>
<text transform="translate(702.4 472.9) rotate(-61)" font-size="12.3" text-anchor="end" fill="#1a1a1a">CML277</text>
<text transform="translate(718.4 446.9) rotate(-90)" font-size="9.8" text-anchor="middle" fill="#111">−0.005</text>
<text transform="translate(720.5 472.9) rotate(-61)" font-size="12.3" text-anchor="end" fill="#1a1a1a">NC350</text>
<text transform="translate(736.5 446.9) rotate(-90)" font-size="9.8" text-anchor="middle" fill="#111">−0.005</text>
<text transform="translate(738.6 472.9) rotate(-61)" font-size="12.3" text-anchor="end" fill="#1a1a1a">CML69</text>
<text transform="translate(754.6 446.9) rotate(-90)" font-size="9.8" text-anchor="middle" fill="#111">−0.005</text>
<text transform="translate(756.7 472.9) rotate(-61)" font-size="12.3" text-anchor="end" fill="#1a1a1a">M162W</text>
<text transform="translate(772.7 446.9) rotate(-90)" font-size="9.8" text-anchor="middle" fill="#111">−0.005</text>
<text transform="translate(774.8 472.9) rotate(-61)" font-size="12.3" text-anchor="end" fill="#1a1a1a">CML333</text>
<text transform="translate(790.9 446.9) rotate(-90)" font-size="9.8" text-anchor="middle" fill="#111">−0.005</text>
<text transform="translate(792.9 472.9) rotate(-61)" font-size="12.3" text-anchor="end" fill="#1a1a1a">CML322</text>
<text transform="translate(809 446.9) rotate(-90)" font-size="9.8" text-anchor="middle" fill="#111">−0.005</text>
<text transform="translate(811 472.9) rotate(-61)" font-size="12.3" text-anchor="end" fill="#1a1a1a">Ki3</text>
<text transform="translate(827.1 446.9) rotate(-90)" font-size="9.8" text-anchor="middle" fill="#111">−0.005</text>
<text transform="translate(829.2 472.9) rotate(-61)" font-size="12.3" text-anchor="end" fill="#1a1a1a">CML228</text>
<text transform="translate(845.2 446.9) rotate(-90)" font-size="9.8" text-anchor="middle" fill="#111">−0.005</text>
<text transform="translate(851.3 472.9) rotate(-61)" font-size="12.3" text-anchor="end" fill="#1a1a1a">CML103</text>
<text transform="translate(863.3 446.9) rotate(-90)" font-size="9.8" text-anchor="middle" fill="#111">−0.005</text>
<text transform="translate(865.4 472.9) rotate(-61)" font-size="12.3" text-anchor="end" fill="#1a1a1a">B73</text>
<text transform="translate(881.4 446.9) rotate(-90)" font-size="9.8" text-anchor="middle" fill="#111">−0.005</text>
<text transform="translate(883.5 472.9) rotate(-61)" font-size="12.3" text-anchor="end" fill="#1a1a1a">Ky21</text>
<text transform="translate(899.5 446.9) rotate(-90)" font-size="9.8" text-anchor="middle" fill="#111">−0.005</text>
<text transform="translate(901.6 472.9) rotate(-61)" font-size="12.3" text-anchor="end" fill="#1a1a1a">CML247</text>
<text transform="translate(917.7 446.9) rotate(-90)" font-size="9.8" text-anchor="middle" fill="#111">−0.005</text>
<text transform="translate(919.7 472.9) rotate(-61)" font-size="12.3" text-anchor="end" fill="#1a1a1a">B97</text>
<text x="413.2" y="452" font-size="16.6" text-anchor="start" font-weight="normal" font-style="normal" fill="#1a1a1a">PC4</text>
<defs><linearGradient id="cb" x1="0" y1="0" x2="0" y2="1"><stop offset="0" stop-color="#1d5b3a"/><stop offset="0.3" stop-color="#5f8f76"/><stop offset="0.62" stop-color="#ffffff"/><stop offset="0.72" stop-color="#eef7f9"/><stop offset="1" stop-color="#a6d4de"/></linearGradient></defs>
<rect x="884.3" y="375.2" width="7.8" height="40.1" fill="url(#cb)"/>
<text x="896.2" y="383" font-size="12" text-anchor="start" font-weight="normal" font-style="normal" fill="#1a1a1a">0.2</text>
<text x="896.2" y="393.6" font-size="12" text-anchor="start" font-weight="normal" font-style="normal" fill="#1a1a1a">0.1</text>
<text x="896.2" y="404.6" font-size="12" text-anchor="start" font-weight="normal" font-style="normal" fill="#1a1a1a">0.0</text>
<text x="896.2" y="414.7" font-size="12" text-anchor="start" font-weight="normal" font-style="normal" fill="#1a1a1a">−0.1</text>
<text x="394.6" y="539" font-size="21.8" fill="#1a1a1a" textLength="543.4" lengthAdjust="spacingAndGlyphs"><tspan fill="#e8242c" font-style="italic">Su1</tspan> is distinguished by structure-based similarity matrix</text>
<rect x="1003.5" y="28.9" width="233.3" height="230.3" fill="#ffffff"/>
<line x1="1040.1" y1="28.9" x2="1040.1" y2="259.2" stroke="#e9e9e9" stroke-width="1.1"/>
<line x1="1093.4" y1="28.9" x2="1093.4" y2="259.2" stroke="#e9e9e9" stroke-width="1.1"/>
<line x1="1146.6" y1="28.9" x2="1146.6" y2="259.2" stroke="#e9e9e9" stroke-width="1.1"/>
<line x1="1199.9" y1="28.9" x2="1199.9" y2="259.2" stroke="#e9e9e9" stroke-width="1.1"/>
<line x1="1003.5" y1="249.8" x2="1236.8" y2="249.8" stroke="#e9e9e9" stroke-width="1.1"/>
<line x1="1003.5" y1="189.2" x2="1236.8" y2="189.2" stroke="#e9e9e9" stroke-width="1.1"/>
<line x1="1003.5" y1="128.4" x2="1236.8" y2="128.4" stroke="#e9e9e9" stroke-width="1.1"/>
<line x1="1003.5" y1="67.8" x2="1236.8" y2="67.8" stroke="#e9e9e9" stroke-width="1.1"/>
<line x1="1013.5" y1="28.9" x2="1013.5" y2="259.2" stroke="#e2e2e2" stroke-width="1.6"/>
<line x1="1066.8" y1="28.9" x2="1066.8" y2="259.2" stroke="#e2e2e2" stroke-width="1.6"/>
<line x1="1120" y1="28.9" x2="1120" y2="259.2" stroke="#e2e2e2" stroke-width="1.6"/>
<line x1="1173.2" y1="28.9" x2="1173.2" y2="259.2" stroke="#e2e2e2" stroke-width="1.6"/>
<line x1="1226.5" y1="28.9" x2="1226.5" y2="259.2" stroke="#e2e2e2" stroke-width="1.6"/>
<line x1="1003.5" y1="219.5" x2="1236.8" y2="219.5" stroke="#e2e2e2" stroke-width="1.6"/>
<line x1="1003.5" y1="158.8" x2="1236.8" y2="158.8" stroke="#e2e2e2" stroke-width="1.6"/>
<line x1="1003.5" y1="98.1" x2="1236.8" y2="98.1" stroke="#e2e2e2" stroke-width="1.6"/>
<line x1="1003.5" y1="37.4" x2="1236.8" y2="37.4" stroke="#e2e2e2" stroke-width="1.6"/>
<g>
<path d="M1013.6 159.4C1015 160.8 1018.8 165.9 1022 167.6C1025.2 169.3 1029 168.6 1033 169.5C1037 170.4 1041.5 172 1046 173.3C1050.5 174.6 1056.3 176.3 1060 177.5C1063.7 178.7 1065.4 180.4 1068.2 180.2C1071 179.9 1073.7 180.1 1077 176C1080.3 171.9 1085.3 162.5 1088 155.6C1090.7 148.7 1091.3 141.7 1093 134.5C1094.7 127.3 1096.2 120.7 1098 112.5C1099.8 104.3 1101.5 94.8 1104 85.1C1106.5 75.4 1110.4 61.3 1112.8 54.3C1115.2 47.3 1116.5 45.6 1118.3 43.2C1120.1 40.8 1121.8 39.8 1123.4 39.8C1125.1 39.8 1126.3 39.2 1128.2 43.1C1130.1 47 1132.2 52.1 1134.8 63.1C1137.4 74.1 1141.5 97.4 1143.6 109.3C1145.7 121.2 1145.8 125.3 1147.5 134.5C1149.2 143.7 1151.5 157.7 1154 164.4C1156.5 171.1 1159.5 172.8 1162.8 174.5C1166.1 176.2 1170.5 173.9 1173.8 174.5C1177.1 175.1 1178.6 175.6 1182.6 178.3C1186.6 181 1193.3 187.7 1198 190.9C1202.7 194.1 1207.5 196.6 1211 197.3C1214.5 198 1216.4 197.2 1219 195.3C1221.6 193.4 1225.2 187.4 1226.5 185.8L1226.5 240.8C1225.2 238.9 1221.6 232.1 1219 229.3C1216.4 226.6 1214.5 226 1211 224.3C1207.5 222.6 1202.7 221.7 1198 218.9C1193.3 216.1 1186.6 209.7 1182.6 207.3C1178.6 204.9 1177.1 205.3 1173.8 204.5C1170.5 203.7 1166.1 204.8 1162.8 202.5C1159.5 200.2 1156.5 197.6 1154 190.4C1151.5 183.2 1149.2 168.8 1147.5 159.5C1145.8 150.2 1145.7 146.2 1143.6 134.3C1141.5 122.4 1137.4 99.1 1134.8 88.1C1132.2 77.1 1130.1 72.3 1128.2 68.5C1126.3 64.7 1125.1 65.2 1123.4 65.2C1121.8 65.2 1120.1 66 1118.3 68.4C1116.5 70.7 1115.2 72.3 1112.8 79.3C1110.4 86.2 1106.5 100.4 1104 110.1C1101.5 119.8 1099.8 129.3 1098 137.5C1096.2 145.7 1094.7 152.2 1093 159.5C1091.3 166.8 1090.7 174.3 1088 181.6C1085.3 188.8 1080.3 198.9 1077 203C1073.7 207.1 1071 206.1 1068.2 206.2C1065.4 206.3 1063.7 204.8 1060 203.5C1056.3 202.2 1050.5 199.1 1046 198.3C1041.5 197.5 1037 197.9 1033 198.5C1029 199.1 1025.2 199.3 1022 201.6C1018.8 203.9 1015 210.4 1013.6 212.2Z" fill="rgba(120,120,125,0.36)"/>
<path d="M1013.6 180.1C1015 180.4 1018.8 182 1022 182C1025.2 182 1029 179.8 1033 180.2C1037 180.6 1041.5 182.1 1046 184.5C1050.5 186.9 1056.3 192.2 1060 194.5C1063.7 196.8 1065 198.9 1068.2 198.6C1071.4 198.3 1075.9 196.7 1079.2 192.5C1082.5 188.3 1085.1 181.1 1088 173.2C1090.9 165.3 1094.7 151.5 1096.8 145.1C1098.9 138.7 1098.8 140.9 1100.7 134.7C1102.6 128.4 1105.8 115.7 1108.4 107.6C1111 99.5 1113.5 91 1116.1 86.1C1118.7 81.2 1121.4 78 1123.8 78C1126.2 78 1128.2 80.4 1130.4 86.1C1132.6 91.8 1135.1 103.9 1137 112C1138.9 120.1 1140.3 126.7 1141.8 134.5C1143.3 142.3 1144.3 151.2 1146 159C1147.7 166.8 1149.4 176.3 1151.8 181.5C1154.2 186.7 1156.9 189 1160.6 190.3C1164.3 191.6 1169.8 188.2 1173.8 189.1C1177.8 189.9 1180.8 192.6 1184.8 195.4C1188.8 198.2 1193.6 203 1198 205.9C1202.4 208.8 1207.5 212.3 1211 212.7C1214.5 213.1 1216.4 210.8 1219 208.4C1221.6 206 1225.2 200 1226.5 198.3L1226.5 248.9C1225.2 247.8 1221.6 243.9 1219 242.4C1216.4 240.9 1214.5 240.6 1211 239.7C1207.5 238.8 1202.4 239.3 1198 236.9C1193.6 234.5 1188.8 228.7 1184.8 225.4C1180.8 222.1 1177.8 218.4 1173.8 217.1C1169.8 215.8 1164.3 218.7 1160.6 217.3C1156.9 215.9 1154.2 213.9 1151.8 208.5C1149.4 203.1 1147.7 193.2 1146 185C1144.3 176.8 1143.3 167.7 1141.8 159.5C1140.3 151.3 1138.9 144.4 1137 136C1135.1 127.6 1132.6 115 1130.4 109.1C1128.2 103.2 1126.2 100.4 1123.8 100.4C1121.4 100.4 1118.7 103.9 1116.1 109.1C1113.5 114.3 1111 123.2 1108.4 131.6C1105.8 140 1102.6 152.9 1100.7 159.3C1098.8 165.7 1098.9 163.4 1096.8 170.1C1094.7 176.8 1090.9 191 1088 199.2C1085.1 207.4 1082.5 215.1 1079.2 219.5C1075.9 223.9 1071.4 225.5 1068.2 225.8C1065 226.1 1063.7 224.1 1060 221.5C1056.3 218.9 1050.5 212.7 1046 210.5C1041.5 208.3 1037 207.1 1033 208.2C1029 209.3 1025.2 213.2 1022 217C1018.8 220.8 1015 228.8 1013.6 231.1Z" fill="rgba(90,90,95,0.5)"/>
<path d="M1013.6 185.8C1015 185.6 1018.8 184.9 1022 184.6C1025.2 184.3 1029 183.8 1033 184C1037 184.2 1041.5 184.7 1046 185.8C1050.5 186.9 1056.3 189.3 1060 190.5C1063.7 191.7 1065.4 193.4 1068.2 193.2C1071 193 1073.7 193.6 1077 189.5C1080.3 185.4 1085.3 175.7 1088 168.6C1090.7 161.5 1091.3 154.3 1093 147C1094.7 139.7 1096.2 133.2 1098 125C1099.8 116.8 1101.5 107.3 1104 97.6C1106.5 87.9 1110.4 73.8 1112.8 66.8C1115.2 59.8 1116.5 58.2 1118.3 55.8C1120.1 53.4 1121.8 52.5 1123.4 52.5C1125.1 52.5 1126.3 51.9 1128.2 55.8C1130.1 59.6 1132.2 64.6 1134.8 75.6C1137.4 86.6 1141.5 109.9 1143.6 121.8C1145.7 133.7 1145.8 137.7 1147.5 147C1149.2 156.3 1151.5 170.5 1154 177.4C1156.5 184.3 1159.5 186.5 1162.8 188.5C1166.1 190.5 1170.5 188.8 1173.8 189.5C1177.1 190.2 1178.6 190.2 1182.6 192.8C1186.6 195.4 1193.3 201.9 1198 204.9C1202.7 207.9 1207.5 209.6 1211 210.8C1214.5 212 1216.4 211.9 1219 212.3C1221.6 212.7 1225.2 213.1 1226.5 213.3" fill="none" stroke="#3c50a2" stroke-width="1.5"/>
<path d="M1013.6 205.6C1015 204.6 1018.8 201.4 1022 199.5C1025.2 197.6 1029 194.5 1033 194.2C1037 193.9 1041.5 195.2 1046 197.5C1050.5 199.8 1056.3 205.6 1060 208C1063.7 210.4 1065 212.5 1068.2 212.2C1071.4 211.9 1075.9 210.3 1079.2 206C1082.5 201.7 1085.1 194.3 1088 186.2C1090.9 178.1 1094.7 164.1 1096.8 157.6C1098.9 151.1 1098.8 153.3 1100.7 147C1102.6 140.7 1105.8 127.8 1108.4 119.6C1111 111.4 1113.5 102.7 1116.1 97.6C1118.7 92.5 1121.4 89.2 1123.8 89.2C1126.2 89.2 1128.2 91.8 1130.4 97.6C1132.6 103.4 1135.1 115.8 1137 124C1138.9 132.2 1140.3 139 1141.8 147C1143.3 155 1144.3 164 1146 172C1147.7 180 1149.4 189.7 1151.8 195C1154.2 200.3 1156.9 202.5 1160.6 203.8C1164.3 205.2 1169.8 202 1173.8 203.1C1177.8 204.2 1180.8 207.3 1184.8 210.4C1188.8 213.5 1193.6 218.8 1198 221.4C1202.4 224 1207.5 225.5 1211 226.2C1214.5 226.9 1216.4 225.8 1219 225.4C1221.6 225 1225.2 223.9 1226.5 223.6" fill="none" stroke="#6aaed6" stroke-width="1.5"/>
</g>
<rect x="1003.5" y="28.9" width="233.3" height="230.3" fill="none" stroke="#262626" stroke-width="1.4"/>
<line x1="999.6" y1="219.5" x2="1003.5" y2="219.5" stroke="#333" stroke-width="0.9"/>
<text x="997.8" y="224.4" font-size="16" text-anchor="end" font-weight="normal" font-style="normal" fill="#4d4d4d" textLength="21.4" lengthAdjust="spacingAndGlyphs">1.0</text>
<line x1="999.6" y1="158.8" x2="1003.5" y2="158.8" stroke="#333" stroke-width="0.9"/>
<text x="997.8" y="163.7" font-size="16" text-anchor="end" font-weight="normal" font-style="normal" fill="#4d4d4d" textLength="21.4" lengthAdjust="spacingAndGlyphs">1.5</text>
<line x1="999.6" y1="98.1" x2="1003.5" y2="98.1" stroke="#333" stroke-width="0.9"/>
<text x="997.8" y="103" font-size="16" text-anchor="end" font-weight="normal" font-style="normal" fill="#4d4d4d" textLength="21.4" lengthAdjust="spacingAndGlyphs">2.0</text>
<line x1="999.6" y1="37.4" x2="1003.5" y2="37.4" stroke="#333" stroke-width="0.9"/>
<text x="997.8" y="42.3" font-size="16" text-anchor="end" font-weight="normal" font-style="normal" fill="#4d4d4d" textLength="21.4" lengthAdjust="spacingAndGlyphs">2.5</text>
<line x1="1013.5" y1="259.2" x2="1013.5" y2="261.8" stroke="#333" stroke-width="0.9"/>
<text x="1012" y="277.4" font-size="16" text-anchor="middle" font-weight="normal" font-style="normal" fill="#4d4d4d" textLength="30.5" lengthAdjust="spacingAndGlyphs">−5.0</text>
<line x1="1066.8" y1="259.2" x2="1066.8" y2="261.8" stroke="#333" stroke-width="0.9"/>
<text x="1065.2" y="277.4" font-size="16" text-anchor="middle" font-weight="normal" font-style="normal" fill="#4d4d4d" textLength="30.5" lengthAdjust="spacingAndGlyphs">−2.5</text>
<line x1="1120" y1="259.2" x2="1120" y2="261.8" stroke="#333" stroke-width="0.9"/>
<text x="1120" y="277.4" font-size="16" text-anchor="middle" font-weight="normal" font-style="normal" fill="#4d4d4d" textLength="21.4" lengthAdjust="spacingAndGlyphs">0.0</text>
<line x1="1173.2" y1="259.2" x2="1173.2" y2="261.8" stroke="#333" stroke-width="0.9"/>
<text x="1173.2" y="277.4" font-size="16" text-anchor="middle" font-weight="normal" font-style="normal" fill="#4d4d4d" textLength="21.4" lengthAdjust="spacingAndGlyphs">2.5</text>
<line x1="1226.5" y1="259.2" x2="1226.5" y2="261.8" stroke="#333" stroke-width="0.9"/>
<text x="1226.5" y="277.4" font-size="16" text-anchor="middle" font-weight="normal" font-style="normal" fill="#4d4d4d" textLength="21.4" lengthAdjust="spacingAndGlyphs">5.0</text>
<text x="1015" y="294.7" font-size="19.5" text-anchor="start" font-weight="normal" font-style="normal" fill="#1a1a1a" textLength="218" lengthAdjust="spacingAndGlyphs">Distance from peak (Mb)</text>
<text transform="translate(967.6 172.5) rotate(-90)" font-size="19.5" fill="#1a1a1a">−log<tspan font-size="14" dy="4">10</tspan><tspan dy="-4">(p)</tspan></text>
<rect x="1029.2" y="9.5" width="8.3" height="9" fill="#c9c9cd"/><line x1="1030" y1="13.6" x2="1036.7" y2="13.6" stroke="#3c50a2" stroke-width="1.5"/>
<rect x="1112.4" y="9.5" width="8.3" height="9" fill="#cfcfcf"/><line x1="1113.2" y1="13.6" x2="1119.9" y2="13.6" stroke="#6aaed6" stroke-width="1.5"/>
<text x="1041.4" y="19.2" font-size="16.4" text-anchor="start" font-weight="normal" font-style="normal" fill="#1a1a1a" textLength="67.6" lengthAdjust="spacingAndGlyphs">Structure</text>
<text x="1125" y="19.2" font-size="16.4" text-anchor="start" font-weight="normal" font-style="normal" fill="#1a1a1a" textLength="75.8" lengthAdjust="spacingAndGlyphs">Sequence</text>
<rect x="1000.6" y="306.1" width="234" height="207.5" fill="#ffffff"/>
<line x1="1045.5" y1="306.1" x2="1045.5" y2="513.6" stroke="#ececec" stroke-width="1"/>
<line x1="1000.6" y1="475.7" x2="1234.6" y2="475.7" stroke="#ececec" stroke-width="1"/>
<line x1="1090" y1="306.1" x2="1090" y2="513.6" stroke="#ececec" stroke-width="1"/>
<line x1="1000.6" y1="436.4" x2="1234.6" y2="436.4" stroke="#ececec" stroke-width="1"/>
<line x1="1134.6" y1="306.1" x2="1134.6" y2="513.6" stroke="#ececec" stroke-width="1"/>
<line x1="1000.6" y1="397.1" x2="1234.6" y2="397.1" stroke="#ececec" stroke-width="1"/>
<line x1="1179.1" y1="306.1" x2="1179.1" y2="513.6" stroke="#ececec" stroke-width="1"/>
<line x1="1000.6" y1="357.8" x2="1234.6" y2="357.8" stroke="#ececec" stroke-width="1"/>
<line x1="1223.7" y1="306.1" x2="1223.7" y2="513.6" stroke="#ececec" stroke-width="1"/>
<line x1="1000.6" y1="318.4" x2="1234.6" y2="318.4" stroke="#ececec" stroke-width="1"/>
<line x1="1023.2" y1="306.1" x2="1023.2" y2="513.6" stroke="#e0e0e0" stroke-width="1.4"/>
<line x1="1000.6" y1="495.3" x2="1234.6" y2="495.3" stroke="#e0e0e0" stroke-width="1.4"/>
<line x1="1067.8" y1="306.1" x2="1067.8" y2="513.6" stroke="#e0e0e0" stroke-width="1.4"/>
<line x1="1000.6" y1="456" x2="1234.6" y2="456" stroke="#e0e0e0" stroke-width="1.4"/>
<line x1="1112.3" y1="306.1" x2="1112.3" y2="513.6" stroke="#e0e0e0" stroke-width="1.4"/>
<line x1="1000.6" y1="416.7" x2="1234.6" y2="416.7" stroke="#e0e0e0" stroke-width="1.4"/>
<line x1="1156.9" y1="306.1" x2="1156.9" y2="513.6" stroke="#e0e0e0" stroke-width="1.4"/>
<line x1="1000.6" y1="377.4" x2="1234.6" y2="377.4" stroke="#e0e0e0" stroke-width="1.4"/>
<line x1="1201.4" y1="306.1" x2="1201.4" y2="513.6" stroke="#e0e0e0" stroke-width="1.4"/>
<line x1="1000.6" y1="338.1" x2="1234.6" y2="338.1" stroke="#e0e0e0" stroke-width="1.4"/>
<line x1="1003.5" y1="513" x2="1234.6" y2="309" stroke="#111" stroke-width="1.3"/>
<path d="M1011 495.5H1029.6M1020.3 486.6V504.4M1011 494.3V496.7M1029.6 494.3V496.7M1019.1 486.6H1021.5M1019.1 504.4H1021.5M1036.7 473.4H1055.7M1046.2 465.7V481.1M1036.7 472.2V474.6M1055.7 472.2V474.6M1045 465.7H1047.4M1045 481.1H1047.4M1047.7 459.6H1063.1M1055.4 452.8V466.4M1047.7 458.4V460.8M1063.1 458.4V460.8M1054.2 452.8H1056.6M1054.2 466.4H1056.6M1060.3 448.2H1076.5M1068.4 442.8V453.6M1060.3 447V449.4M1076.5 447V449.4M1067.2 442.8H1069.6M1067.2 453.6H1069.6M1060.2 453.6H1079.2M1069.7 447.5V459.7M1060.2 452.4V454.8M1079.2 452.4V454.8M1068.5 447.5H1070.9M1068.5 459.7H1070.9M1066 455H1080M1073 450V460M1066 453.8V456.2M1080 453.8V456.2M1071.8 450H1074.2M1071.8 460H1074.2M1068.5 449.6H1084.5M1076.5 444.1V455.1M1068.5 448.4V450.8M1084.5 448.4V450.8M1075.3 444.1H1077.7M1075.3 455.1H1077.7M1068.9 445.5H1087.9M1078.4 438.1V452.9M1068.9 444.3V446.7M1087.9 444.3V446.7M1077.2 438.1H1079.6M1077.2 452.9H1079.6M1072.2 436.1H1088.4M1080.3 428V444.2M1072.2 434.9V437.3M1088.4 434.9V437.3M1079.1 428H1081.5M1079.1 444.2H1081.5M1070.4 443.1H1086.4M1078.4 437.1V449.1M1070.4 441.9V444.3M1086.4 441.9V444.3M1077.2 437.1H1079.6M1077.2 449.1H1079.6M1086.8 428.4H1101.2M1094 423.4V433.4M1086.8 427.2V429.6M1101.2 427.2V429.6M1092.8 423.4H1095.2M1092.8 433.4H1095.2M1092 423H1107M1099.5 417.5V428.5M1092 421.8V424.2M1107 421.8V424.2M1098.3 417.5H1100.7M1098.3 428.5H1100.7M1096.8 417.2H1111.8M1104.3 411.2V423.2M1096.8 416V418.4M1111.8 416V418.4M1103.1 411.2H1105.5M1103.1 423.2H1105.5M1098.4 421.6H1117.2M1107.8 413.8V429.4M1098.4 420.4V422.8M1117.2 420.4V422.8M1106.6 413.8H1109M1106.6 429.4H1109M1100.5 415.5H1116.5M1108.5 409.5V421.5M1100.5 414.3V416.7M1116.5 414.3V416.7M1107.3 409.5H1109.7M1107.3 421.5H1109.7M1106.3 412.6H1125.1M1115.7 406.1V419.1M1106.3 411.4V413.8M1125.1 411.4V413.8M1114.5 406.1H1116.9M1114.5 419.1H1116.9M1106.8 406.4H1125.6M1116.2 399V413.8M1106.8 405.2V407.6M1125.6 405.2V407.6M1115 399H1117.4M1115 413.8H1117.4M1112.3 405.3H1135.3M1123.8 394.5V416.1M1112.3 404.1V406.5M1135.3 404.1V406.5M1122.6 394.5H1125M1122.6 416.1H1125M1106.9 394.5H1132.5M1119.7 383.5V405.5M1106.9 393.3V395.7M1132.5 393.3V395.7M1118.5 383.5H1120.9M1118.5 405.5H1120.9M1126.3 393.6H1143.9M1135.1 386.8V400.4M1126.3 392.4V394.8M1143.9 392.4V394.8M1133.9 386.8H1136.3M1133.9 400.4H1136.3M1129.1 391.8H1149.3M1139.2 382.3V401.3M1129.1 390.6V393M1149.3 390.6V393M1138 382.3H1140.4M1138 401.3H1140.4M1134.6 389.1H1150.8M1142.7 382.3V395.9M1134.6 387.9V390.3M1150.8 387.9V390.3M1141.5 382.3H1143.9M1141.5 395.9H1143.9M1151.8 372H1169.8M1160.8 364.2V379.8M1151.8 370.8V373.2M1169.8 370.8V373.2M1159.6 364.2H1162M1159.6 379.8H1162M1169 356.4H1186.6M1177.8 350V362.8M1169 355.2V357.6M1186.6 355.2V357.6M1176.6 350H1179M1176.6 362.8H1179M1172 351.8H1189M1180.5 345.8V357.8M1172 350.6V353M1189 350.6V353M1179.3 345.8H1181.7M1179.3 357.8H1181.7M1172.2 348.5H1191.6M1181.9 341.7V355.3M1172.2 347.3V349.7M1191.6 347.3V349.7M1180.7 341.7H1183.1M1180.7 355.3H1183.1M1180.6 345H1202.2M1191.4 335.5V354.5M1180.6 343.8V346.2M1202.2 343.8V346.2M1190.2 335.5H1192.6M1190.2 354.5H1192.6M1174.2 341.5H1195M1184.6 332.7V350.3M1174.2 340.3V342.7M1195 340.3V342.7M1183.4 332.7H1185.8M1183.4 350.3H1185.8M1183.4 339.6H1199.4M1191.4 332.2V347M1183.4 338.4V340.8M1199.4 338.4V340.8M1190.2 332.2H1192.6M1190.2 347H1192.6M1190.1 336.9H1206.1M1198.1 330.9V342.9M1190.1 335.7V338.1M1206.1 335.7V338.1M1196.9 330.9H1199.3M1196.9 342.9H1199.3M1192.8 332.3H1210.4M1201.6 324.9V339.7M1192.8 331.1V333.5M1210.4 331.1V333.5M1200.4 324.9H1202.8M1200.4 339.7H1202.8M1207.8 321.5H1224.6M1216.2 315.1V327.9M1207.8 320.3V322.7M1224.6 320.3V322.7M1215 315.1H1217.4M1215 327.9H1217.4" fill="none" stroke="#111" stroke-width="1.15"/>
<circle cx="1020.3" cy="495.5" r="1.95" fill="#111"/>
<circle cx="1046.2" cy="473.4" r="1.95" fill="#111"/>
<circle cx="1055.4" cy="459.6" r="1.95" fill="#111"/>
<circle cx="1068.4" cy="448.2" r="1.95" fill="#111"/>
<circle cx="1069.7" cy="453.6" r="1.95" fill="#111"/>
<circle cx="1073" cy="455" r="1.95" fill="#111"/>
<circle cx="1076.5" cy="449.6" r="1.95" fill="#111"/>
<circle cx="1078.4" cy="445.5" r="1.95" fill="#111"/>
<circle cx="1080.3" cy="436.1" r="1.95" fill="#111"/>
<circle cx="1078.4" cy="443.1" r="1.95" fill="#111"/>
<circle cx="1094" cy="428.4" r="1.95" fill="#111"/>
<circle cx="1099.5" cy="423" r="1.95" fill="#111"/>
<circle cx="1104.3" cy="417.2" r="1.95" fill="#111"/>
<circle cx="1107.8" cy="421.6" r="1.95" fill="#111"/>
<circle cx="1108.5" cy="415.5" r="1.95" fill="#111"/>
<circle cx="1115.7" cy="412.6" r="1.95" fill="#111"/>
<circle cx="1116.2" cy="406.4" r="1.95" fill="#111"/>
<circle cx="1123.8" cy="405.3" r="1.95" fill="#111"/>
<circle cx="1119.7" cy="394.5" r="1.95" fill="#111"/>
<circle cx="1135.1" cy="393.6" r="1.95" fill="#111"/>
<circle cx="1139.2" cy="391.8" r="1.95" fill="#111"/>
<circle cx="1142.7" cy="389.1" r="1.95" fill="#111"/>
<circle cx="1160.8" cy="372" r="1.95" fill="#111"/>
<circle cx="1177.8" cy="356.4" r="1.95" fill="#111"/>
<circle cx="1180.5" cy="351.8" r="1.95" fill="#111"/>
<circle cx="1181.9" cy="348.5" r="1.95" fill="#111"/>
<circle cx="1191.4" cy="345" r="1.95" fill="#111"/>
<circle cx="1184.6" cy="341.5" r="1.95" fill="#111"/>
<circle cx="1191.4" cy="339.6" r="1.95" fill="#111"/>
<circle cx="1198.1" cy="336.9" r="1.95" fill="#111"/>
<circle cx="1201.6" cy="332.3" r="1.95" fill="#111"/>
<circle cx="1216.2" cy="321.5" r="1.95" fill="#111"/>
<path d="M1000.6 306.1H1234.6" fill="none" stroke="#666" stroke-width="0.9"/>
<path d="M1234.6 306.1V513.6" fill="none" stroke="#cfcfcf" stroke-width="0.9"/>
<path d="M1000.6 306.1V513.6H1234.6" fill="none" stroke="#333" stroke-width="1.1"/>
<text x="995.7" y="497.7" font-size="15.6" text-anchor="end" font-weight="normal" font-style="normal" fill="#4d4d4d" textLength="21.3" lengthAdjust="spacingAndGlyphs">0.1</text>
<text x="1023.4" y="527.5" font-size="15.2" text-anchor="middle" font-weight="normal" font-style="normal" fill="#4d4d4d" textLength="20.4" lengthAdjust="spacingAndGlyphs">0.1</text>
<line x1="998.2" y1="495.3" x2="1000.6" y2="495.3" stroke="#333" stroke-width="0.9"/>
<text x="995.7" y="458.4" font-size="15.6" text-anchor="end" font-weight="normal" font-style="normal" fill="#4d4d4d" textLength="21.3" lengthAdjust="spacingAndGlyphs">0.2</text>
<text x="1068" y="527.5" font-size="15.2" text-anchor="middle" font-weight="normal" font-style="normal" fill="#4d4d4d" textLength="20.4" lengthAdjust="spacingAndGlyphs">0.2</text>
<line x1="998.2" y1="456" x2="1000.6" y2="456" stroke="#333" stroke-width="0.9"/>
<text x="995.7" y="419.1" font-size="15.6" text-anchor="end" font-weight="normal" font-style="normal" fill="#4d4d4d" textLength="21.3" lengthAdjust="spacingAndGlyphs">0.3</text>
<text x="1112.5" y="527.5" font-size="15.2" text-anchor="middle" font-weight="normal" font-style="normal" fill="#4d4d4d" textLength="20.4" lengthAdjust="spacingAndGlyphs">0.3</text>
<line x1="998.2" y1="416.7" x2="1000.6" y2="416.7" stroke="#333" stroke-width="0.9"/>
<text x="995.7" y="379.8" font-size="15.6" text-anchor="end" font-weight="normal" font-style="normal" fill="#4d4d4d" textLength="21.3" lengthAdjust="spacingAndGlyphs">0.4</text>
<text x="1157.1" y="527.5" font-size="15.2" text-anchor="middle" font-weight="normal" font-style="normal" fill="#4d4d4d" textLength="20.4" lengthAdjust="spacingAndGlyphs">0.4</text>
<line x1="998.2" y1="377.4" x2="1000.6" y2="377.4" stroke="#333" stroke-width="0.9"/>
<text x="995.7" y="340.5" font-size="15.6" text-anchor="end" font-weight="normal" font-style="normal" fill="#4d4d4d" textLength="21.3" lengthAdjust="spacingAndGlyphs">0.5</text>
<text x="1201.6" y="527.5" font-size="15.2" text-anchor="middle" font-weight="normal" font-style="normal" fill="#4d4d4d" textLength="20.4" lengthAdjust="spacingAndGlyphs">0.5</text>
<line x1="998.2" y1="338.1" x2="1000.6" y2="338.1" stroke="#333" stroke-width="0.9"/>
<text x="1167" y="500.2" font-size="26.5" text-anchor="start" font-weight="normal" font-style="normal" fill="#333" textLength="62.2" lengthAdjust="spacingAndGlyphs">3.8%</text>
<text x="994" y="545.6" font-size="19.8" text-anchor="start" font-weight="normal" font-style="normal" fill="#1a1a1a" textLength="255" lengthAdjust="spacingAndGlyphs">Protein sequences (MAFFT)</text>
<text transform="translate(961.6 486.9) rotate(-90)" font-size="19.2" fill="#1a1a1a" textLength="152.3" lengthAdjust="spacingAndGlyphs">Protein structures</text></svg>
</body></html>
